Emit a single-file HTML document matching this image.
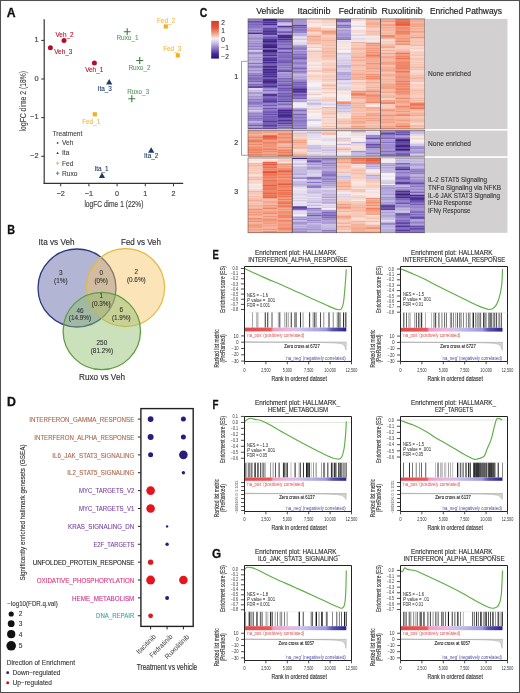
<!DOCTYPE html>
<html><head><meta charset="utf-8"><style>
html,body{margin:0;padding:0;background:#fff;}
body{width:520px;height:693px;overflow:hidden;}
svg{display:block;font-family:"Liberation Sans", sans-serif;will-change:transform;}
</style></head><body>
<svg width="520" height="693" viewBox="0 0 520 693">
<rect width="520" height="693" fill="#fff"/>
<text transform="translate(6.69,17.00) scale(1.028,1)" font-size="11.9" font-weight="bold" fill="#111" stroke="#111" stroke-width="0.3">A</text>
<line x1="44.20" y1="19.20" x2="44.20" y2="183.80" stroke="#333" stroke-width="1.2" />
<line x1="43.60" y1="183.30" x2="183.20" y2="183.30" stroke="#333" stroke-width="1.2" />
<line x1="41.20" y1="40.40" x2="44.20" y2="40.40" stroke="#333" stroke-width="1" />
<text x="38.50" y="42.26" font-size="7.4" fill="#444" stroke="#444" stroke-width="0.16" text-anchor="end" >1</text>
<line x1="41.20" y1="79.00" x2="44.20" y2="79.00" stroke="#333" stroke-width="1" />
<text x="38.50" y="80.86" font-size="7.4" fill="#444" stroke="#444" stroke-width="0.16" text-anchor="end" >0</text>
<line x1="41.20" y1="117.60" x2="44.20" y2="117.60" stroke="#333" stroke-width="1" />
<text x="38.50" y="119.46" font-size="7.4" fill="#444" stroke="#444" stroke-width="0.16" text-anchor="end" >−1</text>
<line x1="41.20" y1="156.30" x2="44.20" y2="156.30" stroke="#333" stroke-width="1" />
<text x="38.50" y="158.16" font-size="7.4" fill="#444" stroke="#444" stroke-width="0.16" text-anchor="end" >−2</text>
<line x1="60.70" y1="183.30" x2="60.70" y2="186.30" stroke="#333" stroke-width="1" />
<text x="60.70" y="196.19" font-size="7.2" fill="#444" stroke="#444" stroke-width="0.16" text-anchor="middle" >−2</text>
<line x1="88.90" y1="183.30" x2="88.90" y2="186.30" stroke="#333" stroke-width="1" />
<text x="88.90" y="196.19" font-size="7.2" fill="#444" stroke="#444" stroke-width="0.16" text-anchor="middle" >−1</text>
<line x1="117.10" y1="183.30" x2="117.10" y2="186.30" stroke="#333" stroke-width="1" />
<text x="117.10" y="196.19" font-size="7.2" fill="#444" stroke="#444" stroke-width="0.16" text-anchor="middle" >0</text>
<line x1="145.30" y1="183.30" x2="145.30" y2="186.30" stroke="#333" stroke-width="1" />
<text x="145.30" y="196.19" font-size="7.2" fill="#444" stroke="#444" stroke-width="0.16" text-anchor="middle" >1</text>
<line x1="173.50" y1="183.30" x2="173.50" y2="186.30" stroke="#333" stroke-width="1" />
<text x="173.50" y="196.19" font-size="7.2" fill="#444" stroke="#444" stroke-width="0.16" text-anchor="middle" >2</text>
<text x="113.90" y="207.20" font-size="8.5" fill="#444" stroke="#444" stroke-width="0.16" text-anchor="middle" textLength="59" lengthAdjust="spacingAndGlyphs" >logFC dime 1 (22%)</text>
<text transform="translate(26.0,101.2) rotate(-90)" font-size="8.5" fill="#444" stroke="#444" stroke-width="0.12" text-anchor="middle" textLength="60.4" lengthAdjust="spacingAndGlyphs">logFC dime 2 (18%)</text>
<circle cx="64" cy="40.4" r="2.5" fill="#b0102c"/>
<text x="64.50" y="37.30" font-size="6.4" fill="#b0102c" stroke="#b0102c" stroke-width="0.1" text-anchor="middle" >Veh_2</text>
<circle cx="50.4" cy="47.8" r="2.5" fill="#b0102c"/>
<text x="54.20" y="53.70" font-size="6.4" fill="#b0102c" stroke="#b0102c" stroke-width="0.1" text-anchor="start" >Veh_3</text>
<circle cx="94.4" cy="63" r="2.5" fill="#b0102c"/>
<text x="94.20" y="71.50" font-size="6.4" fill="#b0102c" stroke="#b0102c" stroke-width="0.1" text-anchor="middle" >Veh_1</text>
<polygon points="106.10000000000001,84.48 112.3,84.48 109.2,78.9" fill="#1d3a66"/>
<text x="104.80" y="90.50" font-size="6.4" fill="#1d3a66" stroke="#1d3a66" stroke-width="0.1" text-anchor="middle" >Ita_3</text>
<polygon points="98.9,177.98 105.1,177.98 102,172.4" fill="#1d3a66"/>
<text x="101.50" y="171.00" font-size="6.4" fill="#1d3a66" stroke="#1d3a66" stroke-width="0.1" text-anchor="middle" >Ita_1</text>
<polygon points="148.1,152.78 154.29999999999998,152.78 151.2,147.20000000000002" fill="#1d3a66"/>
<text x="151.20" y="158.30" font-size="6.4" fill="#1d3a66" stroke="#1d3a66" stroke-width="0.1" text-anchor="middle" >Ita_2</text>
<rect x="92.7" y="112.2" width="4.2" height="4.2" fill="#f2b01e"/>
<text x="91.20" y="123.60" font-size="6.4" fill="#f3b83a" stroke="#f3b83a" stroke-width="0.1" text-anchor="middle" >Fed_1</text>
<rect x="163.70000000000002" y="24.4" width="4.2" height="4.2" fill="#f2b01e"/>
<text x="166.00" y="22.50" font-size="6.4" fill="#f3b83a" stroke="#f3b83a" stroke-width="0.1" text-anchor="middle" >Fed_2</text>
<rect x="175.70000000000002" y="53.3" width="4.2" height="4.2" fill="#f2b01e"/>
<text x="172.20" y="51.30" font-size="6.4" fill="#f3b83a" stroke="#f3b83a" stroke-width="0.1" text-anchor="middle" >Fed_3</text>
<path d="M123.7 31.8H130.7M127.2 28.3V35.3" stroke="#3d7a45" stroke-width="1.1"/>
<text x="127.50" y="40.30" font-size="6.4" fill="#5c9a64" stroke="#5c9a64" stroke-width="0.1" text-anchor="middle" >Ruxo_1</text>
<path d="M136.2 60.5H143.2M139.7 57.0V64.0" stroke="#3d7a45" stroke-width="1.1"/>
<text x="139.50" y="69.90" font-size="6.4" fill="#5c9a64" stroke="#5c9a64" stroke-width="0.1" text-anchor="middle" >Ruxo_2</text>
<path d="M128.3 98.8H135.3M131.8 95.3V102.3" stroke="#3d7a45" stroke-width="1.1"/>
<text x="138.20" y="94.10" font-size="6.4" fill="#5c9a64" stroke="#5c9a64" stroke-width="0.1" text-anchor="middle" >Ruxo_3</text>
<text x="52.50" y="135.78" font-size="6.6" fill="#444" stroke="#444" stroke-width="0.1" text-anchor="start" >Treatment</text>
<circle cx="57.6" cy="142.9" r="0.9" fill="#b0102c"/>
<text x="62.00" y="145.28" font-size="6.6" fill="#444" stroke="#444" stroke-width="0.1" text-anchor="start" >Veh</text>
<polygon points="56.4,153.9 58.8,153.9 57.6,151.8" fill="#1d3a66"/>
<text x="62.00" y="155.38" font-size="6.6" fill="#444" stroke="#444" stroke-width="0.1" text-anchor="start" >Ita</text>
<path d="M56.1 163.2H59.1M57.6 161.7V164.7" stroke="#f2b01e" stroke-width="0.9"/>
<text x="62.00" y="165.58" font-size="6.6" fill="#444" stroke="#444" stroke-width="0.1" text-anchor="start" >Fed</text>
<path d="M55.9 173.2H59.3M57.6 171.5V174.89999999999998" stroke="#4a8f52" stroke-width="0.9"/>
<text x="62.00" y="175.58" font-size="6.6" fill="#444" stroke="#444" stroke-width="0.1" text-anchor="start" >Ruxo</text>
<text transform="translate(199.68,16.90) scale(0.885,1)" font-size="11.9" font-weight="bold" fill="#111" stroke="#111" stroke-width="0.3">C</text>
<defs><linearGradient id="cb" x1="0" y1="0" x2="0" y2="1"><stop offset="0" stop-color="#d83a28"/><stop offset="0.18" stop-color="#e65438"/><stop offset="0.34" stop-color="#f3a48a"/><stop offset="0.47" stop-color="#f8eef0"/><stop offset="0.6" stop-color="#c6b8e2"/><stop offset="0.74" stop-color="#8470c2"/><stop offset="0.87" stop-color="#4a2c9c"/><stop offset="1" stop-color="#2a1070"/></linearGradient></defs>
<rect x="211.2" y="20.9" width="7.7" height="37.7" fill="url(#cb)"/>
<text x="221.30" y="24.88" font-size="6.6" fill="#333" stroke="#333" stroke-width="0.1" text-anchor="start" >2</text>
<text x="221.30" y="33.28" font-size="6.6" fill="#333" stroke="#333" stroke-width="0.1" text-anchor="start" >1</text>
<text x="221.30" y="42.18" font-size="6.6" fill="#333" stroke="#333" stroke-width="0.1" text-anchor="start" >0</text>
<text x="221.30" y="50.28" font-size="6.6" fill="#333" stroke="#333" stroke-width="0.1" text-anchor="start" >−1</text>
<text x="221.30" y="58.88" font-size="6.6" fill="#333" stroke="#333" stroke-width="0.1" text-anchor="start" >−2</text>
<text x="270.20" y="14.30" font-size="8.6" fill="#222" stroke="#222" stroke-width="0.16" text-anchor="middle" textLength="27.7" lengthAdjust="spacingAndGlyphs" >Vehicle</text>
<text x="314.00" y="14.30" font-size="8.6" fill="#222" stroke="#222" stroke-width="0.16" text-anchor="middle" textLength="33.1" lengthAdjust="spacingAndGlyphs" >Itacitinib</text>
<text x="357.90" y="14.30" font-size="8.6" fill="#222" stroke="#222" stroke-width="0.16" text-anchor="middle" textLength="38.3" lengthAdjust="spacingAndGlyphs" >Fedratinib</text>
<text x="402.10" y="14.30" font-size="8.6" fill="#222" stroke="#222" stroke-width="0.16" text-anchor="middle" textLength="41.3" lengthAdjust="spacingAndGlyphs" >Ruxolitinib</text>
<text x="466.00" y="14.30" font-size="8.6" fill="#222" stroke="#222" stroke-width="0.16" text-anchor="middle" textLength="72" lengthAdjust="spacingAndGlyphs" >Enriched Pathways</text>
<defs><filter id="hb" filterUnits="userSpaceOnUse" x="246" y="16" width="181" height="220"><feGaussianBlur stdDeviation="0.4"/></filter></defs>
<g filter="url(#hb)">
<rect x="248.0" y="18.90" width="14.8" height="1.65" fill="#927fc9"/>
<rect x="248.0" y="20.50" width="14.8" height="1.65" fill="#684eae"/>
<rect x="248.0" y="22.10" width="14.8" height="1.65" fill="#6a51b0"/>
<rect x="248.0" y="23.70" width="14.8" height="1.35" fill="#7d66bd"/>
<rect x="248.0" y="25.00" width="14.8" height="2.05" fill="#8872c4"/>
<rect x="248.0" y="27.00" width="14.8" height="1.35" fill="#8b77c6"/>
<rect x="248.0" y="28.30" width="14.8" height="1.15" fill="#806abf"/>
<rect x="248.0" y="29.40" width="14.8" height="2.05" fill="#8b76c5"/>
<rect x="248.0" y="31.40" width="14.8" height="1.15" fill="#7c65bc"/>
<rect x="248.0" y="32.50" width="14.8" height="1.65" fill="#4b2e95"/>
<rect x="248.0" y="34.10" width="14.8" height="2.05" fill="#afa1d6"/>
<rect x="248.0" y="36.10" width="14.8" height="2.05" fill="#aa9bd4"/>
<rect x="248.0" y="38.10" width="14.8" height="1.15" fill="#917ec8"/>
<rect x="248.0" y="39.20" width="14.8" height="1.35" fill="#9684cb"/>
<rect x="248.0" y="40.50" width="14.8" height="2.05" fill="#a493d1"/>
<rect x="248.0" y="42.50" width="14.8" height="1.65" fill="#9683ca"/>
<rect x="248.0" y="44.10" width="14.8" height="2.05" fill="#a291d0"/>
<rect x="248.0" y="46.10" width="14.8" height="1.35" fill="#8873c4"/>
<rect x="248.0" y="47.40" width="14.8" height="1.65" fill="#9e8dce"/>
<rect x="248.0" y="49.00" width="14.8" height="1.35" fill="#9886cb"/>
<rect x="248.0" y="50.30" width="14.8" height="1.65" fill="#cdc3e3"/>
<rect x="248.0" y="51.90" width="14.8" height="1.15" fill="#9c8bcd"/>
<rect x="248.0" y="53.00" width="14.8" height="1.35" fill="#9886cc"/>
<rect x="248.0" y="54.30" width="14.8" height="1.35" fill="#a798d2"/>
<rect x="248.0" y="55.60" width="14.8" height="1.15" fill="#b5a8d9"/>
<rect x="248.0" y="56.70" width="14.8" height="1.65" fill="#a899d3"/>
<rect x="248.0" y="58.30" width="14.8" height="1.15" fill="#a696d2"/>
<rect x="248.0" y="59.40" width="14.8" height="1.15" fill="#907dc8"/>
<rect x="248.0" y="60.50" width="14.8" height="1.15" fill="#a595d1"/>
<rect x="248.0" y="61.60" width="14.8" height="1.15" fill="#baaedb"/>
<rect x="248.0" y="62.70" width="14.8" height="1.65" fill="#8671c3"/>
<rect x="248.0" y="64.30" width="14.8" height="1.65" fill="#a99ad3"/>
<rect x="248.0" y="65.90" width="14.8" height="1.15" fill="#8e7ac7"/>
<rect x="248.0" y="67.00" width="14.8" height="1.35" fill="#9380c9"/>
<rect x="248.0" y="68.30" width="14.8" height="1.35" fill="#a493d1"/>
<rect x="248.0" y="69.60" width="14.8" height="1.65" fill="#9f8ecf"/>
<rect x="248.0" y="71.20" width="14.8" height="1.15" fill="#a898d3"/>
<rect x="248.0" y="72.30" width="14.8" height="1.15" fill="#aa9bd4"/>
<rect x="248.0" y="73.40" width="14.8" height="1.15" fill="#6d54b2"/>
<rect x="248.0" y="74.50" width="14.8" height="2.05" fill="#826cc0"/>
<rect x="248.0" y="76.50" width="14.8" height="1.35" fill="#755db7"/>
<rect x="248.0" y="77.80" width="14.8" height="1.35" fill="#816bbf"/>
<rect x="248.0" y="79.10" width="14.8" height="1.65" fill="#7962ba"/>
<rect x="248.0" y="80.70" width="14.8" height="1.65" fill="#7861b9"/>
<rect x="248.0" y="82.30" width="14.8" height="1.35" fill="#9d8bce"/>
<rect x="248.0" y="83.60" width="14.8" height="2.05" fill="#7e68bd"/>
<rect x="248.0" y="85.60" width="14.8" height="1.35" fill="#6349ab"/>
<rect x="248.0" y="86.90" width="14.8" height="1.35" fill="#6045a9"/>
<rect x="248.0" y="88.20" width="14.8" height="1.65" fill="#e0d8eb"/>
<rect x="248.0" y="89.80" width="14.8" height="2.05" fill="#c7bce1"/>
<rect x="248.0" y="91.80" width="14.8" height="1.15" fill="#aa9bd4"/>
<rect x="248.0" y="92.90" width="14.8" height="1.65" fill="#a494d1"/>
<rect x="248.0" y="94.50" width="14.8" height="1.35" fill="#b7abda"/>
<rect x="248.0" y="95.80" width="14.8" height="1.35" fill="#a393d1"/>
<rect x="248.0" y="97.10" width="14.8" height="1.65" fill="#a899d3"/>
<rect x="248.0" y="98.70" width="14.8" height="2.05" fill="#8b77c5"/>
<rect x="248.0" y="100.70" width="14.8" height="1.35" fill="#9784cb"/>
<rect x="248.0" y="102.00" width="14.8" height="2.05" fill="#8975c5"/>
<rect x="248.0" y="104.00" width="14.8" height="1.65" fill="#9684cb"/>
<rect x="248.0" y="105.60" width="14.8" height="2.05" fill="#9784cb"/>
<rect x="248.0" y="107.60" width="14.8" height="1.35" fill="#beb2dd"/>
<rect x="248.0" y="108.90" width="14.8" height="1.35" fill="#afa1d6"/>
<rect x="248.0" y="110.20" width="14.8" height="1.35" fill="#d2c8e5"/>
<rect x="248.0" y="111.50" width="14.8" height="1.35" fill="#a798d2"/>
<rect x="248.0" y="112.80" width="14.8" height="1.35" fill="#9481ca"/>
<rect x="248.0" y="114.10" width="14.8" height="2.05" fill="#9a89cd"/>
<rect x="248.0" y="116.10" width="14.8" height="1.35" fill="#826cc0"/>
<rect x="248.0" y="117.40" width="14.8" height="1.65" fill="#846fc1"/>
<rect x="248.0" y="119.00" width="14.8" height="2.05" fill="#9784cb"/>
<rect x="248.0" y="121.00" width="14.8" height="1.15" fill="#bfb3dd"/>
<rect x="248.0" y="122.10" width="14.8" height="1.15" fill="#b0a2d6"/>
<rect x="248.0" y="123.20" width="14.8" height="1.65" fill="#917ec8"/>
<rect x="248.0" y="124.80" width="14.8" height="1.35" fill="#755eb7"/>
<rect x="248.0" y="126.10" width="14.8" height="1.65" fill="#a392d0"/>
<rect x="248.0" y="127.70" width="14.8" height="1.35" fill="#7057b4"/>
<rect x="262.7" y="18.90" width="14.8" height="1.15" fill="#3e2186"/>
<rect x="262.7" y="20.00" width="14.8" height="1.35" fill="#43258b"/>
<rect x="262.7" y="21.30" width="14.8" height="2.05" fill="#4c3096"/>
<rect x="262.7" y="23.30" width="14.8" height="2.05" fill="#472a8f"/>
<rect x="262.7" y="25.30" width="14.8" height="1.35" fill="#6f56b3"/>
<rect x="262.7" y="26.60" width="14.8" height="1.15" fill="#7861b9"/>
<rect x="262.7" y="27.70" width="14.8" height="1.35" fill="#6247aa"/>
<rect x="262.7" y="29.00" width="14.8" height="1.15" fill="#674dad"/>
<rect x="262.7" y="30.10" width="14.8" height="2.05" fill="#4c2f96"/>
<rect x="262.7" y="32.10" width="14.8" height="2.05" fill="#4e3198"/>
<rect x="262.7" y="34.10" width="14.8" height="1.35" fill="#492c93"/>
<rect x="262.7" y="35.40" width="14.8" height="1.65" fill="#8a75c5"/>
<rect x="262.7" y="37.00" width="14.8" height="2.05" fill="#7159b5"/>
<rect x="262.7" y="39.00" width="14.8" height="2.05" fill="#4c3096"/>
<rect x="262.7" y="41.00" width="14.8" height="1.15" fill="#3d1f84"/>
<rect x="262.7" y="42.10" width="14.8" height="1.65" fill="#4d3097"/>
<rect x="262.7" y="43.70" width="14.8" height="1.15" fill="#3a1c80"/>
<rect x="262.7" y="44.80" width="14.8" height="1.15" fill="#3e2185"/>
<rect x="262.7" y="45.90" width="14.8" height="1.15" fill="#3f2186"/>
<rect x="262.7" y="47.00" width="14.8" height="1.35" fill="#381a7e"/>
<rect x="262.7" y="48.30" width="14.8" height="1.15" fill="#674eae"/>
<rect x="262.7" y="49.40" width="14.8" height="1.65" fill="#381a7e"/>
<rect x="262.7" y="51.00" width="14.8" height="1.35" fill="#3d1f84"/>
<rect x="262.7" y="52.30" width="14.8" height="1.35" fill="#391b7f"/>
<rect x="262.7" y="53.60" width="14.8" height="1.15" fill="#4c2f96"/>
<rect x="262.7" y="54.70" width="14.8" height="1.65" fill="#4c2f96"/>
<rect x="262.7" y="56.30" width="14.8" height="1.65" fill="#694faf"/>
<rect x="262.7" y="57.90" width="14.8" height="2.05" fill="#4e3299"/>
<rect x="262.7" y="59.90" width="14.8" height="1.65" fill="#42258a"/>
<rect x="262.7" y="61.50" width="14.8" height="2.05" fill="#44278d"/>
<rect x="262.7" y="63.50" width="14.8" height="1.15" fill="#412489"/>
<rect x="262.7" y="64.60" width="14.8" height="1.15" fill="#6146a9"/>
<rect x="262.7" y="65.70" width="14.8" height="1.35" fill="#492c93"/>
<rect x="262.7" y="67.00" width="14.8" height="1.65" fill="#51349c"/>
<rect x="262.7" y="68.60" width="14.8" height="1.65" fill="#3e2186"/>
<rect x="262.7" y="70.20" width="14.8" height="1.65" fill="#391b7f"/>
<rect x="262.7" y="71.80" width="14.8" height="2.05" fill="#472a90"/>
<rect x="262.7" y="73.80" width="14.8" height="2.05" fill="#50349b"/>
<rect x="262.7" y="75.80" width="14.8" height="1.65" fill="#46298f"/>
<rect x="262.7" y="77.40" width="14.8" height="1.15" fill="#46298e"/>
<rect x="262.7" y="78.50" width="14.8" height="1.65" fill="#52369d"/>
<rect x="262.7" y="80.10" width="14.8" height="2.05" fill="#3e2186"/>
<rect x="262.7" y="82.10" width="14.8" height="1.15" fill="#3b1d82"/>
<rect x="262.7" y="83.20" width="14.8" height="1.35" fill="#402287"/>
<rect x="262.7" y="84.50" width="14.8" height="1.35" fill="#51359c"/>
<rect x="262.7" y="85.80" width="14.8" height="2.05" fill="#4d3198"/>
<rect x="262.7" y="87.80" width="14.8" height="1.65" fill="#9b8acd"/>
<rect x="262.7" y="89.40" width="14.8" height="1.65" fill="#8873c4"/>
<rect x="262.7" y="91.00" width="14.8" height="1.35" fill="#a99ad3"/>
<rect x="262.7" y="92.30" width="14.8" height="1.35" fill="#9f8ecf"/>
<rect x="262.7" y="93.60" width="14.8" height="1.35" fill="#4a2d93"/>
<rect x="262.7" y="94.90" width="14.8" height="1.35" fill="#4d3197"/>
<rect x="262.7" y="96.20" width="14.8" height="1.35" fill="#6349ab"/>
<rect x="262.7" y="97.50" width="14.8" height="1.35" fill="#6247aa"/>
<rect x="262.7" y="98.80" width="14.8" height="1.15" fill="#6349ab"/>
<rect x="262.7" y="99.90" width="14.8" height="1.15" fill="#6147aa"/>
<rect x="262.7" y="101.00" width="14.8" height="1.35" fill="#54389f"/>
<rect x="262.7" y="102.30" width="14.8" height="1.15" fill="#4f339a"/>
<rect x="262.7" y="103.40" width="14.8" height="1.35" fill="#826cc0"/>
<rect x="262.7" y="104.70" width="14.8" height="1.65" fill="#7158b4"/>
<rect x="262.7" y="106.30" width="14.8" height="1.35" fill="#8a76c5"/>
<rect x="262.7" y="107.60" width="14.8" height="2.05" fill="#6e56b3"/>
<rect x="262.7" y="109.60" width="14.8" height="1.15" fill="#765eb8"/>
<rect x="262.7" y="110.70" width="14.8" height="1.35" fill="#7760b8"/>
<rect x="262.7" y="112.00" width="14.8" height="1.35" fill="#7159b4"/>
<rect x="262.7" y="113.30" width="14.8" height="2.05" fill="#674dad"/>
<rect x="262.7" y="115.30" width="14.8" height="2.05" fill="#7159b5"/>
<rect x="262.7" y="117.30" width="14.8" height="1.15" fill="#563aa2"/>
<rect x="262.7" y="118.40" width="14.8" height="1.35" fill="#5539a1"/>
<rect x="262.7" y="119.70" width="14.8" height="1.15" fill="#6147aa"/>
<rect x="262.7" y="120.80" width="14.8" height="1.35" fill="#5539a1"/>
<rect x="262.7" y="122.10" width="14.8" height="1.15" fill="#674eae"/>
<rect x="262.7" y="123.20" width="14.8" height="1.15" fill="#5f45a8"/>
<rect x="262.7" y="124.30" width="14.8" height="2.05" fill="#53379e"/>
<rect x="262.7" y="126.30" width="14.8" height="1.15" fill="#4e3299"/>
<rect x="262.7" y="127.40" width="14.8" height="1.65" fill="#654bac"/>
<rect x="277.5" y="18.90" width="14.8" height="1.35" fill="#846fc1"/>
<rect x="277.5" y="20.20" width="14.8" height="1.15" fill="#755db7"/>
<rect x="277.5" y="21.30" width="14.8" height="1.15" fill="#6147aa"/>
<rect x="277.5" y="22.40" width="14.8" height="1.35" fill="#b6a8d9"/>
<rect x="277.5" y="23.70" width="14.8" height="2.05" fill="#cfc5e4"/>
<rect x="277.5" y="25.70" width="14.8" height="2.05" fill="#4f339a"/>
<rect x="277.5" y="27.70" width="14.8" height="1.35" fill="#9d8bce"/>
<rect x="277.5" y="29.00" width="14.8" height="1.65" fill="#ab9cd4"/>
<rect x="277.5" y="30.60" width="14.8" height="1.35" fill="#7a63bb"/>
<rect x="277.5" y="31.90" width="14.8" height="1.15" fill="#725ab5"/>
<rect x="277.5" y="33.00" width="14.8" height="1.65" fill="#9f8ecf"/>
<rect x="277.5" y="34.60" width="14.8" height="1.35" fill="#412489"/>
<rect x="277.5" y="35.90" width="14.8" height="1.15" fill="#492c92"/>
<rect x="277.5" y="37.00" width="14.8" height="1.65" fill="#44268c"/>
<rect x="277.5" y="38.60" width="14.8" height="2.05" fill="#4c2f96"/>
<rect x="277.5" y="40.60" width="14.8" height="1.35" fill="#694faf"/>
<rect x="277.5" y="41.90" width="14.8" height="1.35" fill="#836dc1"/>
<rect x="277.5" y="43.20" width="14.8" height="1.15" fill="#7962ba"/>
<rect x="277.5" y="44.30" width="14.8" height="1.15" fill="#5e43a7"/>
<rect x="277.5" y="45.40" width="14.8" height="1.35" fill="#7a63ba"/>
<rect x="277.5" y="46.70" width="14.8" height="1.15" fill="#8873c4"/>
<rect x="277.5" y="47.80" width="14.8" height="1.35" fill="#5f44a8"/>
<rect x="277.5" y="49.10" width="14.8" height="1.35" fill="#735bb6"/>
<rect x="277.5" y="50.40" width="14.8" height="1.35" fill="#927fc9"/>
<rect x="277.5" y="51.70" width="14.8" height="1.35" fill="#6950af"/>
<rect x="277.5" y="53.00" width="14.8" height="2.05" fill="#8772c3"/>
<rect x="277.5" y="55.00" width="14.8" height="2.05" fill="#816bbf"/>
<rect x="277.5" y="57.00" width="14.8" height="1.65" fill="#7b64bb"/>
<rect x="277.5" y="58.60" width="14.8" height="1.15" fill="#684eae"/>
<rect x="277.5" y="59.70" width="14.8" height="1.35" fill="#7b64bb"/>
<rect x="277.5" y="61.00" width="14.8" height="1.15" fill="#745cb6"/>
<rect x="277.5" y="62.10" width="14.8" height="1.35" fill="#6348ab"/>
<rect x="277.5" y="63.40" width="14.8" height="1.35" fill="#745db7"/>
<rect x="277.5" y="64.70" width="14.8" height="1.65" fill="#846ec1"/>
<rect x="277.5" y="66.30" width="14.8" height="2.05" fill="#8872c4"/>
<rect x="277.5" y="68.30" width="14.8" height="1.65" fill="#8a75c5"/>
<rect x="277.5" y="69.90" width="14.8" height="1.15" fill="#735bb6"/>
<rect x="277.5" y="71.00" width="14.8" height="1.35" fill="#674eae"/>
<rect x="277.5" y="72.30" width="14.8" height="2.05" fill="#a99ad3"/>
<rect x="277.5" y="74.30" width="14.8" height="1.35" fill="#846fc2"/>
<rect x="277.5" y="75.60" width="14.8" height="2.05" fill="#9e8cce"/>
<rect x="277.5" y="77.60" width="14.8" height="1.35" fill="#7861b9"/>
<rect x="277.5" y="78.90" width="14.8" height="2.05" fill="#8c77c6"/>
<rect x="277.5" y="80.90" width="14.8" height="1.35" fill="#7b64bb"/>
<rect x="277.5" y="82.20" width="14.8" height="2.05" fill="#8670c3"/>
<rect x="277.5" y="84.20" width="14.8" height="2.05" fill="#674eae"/>
<rect x="277.5" y="86.20" width="14.8" height="1.65" fill="#7b65bb"/>
<rect x="277.5" y="87.80" width="14.8" height="2.05" fill="#6b52b0"/>
<rect x="277.5" y="89.80" width="14.8" height="1.65" fill="#755db7"/>
<rect x="277.5" y="91.40" width="14.8" height="1.15" fill="#7057b3"/>
<rect x="277.5" y="92.50" width="14.8" height="1.65" fill="#735bb6"/>
<rect x="277.5" y="94.10" width="14.8" height="2.05" fill="#7a63bb"/>
<rect x="277.5" y="96.10" width="14.8" height="1.65" fill="#6247aa"/>
<rect x="277.5" y="97.70" width="14.8" height="1.15" fill="#725ab5"/>
<rect x="277.5" y="98.80" width="14.8" height="2.05" fill="#7962ba"/>
<rect x="277.5" y="100.80" width="14.8" height="1.65" fill="#5e43a7"/>
<rect x="277.5" y="102.40" width="14.8" height="1.65" fill="#927ec9"/>
<rect x="277.5" y="104.00" width="14.8" height="1.35" fill="#7e68bd"/>
<rect x="277.5" y="105.30" width="14.8" height="1.35" fill="#907cc8"/>
<rect x="277.5" y="106.60" width="14.8" height="1.65" fill="#9b8acd"/>
<rect x="277.5" y="108.20" width="14.8" height="1.65" fill="#6a50af"/>
<rect x="277.5" y="109.80" width="14.8" height="2.05" fill="#42248a"/>
<rect x="277.5" y="111.80" width="14.8" height="2.05" fill="#492d93"/>
<rect x="277.5" y="113.80" width="14.8" height="1.15" fill="#482b91"/>
<rect x="277.5" y="114.90" width="14.8" height="1.15" fill="#42258a"/>
<rect x="277.5" y="116.00" width="14.8" height="1.15" fill="#46298f"/>
<rect x="277.5" y="117.10" width="14.8" height="1.35" fill="#4a2d94"/>
<rect x="277.5" y="118.40" width="14.8" height="1.35" fill="#5539a1"/>
<rect x="277.5" y="119.70" width="14.8" height="1.65" fill="#4f339a"/>
<rect x="277.5" y="121.30" width="14.8" height="1.15" fill="#4a2d94"/>
<rect x="277.5" y="122.40" width="14.8" height="2.05" fill="#563aa2"/>
<rect x="277.5" y="124.40" width="14.8" height="2.05" fill="#745cb6"/>
<rect x="277.5" y="126.40" width="14.8" height="2.05" fill="#7e68bd"/>
<rect x="277.5" y="128.40" width="14.8" height="0.65" fill="#8974c4"/>
<rect x="292.2" y="18.90" width="14.8" height="2.05" fill="#a08fcf"/>
<rect x="292.2" y="20.90" width="14.8" height="2.05" fill="#a292d0"/>
<rect x="292.2" y="22.90" width="14.8" height="2.05" fill="#a696d2"/>
<rect x="292.2" y="24.90" width="14.8" height="1.35" fill="#6147aa"/>
<rect x="292.2" y="26.20" width="14.8" height="2.05" fill="#7961ba"/>
<rect x="292.2" y="28.20" width="14.8" height="2.05" fill="#856fc2"/>
<rect x="292.2" y="30.20" width="14.8" height="1.35" fill="#755eb7"/>
<rect x="292.2" y="31.50" width="14.8" height="1.35" fill="#7962ba"/>
<rect x="292.2" y="32.80" width="14.8" height="1.35" fill="#beb3dd"/>
<rect x="292.2" y="34.10" width="14.8" height="1.35" fill="#b3a6d8"/>
<rect x="292.2" y="35.40" width="14.8" height="1.15" fill="#a898d3"/>
<rect x="292.2" y="36.50" width="14.8" height="1.35" fill="#e7e0ed"/>
<rect x="292.2" y="37.80" width="14.8" height="1.15" fill="#d9d1e8"/>
<rect x="292.2" y="38.90" width="14.8" height="1.35" fill="#d1c7e5"/>
<rect x="292.2" y="40.20" width="14.8" height="1.65" fill="#ece5ef"/>
<rect x="292.2" y="41.80" width="14.8" height="2.05" fill="#e2daeb"/>
<rect x="292.2" y="43.80" width="14.8" height="1.65" fill="#d7cee7"/>
<rect x="292.2" y="45.40" width="14.8" height="1.15" fill="#8e7ac7"/>
<rect x="292.2" y="46.50" width="14.8" height="1.35" fill="#8974c5"/>
<rect x="292.2" y="47.80" width="14.8" height="1.35" fill="#8b77c6"/>
<rect x="292.2" y="49.10" width="14.8" height="1.35" fill="#8a75c5"/>
<rect x="292.2" y="50.40" width="14.8" height="2.05" fill="#9b89cd"/>
<rect x="292.2" y="52.40" width="14.8" height="1.15" fill="#7e67bd"/>
<rect x="292.2" y="53.50" width="14.8" height="1.65" fill="#816bbf"/>
<rect x="292.2" y="55.10" width="14.8" height="2.05" fill="#8b76c5"/>
<rect x="292.2" y="57.10" width="14.8" height="2.05" fill="#755db7"/>
<rect x="292.2" y="59.10" width="14.8" height="1.35" fill="#8671c3"/>
<rect x="292.2" y="60.40" width="14.8" height="1.35" fill="#8c78c6"/>
<rect x="292.2" y="61.70" width="14.8" height="1.35" fill="#927ec8"/>
<rect x="292.2" y="63.00" width="14.8" height="1.35" fill="#8e7ac7"/>
<rect x="292.2" y="64.30" width="14.8" height="1.15" fill="#8570c2"/>
<rect x="292.2" y="65.40" width="14.8" height="1.35" fill="#9986cc"/>
<rect x="292.2" y="66.70" width="14.8" height="1.15" fill="#836dc1"/>
<rect x="292.2" y="67.80" width="14.8" height="1.35" fill="#7c65bc"/>
<rect x="292.2" y="69.10" width="14.8" height="1.35" fill="#927fc9"/>
<rect x="292.2" y="70.40" width="14.8" height="1.65" fill="#8c77c6"/>
<rect x="292.2" y="72.00" width="14.8" height="1.15" fill="#9784cb"/>
<rect x="292.2" y="73.10" width="14.8" height="1.35" fill="#a99ad3"/>
<rect x="292.2" y="74.40" width="14.8" height="1.35" fill="#b2a4d7"/>
<rect x="292.2" y="75.70" width="14.8" height="1.65" fill="#b5a7d9"/>
<rect x="292.2" y="77.30" width="14.8" height="1.15" fill="#9886cb"/>
<rect x="292.2" y="78.40" width="14.8" height="2.05" fill="#a696d2"/>
<rect x="292.2" y="80.40" width="14.8" height="1.15" fill="#7159b4"/>
<rect x="292.2" y="81.50" width="14.8" height="1.65" fill="#755eb7"/>
<rect x="292.2" y="83.10" width="14.8" height="2.05" fill="#7a63ba"/>
<rect x="292.2" y="85.10" width="14.8" height="1.35" fill="#826cc0"/>
<rect x="292.2" y="86.40" width="14.8" height="1.15" fill="#492d93"/>
<rect x="292.2" y="87.50" width="14.8" height="1.35" fill="#54379f"/>
<rect x="292.2" y="88.80" width="14.8" height="1.35" fill="#482b91"/>
<rect x="292.2" y="90.10" width="14.8" height="2.05" fill="#4b2e95"/>
<rect x="292.2" y="92.10" width="14.8" height="1.35" fill="#54379f"/>
<rect x="292.2" y="93.40" width="14.8" height="1.65" fill="#6d54b1"/>
<rect x="292.2" y="95.00" width="14.8" height="1.35" fill="#735bb6"/>
<rect x="292.2" y="96.30" width="14.8" height="1.35" fill="#684eae"/>
<rect x="292.2" y="97.60" width="14.8" height="1.35" fill="#6a51b0"/>
<rect x="292.2" y="98.90" width="14.8" height="2.05" fill="#b3a6d8"/>
<rect x="292.2" y="100.90" width="14.8" height="1.35" fill="#ab9cd4"/>
<rect x="292.2" y="102.20" width="14.8" height="1.35" fill="#e3dcec"/>
<rect x="292.2" y="103.50" width="14.8" height="1.35" fill="#f1ebf2"/>
<rect x="292.2" y="104.80" width="14.8" height="2.05" fill="#f2edf2"/>
<rect x="292.2" y="106.80" width="14.8" height="1.65" fill="#e9e3ee"/>
<rect x="292.2" y="108.40" width="14.8" height="1.35" fill="#9582ca"/>
<rect x="292.2" y="109.70" width="14.8" height="2.05" fill="#846ec1"/>
<rect x="292.2" y="111.70" width="14.8" height="1.15" fill="#a292d0"/>
<rect x="292.2" y="112.80" width="14.8" height="1.35" fill="#a291d0"/>
<rect x="292.2" y="114.10" width="14.8" height="1.35" fill="#6d55b2"/>
<rect x="292.2" y="115.40" width="14.8" height="1.35" fill="#846fc1"/>
<rect x="292.2" y="116.70" width="14.8" height="1.65" fill="#8a75c5"/>
<rect x="292.2" y="118.30" width="14.8" height="1.35" fill="#7f68be"/>
<rect x="292.2" y="119.60" width="14.8" height="1.35" fill="#816bbf"/>
<rect x="292.2" y="120.90" width="14.8" height="2.05" fill="#8d78c6"/>
<rect x="292.2" y="122.90" width="14.8" height="2.05" fill="#9684cb"/>
<rect x="292.2" y="124.90" width="14.8" height="1.65" fill="#8d78c6"/>
<rect x="292.2" y="126.50" width="14.8" height="1.15" fill="#7d66bc"/>
<rect x="292.2" y="127.60" width="14.8" height="1.45" fill="#8b77c6"/>
<rect x="306.9" y="18.90" width="14.8" height="1.65" fill="#f7d3c7"/>
<rect x="306.9" y="20.50" width="14.8" height="1.65" fill="#f7dcd5"/>
<rect x="306.9" y="22.10" width="14.8" height="1.35" fill="#f7d0c3"/>
<rect x="306.9" y="23.40" width="14.8" height="2.05" fill="#f7e6e2"/>
<rect x="306.9" y="25.40" width="14.8" height="1.15" fill="#f7e6e3"/>
<rect x="306.9" y="26.50" width="14.8" height="1.35" fill="#f7d3c8"/>
<rect x="306.9" y="27.80" width="14.8" height="2.05" fill="#f5b9a4"/>
<rect x="306.9" y="29.80" width="14.8" height="2.05" fill="#f4aa91"/>
<rect x="306.9" y="31.80" width="14.8" height="1.35" fill="#f7dbd3"/>
<rect x="306.9" y="33.10" width="14.8" height="1.35" fill="#f7d0c3"/>
<rect x="306.9" y="34.40" width="14.8" height="1.35" fill="#f6bca9"/>
<rect x="306.9" y="35.70" width="14.8" height="2.05" fill="#f3a58a"/>
<rect x="306.9" y="37.70" width="14.8" height="1.15" fill="#f5b19a"/>
<rect x="306.9" y="38.80" width="14.8" height="1.65" fill="#f5b29b"/>
<rect x="306.9" y="40.40" width="14.8" height="1.15" fill="#f2987b"/>
<rect x="306.9" y="41.50" width="14.8" height="1.15" fill="#f5b49e"/>
<rect x="306.9" y="42.60" width="14.8" height="2.05" fill="#f5b49d"/>
<rect x="306.9" y="44.60" width="14.8" height="1.15" fill="#f7d3c8"/>
<rect x="306.9" y="45.70" width="14.8" height="1.35" fill="#f7ded7"/>
<rect x="306.9" y="47.00" width="14.8" height="1.35" fill="#f7cbbc"/>
<rect x="306.9" y="48.30" width="14.8" height="1.15" fill="#f7eeee"/>
<rect x="306.9" y="49.40" width="14.8" height="1.65" fill="#f7d5cb"/>
<rect x="306.9" y="51.00" width="14.8" height="1.35" fill="#f6bba7"/>
<rect x="306.9" y="52.30" width="14.8" height="2.05" fill="#f7d4c9"/>
<rect x="306.9" y="54.30" width="14.8" height="1.15" fill="#f7c5b4"/>
<rect x="306.9" y="55.40" width="14.8" height="1.15" fill="#f7cdbf"/>
<rect x="306.9" y="56.50" width="14.8" height="1.35" fill="#f7caba"/>
<rect x="306.9" y="57.80" width="14.8" height="1.35" fill="#f7dad2"/>
<rect x="306.9" y="59.10" width="14.8" height="1.15" fill="#f7d6cb"/>
<rect x="306.9" y="60.20" width="14.8" height="1.65" fill="#f7d4c9"/>
<rect x="306.9" y="61.80" width="14.8" height="1.65" fill="#f7e8e5"/>
<rect x="306.9" y="63.40" width="14.8" height="1.65" fill="#f7e4e0"/>
<rect x="306.9" y="65.00" width="14.8" height="1.35" fill="#f7d7cd"/>
<rect x="306.9" y="66.30" width="14.8" height="1.35" fill="#f7e8e6"/>
<rect x="306.9" y="67.60" width="14.8" height="1.35" fill="#f7dad2"/>
<rect x="306.9" y="68.90" width="14.8" height="1.15" fill="#f7e2de"/>
<rect x="306.9" y="70.00" width="14.8" height="2.05" fill="#f7c9b8"/>
<rect x="306.9" y="72.00" width="14.8" height="2.05" fill="#f7e7e4"/>
<rect x="306.9" y="74.00" width="14.8" height="1.35" fill="#f7dcd4"/>
<rect x="306.9" y="75.30" width="14.8" height="2.05" fill="#f7c9b9"/>
<rect x="306.9" y="77.30" width="14.8" height="2.05" fill="#f7d6cb"/>
<rect x="306.9" y="79.30" width="14.8" height="1.35" fill="#f7d0c3"/>
<rect x="306.9" y="80.60" width="14.8" height="1.35" fill="#f7e4e0"/>
<rect x="306.9" y="81.90" width="14.8" height="1.35" fill="#f1ebf1"/>
<rect x="306.9" y="83.20" width="14.8" height="1.15" fill="#f5f0f3"/>
<rect x="306.9" y="84.30" width="14.8" height="1.35" fill="#f5f0f3"/>
<rect x="306.9" y="85.60" width="14.8" height="1.65" fill="#f7efef"/>
<rect x="306.9" y="87.20" width="14.8" height="1.35" fill="#e6dfed"/>
<rect x="306.9" y="88.50" width="14.8" height="2.05" fill="#e0d8eb"/>
<rect x="306.9" y="90.50" width="14.8" height="1.35" fill="#f7eae8"/>
<rect x="306.9" y="91.80" width="14.8" height="2.05" fill="#eae4ef"/>
<rect x="306.9" y="93.80" width="14.8" height="1.65" fill="#f7c7b7"/>
<rect x="306.9" y="95.40" width="14.8" height="1.65" fill="#f7f1f2"/>
<rect x="306.9" y="97.00" width="14.8" height="1.65" fill="#f7e1db"/>
<rect x="306.9" y="98.60" width="14.8" height="1.35" fill="#ddd5e9"/>
<rect x="306.9" y="99.90" width="14.8" height="1.15" fill="#d4cae6"/>
<rect x="306.9" y="101.00" width="14.8" height="1.65" fill="#e2dbec"/>
<rect x="306.9" y="102.60" width="14.8" height="1.35" fill="#c2b7df"/>
<rect x="306.9" y="103.90" width="14.8" height="1.65" fill="#cdc3e3"/>
<rect x="306.9" y="105.50" width="14.8" height="1.35" fill="#e0d8eb"/>
<rect x="306.9" y="106.80" width="14.8" height="1.35" fill="#ede6f0"/>
<rect x="306.9" y="108.10" width="14.8" height="2.05" fill="#f7d2c7"/>
<rect x="306.9" y="110.10" width="14.8" height="1.35" fill="#f7ebea"/>
<rect x="306.9" y="111.40" width="14.8" height="1.35" fill="#f7d2c5"/>
<rect x="306.9" y="112.70" width="14.8" height="1.65" fill="#f7eff0"/>
<rect x="306.9" y="114.30" width="14.8" height="1.65" fill="#f6f0f3"/>
<rect x="306.9" y="115.90" width="14.8" height="1.35" fill="#f2ecf2"/>
<rect x="306.9" y="117.20" width="14.8" height="2.05" fill="#efe9f1"/>
<rect x="306.9" y="119.20" width="14.8" height="2.05" fill="#d0c7e4"/>
<rect x="306.9" y="121.20" width="14.8" height="1.35" fill="#eee8f0"/>
<rect x="306.9" y="122.50" width="14.8" height="1.15" fill="#f6f1f4"/>
<rect x="306.9" y="123.60" width="14.8" height="2.05" fill="#f1ebf1"/>
<rect x="306.9" y="125.60" width="14.8" height="1.15" fill="#e4ddec"/>
<rect x="306.9" y="126.70" width="14.8" height="1.35" fill="#d8cfe7"/>
<rect x="306.9" y="128.00" width="14.8" height="1.05" fill="#f4eff3"/>
<rect x="321.6" y="18.90" width="14.8" height="1.35" fill="#f7cfc1"/>
<rect x="321.6" y="20.20" width="14.8" height="1.35" fill="#f6c0ad"/>
<rect x="321.6" y="21.50" width="14.8" height="1.65" fill="#f7cfc2"/>
<rect x="321.6" y="23.10" width="14.8" height="2.05" fill="#f7dfd9"/>
<rect x="321.6" y="25.10" width="14.8" height="1.35" fill="#f7d8ce"/>
<rect x="321.6" y="26.40" width="14.8" height="1.65" fill="#f7efef"/>
<rect x="321.6" y="28.00" width="14.8" height="1.65" fill="#f7d0c3"/>
<rect x="321.6" y="29.60" width="14.8" height="1.35" fill="#f5b39c"/>
<rect x="321.6" y="30.90" width="14.8" height="2.05" fill="#f2997c"/>
<rect x="321.6" y="32.90" width="14.8" height="1.35" fill="#f3a58a"/>
<rect x="321.6" y="34.20" width="14.8" height="1.15" fill="#f4ad95"/>
<rect x="321.6" y="35.30" width="14.8" height="1.35" fill="#f6c0ad"/>
<rect x="321.6" y="36.60" width="14.8" height="1.35" fill="#f7c7b7"/>
<rect x="321.6" y="37.90" width="14.8" height="2.05" fill="#f6c1ae"/>
<rect x="321.6" y="39.90" width="14.8" height="1.35" fill="#f5b098"/>
<rect x="321.6" y="41.20" width="14.8" height="2.05" fill="#f6c0ad"/>
<rect x="321.6" y="43.20" width="14.8" height="1.65" fill="#f6bca8"/>
<rect x="321.6" y="44.80" width="14.8" height="1.35" fill="#f6beaa"/>
<rect x="321.6" y="46.10" width="14.8" height="1.15" fill="#f7c9b9"/>
<rect x="321.6" y="47.20" width="14.8" height="2.05" fill="#f6bba7"/>
<rect x="321.6" y="49.20" width="14.8" height="1.15" fill="#f5b8a3"/>
<rect x="321.6" y="50.30" width="14.8" height="1.65" fill="#f5b39c"/>
<rect x="321.6" y="51.90" width="14.8" height="2.05" fill="#f6bba7"/>
<rect x="321.6" y="53.90" width="14.8" height="1.15" fill="#f7c6b5"/>
<rect x="321.6" y="55.00" width="14.8" height="1.15" fill="#f5b8a3"/>
<rect x="321.6" y="56.10" width="14.8" height="1.35" fill="#f5b29b"/>
<rect x="321.6" y="57.40" width="14.8" height="1.35" fill="#f5b8a3"/>
<rect x="321.6" y="58.70" width="14.8" height="1.15" fill="#f6c1af"/>
<rect x="321.6" y="59.80" width="14.8" height="1.35" fill="#f7d7cd"/>
<rect x="321.6" y="61.10" width="14.8" height="1.35" fill="#f7e0da"/>
<rect x="321.6" y="62.40" width="14.8" height="1.35" fill="#f6c3b1"/>
<rect x="321.6" y="63.70" width="14.8" height="1.65" fill="#f7cec0"/>
<rect x="321.6" y="65.30" width="14.8" height="1.35" fill="#f6beab"/>
<rect x="321.6" y="66.60" width="14.8" height="1.35" fill="#f7d4c9"/>
<rect x="321.6" y="67.90" width="14.8" height="1.15" fill="#f7c4b3"/>
<rect x="321.6" y="69.00" width="14.8" height="2.05" fill="#f6baa6"/>
<rect x="321.6" y="71.00" width="14.8" height="1.35" fill="#f7cbbc"/>
<rect x="321.6" y="72.30" width="14.8" height="1.15" fill="#f6bda9"/>
<rect x="321.6" y="73.40" width="14.8" height="1.65" fill="#f7d7cd"/>
<rect x="321.6" y="75.00" width="14.8" height="2.05" fill="#f7cabb"/>
<rect x="321.6" y="77.00" width="14.8" height="1.15" fill="#f7ccbe"/>
<rect x="321.6" y="78.10" width="14.8" height="1.15" fill="#f7ccbd"/>
<rect x="321.6" y="79.20" width="14.8" height="1.35" fill="#f6bba7"/>
<rect x="321.6" y="80.50" width="14.8" height="1.35" fill="#f6c3b1"/>
<rect x="321.6" y="81.80" width="14.8" height="1.65" fill="#f7e7e3"/>
<rect x="321.6" y="83.40" width="14.8" height="1.35" fill="#f7c6b5"/>
<rect x="321.6" y="84.70" width="14.8" height="2.05" fill="#f5b6a0"/>
<rect x="321.6" y="86.70" width="14.8" height="1.35" fill="#f7ddd6"/>
<rect x="321.6" y="88.00" width="14.8" height="1.65" fill="#f6c0ad"/>
<rect x="321.6" y="89.60" width="14.8" height="1.35" fill="#f7dbd2"/>
<rect x="321.6" y="90.90" width="14.8" height="1.35" fill="#f7e4e0"/>
<rect x="321.6" y="92.20" width="14.8" height="1.35" fill="#f6c4b2"/>
<rect x="321.6" y="93.50" width="14.8" height="1.15" fill="#f7e0da"/>
<rect x="321.6" y="94.60" width="14.8" height="2.05" fill="#f7ebea"/>
<rect x="321.6" y="96.60" width="14.8" height="1.35" fill="#f7d3c7"/>
<rect x="321.6" y="97.90" width="14.8" height="1.15" fill="#f7d2c5"/>
<rect x="321.6" y="99.00" width="14.8" height="2.05" fill="#f7cabb"/>
<rect x="321.6" y="101.00" width="14.8" height="1.35" fill="#e1d9eb"/>
<rect x="321.6" y="102.30" width="14.8" height="2.05" fill="#e5deed"/>
<rect x="321.6" y="104.30" width="14.8" height="1.35" fill="#cec4e3"/>
<rect x="321.6" y="105.60" width="14.8" height="1.65" fill="#f7eded"/>
<rect x="321.6" y="107.20" width="14.8" height="1.35" fill="#f3a489"/>
<rect x="321.6" y="108.50" width="14.8" height="2.05" fill="#f7ccbd"/>
<rect x="321.6" y="110.50" width="14.8" height="2.05" fill="#f7c6b5"/>
<rect x="321.6" y="112.50" width="14.8" height="1.65" fill="#f6bba8"/>
<rect x="321.6" y="114.10" width="14.8" height="1.35" fill="#f7c8b8"/>
<rect x="321.6" y="115.40" width="14.8" height="1.15" fill="#f7cfc1"/>
<rect x="321.6" y="116.50" width="14.8" height="1.65" fill="#f7c5b4"/>
<rect x="321.6" y="118.10" width="14.8" height="1.35" fill="#f7d7cc"/>
<rect x="321.6" y="119.40" width="14.8" height="1.35" fill="#f7c9b9"/>
<rect x="321.6" y="120.70" width="14.8" height="2.05" fill="#f7d9cf"/>
<rect x="321.6" y="122.70" width="14.8" height="2.05" fill="#f7caba"/>
<rect x="321.6" y="124.70" width="14.8" height="1.15" fill="#f7e3de"/>
<rect x="321.6" y="125.80" width="14.8" height="1.35" fill="#f5baa5"/>
<rect x="321.6" y="127.10" width="14.8" height="1.35" fill="#f7ddd5"/>
<rect x="321.6" y="128.40" width="14.8" height="0.65" fill="#f7c7b7"/>
<rect x="336.4" y="18.90" width="14.8" height="2.05" fill="#7b65bb"/>
<rect x="336.4" y="20.90" width="14.8" height="1.35" fill="#7c65bc"/>
<rect x="336.4" y="22.20" width="14.8" height="1.35" fill="#a08fcf"/>
<rect x="336.4" y="23.50" width="14.8" height="1.35" fill="#aa9bd4"/>
<rect x="336.4" y="24.80" width="14.8" height="1.35" fill="#836dc1"/>
<rect x="336.4" y="26.10" width="14.8" height="2.05" fill="#907dc8"/>
<rect x="336.4" y="28.10" width="14.8" height="1.35" fill="#baaedb"/>
<rect x="336.4" y="29.40" width="14.8" height="2.05" fill="#a798d2"/>
<rect x="336.4" y="31.40" width="14.8" height="1.35" fill="#9c8acd"/>
<rect x="336.4" y="32.70" width="14.8" height="1.35" fill="#a898d3"/>
<rect x="336.4" y="34.00" width="14.8" height="2.05" fill="#a393d0"/>
<rect x="336.4" y="36.00" width="14.8" height="1.15" fill="#afa1d6"/>
<rect x="336.4" y="37.10" width="14.8" height="1.15" fill="#8d79c7"/>
<rect x="336.4" y="38.20" width="14.8" height="2.05" fill="#8b76c5"/>
<rect x="336.4" y="40.20" width="14.8" height="1.15" fill="#f7eeee"/>
<rect x="336.4" y="41.30" width="14.8" height="1.35" fill="#e1d9eb"/>
<rect x="336.4" y="42.60" width="14.8" height="1.15" fill="#f7dcd5"/>
<rect x="336.4" y="43.70" width="14.8" height="1.65" fill="#f7e6e2"/>
<rect x="336.4" y="45.30" width="14.8" height="2.05" fill="#f7e3df"/>
<rect x="336.4" y="47.30" width="14.8" height="1.65" fill="#f7e5e2"/>
<rect x="336.4" y="48.90" width="14.8" height="1.35" fill="#f7dfd8"/>
<rect x="336.4" y="50.20" width="14.8" height="1.35" fill="#f4eff3"/>
<rect x="336.4" y="51.50" width="14.8" height="1.35" fill="#f7eded"/>
<rect x="336.4" y="52.80" width="14.8" height="1.65" fill="#d0c7e4"/>
<rect x="336.4" y="54.40" width="14.8" height="1.15" fill="#cec4e3"/>
<rect x="336.4" y="55.50" width="14.8" height="1.35" fill="#e2daeb"/>
<rect x="336.4" y="56.80" width="14.8" height="1.65" fill="#dfd7ea"/>
<rect x="336.4" y="58.40" width="14.8" height="1.15" fill="#d2c9e5"/>
<rect x="336.4" y="59.50" width="14.8" height="1.65" fill="#d1c8e5"/>
<rect x="336.4" y="61.10" width="14.8" height="1.65" fill="#d5cce6"/>
<rect x="336.4" y="62.70" width="14.8" height="1.65" fill="#d3c9e5"/>
<rect x="336.4" y="64.30" width="14.8" height="1.15" fill="#d1c8e5"/>
<rect x="336.4" y="65.40" width="14.8" height="1.35" fill="#a494d1"/>
<rect x="336.4" y="66.70" width="14.8" height="2.05" fill="#cac0e2"/>
<rect x="336.4" y="68.70" width="14.8" height="2.05" fill="#d0c7e4"/>
<rect x="336.4" y="70.70" width="14.8" height="1.35" fill="#d8d0e8"/>
<rect x="336.4" y="72.00" width="14.8" height="2.05" fill="#b5a7d9"/>
<rect x="336.4" y="74.00" width="14.8" height="1.15" fill="#b1a3d7"/>
<rect x="336.4" y="75.10" width="14.8" height="1.15" fill="#bcb0dc"/>
<rect x="336.4" y="76.20" width="14.8" height="1.35" fill="#ad9ed5"/>
<rect x="336.4" y="77.50" width="14.8" height="1.65" fill="#bdb2dd"/>
<rect x="336.4" y="79.10" width="14.8" height="1.35" fill="#a393d1"/>
<rect x="336.4" y="80.40" width="14.8" height="1.15" fill="#e5deed"/>
<rect x="336.4" y="81.50" width="14.8" height="1.35" fill="#d9d0e8"/>
<rect x="336.4" y="82.80" width="14.8" height="1.35" fill="#d9d0e8"/>
<rect x="336.4" y="84.10" width="14.8" height="1.35" fill="#e1d9eb"/>
<rect x="336.4" y="85.40" width="14.8" height="1.65" fill="#e4ddec"/>
<rect x="336.4" y="87.00" width="14.8" height="2.05" fill="#ddd5e9"/>
<rect x="336.4" y="89.00" width="14.8" height="1.15" fill="#d8cfe7"/>
<rect x="336.4" y="90.10" width="14.8" height="1.35" fill="#f7d9cf"/>
<rect x="336.4" y="91.40" width="14.8" height="1.15" fill="#f7e7e4"/>
<rect x="336.4" y="92.50" width="14.8" height="1.35" fill="#f7dad2"/>
<rect x="336.4" y="93.80" width="14.8" height="2.05" fill="#f7eceb"/>
<rect x="336.4" y="95.80" width="14.8" height="1.35" fill="#f7f1f4"/>
<rect x="336.4" y="97.10" width="14.8" height="1.65" fill="#f1ebf1"/>
<rect x="336.4" y="98.70" width="14.8" height="1.65" fill="#f7eceb"/>
<rect x="336.4" y="100.30" width="14.8" height="1.15" fill="#f7e7e4"/>
<rect x="336.4" y="101.40" width="14.8" height="1.65" fill="#f19172"/>
<rect x="336.4" y="103.00" width="14.8" height="1.35" fill="#f19071"/>
<rect x="336.4" y="104.30" width="14.8" height="2.05" fill="#baaedb"/>
<rect x="336.4" y="106.30" width="14.8" height="1.35" fill="#c5bae0"/>
<rect x="336.4" y="107.60" width="14.8" height="1.35" fill="#c1b6de"/>
<rect x="336.4" y="108.90" width="14.8" height="2.05" fill="#dad1e8"/>
<rect x="336.4" y="110.90" width="14.8" height="1.65" fill="#ccc2e3"/>
<rect x="336.4" y="112.50" width="14.8" height="1.35" fill="#f7d3c7"/>
<rect x="336.4" y="113.80" width="14.8" height="1.15" fill="#f7e3de"/>
<rect x="336.4" y="114.90" width="14.8" height="2.05" fill="#f7e2dd"/>
<rect x="336.4" y="116.90" width="14.8" height="1.35" fill="#f7e8e6"/>
<rect x="336.4" y="118.20" width="14.8" height="2.05" fill="#f7ccbe"/>
<rect x="336.4" y="120.20" width="14.8" height="2.05" fill="#f6bda9"/>
<rect x="336.4" y="122.20" width="14.8" height="2.05" fill="#f6baa5"/>
<rect x="336.4" y="124.20" width="14.8" height="1.35" fill="#f7ccbd"/>
<rect x="336.4" y="125.50" width="14.8" height="1.35" fill="#f7cabb"/>
<rect x="336.4" y="126.80" width="14.8" height="1.15" fill="#f6c0ad"/>
<rect x="336.4" y="127.90" width="14.8" height="1.15" fill="#f6beab"/>
<rect x="351.1" y="18.90" width="14.8" height="1.35" fill="#efe9f1"/>
<rect x="351.1" y="20.20" width="14.8" height="1.35" fill="#f7d1c4"/>
<rect x="351.1" y="21.50" width="14.8" height="1.35" fill="#f7f0f1"/>
<rect x="351.1" y="22.80" width="14.8" height="1.35" fill="#f7e8e6"/>
<rect x="351.1" y="24.10" width="14.8" height="1.35" fill="#f7eeee"/>
<rect x="351.1" y="25.40" width="14.8" height="2.05" fill="#dfd7ea"/>
<rect x="351.1" y="27.40" width="14.8" height="1.15" fill="#f6f1f4"/>
<rect x="351.1" y="28.50" width="14.8" height="1.35" fill="#f7eded"/>
<rect x="351.1" y="29.80" width="14.8" height="2.05" fill="#f7d8cf"/>
<rect x="351.1" y="31.80" width="14.8" height="1.15" fill="#f7d3c7"/>
<rect x="351.1" y="32.90" width="14.8" height="1.35" fill="#f7eeef"/>
<rect x="351.1" y="34.20" width="14.8" height="2.05" fill="#dcd4e9"/>
<rect x="351.1" y="36.20" width="14.8" height="1.35" fill="#f1ebf1"/>
<rect x="351.1" y="37.50" width="14.8" height="2.05" fill="#e1daeb"/>
<rect x="351.1" y="39.50" width="14.8" height="1.15" fill="#dad1e8"/>
<rect x="351.1" y="40.60" width="14.8" height="1.35" fill="#f0eaf1"/>
<rect x="351.1" y="41.90" width="14.8" height="1.35" fill="#f5af98"/>
<rect x="351.1" y="43.20" width="14.8" height="1.65" fill="#f7c8b8"/>
<rect x="351.1" y="44.80" width="14.8" height="2.05" fill="#f6c3b1"/>
<rect x="351.1" y="46.80" width="14.8" height="1.15" fill="#f7c5b3"/>
<rect x="351.1" y="47.90" width="14.8" height="1.35" fill="#f5b49e"/>
<rect x="351.1" y="49.20" width="14.8" height="1.35" fill="#f4ab93"/>
<rect x="351.1" y="50.50" width="14.8" height="2.05" fill="#f7c5b3"/>
<rect x="351.1" y="52.50" width="14.8" height="1.35" fill="#f4ae96"/>
<rect x="351.1" y="53.80" width="14.8" height="1.35" fill="#f6c2b0"/>
<rect x="351.1" y="55.10" width="14.8" height="2.05" fill="#f6baa5"/>
<rect x="351.1" y="57.10" width="14.8" height="1.35" fill="#f3a48a"/>
<rect x="351.1" y="58.40" width="14.8" height="1.35" fill="#f5b29b"/>
<rect x="351.1" y="59.70" width="14.8" height="1.65" fill="#f4a88f"/>
<rect x="351.1" y="61.30" width="14.8" height="1.65" fill="#f6bda9"/>
<rect x="351.1" y="62.90" width="14.8" height="1.35" fill="#f7c7b7"/>
<rect x="351.1" y="64.20" width="14.8" height="2.05" fill="#f5b098"/>
<rect x="351.1" y="66.20" width="14.8" height="1.65" fill="#f5b8a4"/>
<rect x="351.1" y="67.80" width="14.8" height="1.65" fill="#f7c7b6"/>
<rect x="351.1" y="69.40" width="14.8" height="1.65" fill="#f5b6a0"/>
<rect x="351.1" y="71.00" width="14.8" height="1.15" fill="#f6beab"/>
<rect x="351.1" y="72.10" width="14.8" height="2.05" fill="#f5b49d"/>
<rect x="351.1" y="74.10" width="14.8" height="1.65" fill="#f39f83"/>
<rect x="351.1" y="75.70" width="14.8" height="1.15" fill="#f4ae96"/>
<rect x="351.1" y="76.80" width="14.8" height="2.05" fill="#f4a98f"/>
<rect x="351.1" y="78.80" width="14.8" height="1.65" fill="#f4ae96"/>
<rect x="351.1" y="80.40" width="14.8" height="1.35" fill="#f7d9d1"/>
<rect x="351.1" y="81.70" width="14.8" height="2.05" fill="#f6c2b0"/>
<rect x="351.1" y="83.70" width="14.8" height="1.65" fill="#f7cfc2"/>
<rect x="351.1" y="85.30" width="14.8" height="1.35" fill="#f7d5cb"/>
<rect x="351.1" y="86.60" width="14.8" height="1.15" fill="#f7c9b9"/>
<rect x="351.1" y="87.70" width="14.8" height="1.65" fill="#f7cec0"/>
<rect x="351.1" y="89.30" width="14.8" height="1.35" fill="#f7d7cd"/>
<rect x="351.1" y="90.60" width="14.8" height="2.05" fill="#f29577"/>
<rect x="351.1" y="92.60" width="14.8" height="1.35" fill="#f08666"/>
<rect x="351.1" y="93.90" width="14.8" height="1.15" fill="#ef7e5d"/>
<rect x="351.1" y="95.00" width="14.8" height="1.35" fill="#f19172"/>
<rect x="351.1" y="96.30" width="14.8" height="2.05" fill="#f3a388"/>
<rect x="351.1" y="98.30" width="14.8" height="1.35" fill="#f4a68c"/>
<rect x="351.1" y="99.60" width="14.8" height="1.65" fill="#f7c9b9"/>
<rect x="351.1" y="101.20" width="14.8" height="1.15" fill="#f6bba7"/>
<rect x="351.1" y="102.30" width="14.8" height="2.05" fill="#f4af97"/>
<rect x="351.1" y="104.30" width="14.8" height="2.05" fill="#f5b7a1"/>
<rect x="351.1" y="106.30" width="14.8" height="2.05" fill="#f5b099"/>
<rect x="351.1" y="108.30" width="14.8" height="1.35" fill="#f5b199"/>
<rect x="351.1" y="109.60" width="14.8" height="1.35" fill="#f5b9a5"/>
<rect x="351.1" y="110.90" width="14.8" height="1.65" fill="#f6c0ad"/>
<rect x="351.1" y="112.50" width="14.8" height="1.65" fill="#f6bca8"/>
<rect x="351.1" y="114.10" width="14.8" height="1.35" fill="#f6bca8"/>
<rect x="351.1" y="115.40" width="14.8" height="2.05" fill="#f4af98"/>
<rect x="351.1" y="117.40" width="14.8" height="1.65" fill="#f4a68c"/>
<rect x="351.1" y="119.00" width="14.8" height="1.35" fill="#f5b6a0"/>
<rect x="351.1" y="120.30" width="14.8" height="1.65" fill="#f3a388"/>
<rect x="351.1" y="121.90" width="14.8" height="1.35" fill="#f4a990"/>
<rect x="351.1" y="123.20" width="14.8" height="1.15" fill="#f29a7d"/>
<rect x="351.1" y="124.30" width="14.8" height="1.35" fill="#f6baa6"/>
<rect x="351.1" y="125.60" width="14.8" height="1.65" fill="#f29b7e"/>
<rect x="351.1" y="127.20" width="14.8" height="1.15" fill="#f3a48a"/>
<rect x="351.1" y="128.30" width="14.8" height="0.75" fill="#f29b7e"/>
<rect x="365.8" y="18.90" width="14.8" height="1.35" fill="#f5b19a"/>
<rect x="365.8" y="20.20" width="14.8" height="1.15" fill="#f4aa91"/>
<rect x="365.8" y="21.30" width="14.8" height="1.15" fill="#f5b099"/>
<rect x="365.8" y="22.40" width="14.8" height="1.35" fill="#f19476"/>
<rect x="365.8" y="23.70" width="14.8" height="1.65" fill="#f4aa91"/>
<rect x="365.8" y="25.30" width="14.8" height="1.65" fill="#f4af97"/>
<rect x="365.8" y="26.90" width="14.8" height="1.65" fill="#f6c1af"/>
<rect x="365.8" y="28.50" width="14.8" height="1.35" fill="#f7c5b4"/>
<rect x="365.8" y="29.80" width="14.8" height="1.15" fill="#f7cbbc"/>
<rect x="365.8" y="30.90" width="14.8" height="1.35" fill="#f5b8a3"/>
<rect x="365.8" y="32.20" width="14.8" height="1.35" fill="#f6bba7"/>
<rect x="365.8" y="33.50" width="14.8" height="1.35" fill="#f5b099"/>
<rect x="365.8" y="34.80" width="14.8" height="1.35" fill="#f7d4c9"/>
<rect x="365.8" y="36.10" width="14.8" height="1.15" fill="#f7e8e5"/>
<rect x="365.8" y="37.20" width="14.8" height="2.05" fill="#eae3ef"/>
<rect x="365.8" y="39.20" width="14.8" height="1.35" fill="#f7ddd5"/>
<rect x="365.8" y="40.50" width="14.8" height="1.35" fill="#f7e5e1"/>
<rect x="365.8" y="41.80" width="14.8" height="1.15" fill="#f7d0c3"/>
<rect x="365.8" y="42.90" width="14.8" height="1.65" fill="#f08c6d"/>
<rect x="365.8" y="44.50" width="14.8" height="2.05" fill="#f29a7d"/>
<rect x="365.8" y="46.50" width="14.8" height="1.15" fill="#f29c7f"/>
<rect x="365.8" y="47.60" width="14.8" height="2.05" fill="#f2997c"/>
<rect x="365.8" y="49.60" width="14.8" height="2.05" fill="#f29a7d"/>
<rect x="365.8" y="51.60" width="14.8" height="2.05" fill="#f19071"/>
<rect x="365.8" y="53.60" width="14.8" height="1.15" fill="#f08767"/>
<rect x="365.8" y="54.70" width="14.8" height="1.35" fill="#ee7b59"/>
<rect x="365.8" y="56.00" width="14.8" height="1.35" fill="#f19072"/>
<rect x="365.8" y="57.30" width="14.8" height="1.15" fill="#f08868"/>
<rect x="365.8" y="58.40" width="14.8" height="1.35" fill="#f29779"/>
<rect x="365.8" y="59.70" width="14.8" height="1.15" fill="#f39f83"/>
<rect x="365.8" y="60.80" width="14.8" height="2.05" fill="#f4ac93"/>
<rect x="365.8" y="62.80" width="14.8" height="1.65" fill="#f19476"/>
<rect x="365.8" y="64.40" width="14.8" height="1.15" fill="#f08c6d"/>
<rect x="365.8" y="65.50" width="14.8" height="1.35" fill="#f39e82"/>
<rect x="365.8" y="66.80" width="14.8" height="1.15" fill="#f4a88f"/>
<rect x="365.8" y="67.90" width="14.8" height="1.35" fill="#f39e82"/>
<rect x="365.8" y="69.20" width="14.8" height="1.35" fill="#f3a489"/>
<rect x="365.8" y="70.50" width="14.8" height="2.05" fill="#f4aa91"/>
<rect x="365.8" y="72.50" width="14.8" height="1.35" fill="#f5b098"/>
<rect x="365.8" y="73.80" width="14.8" height="2.05" fill="#f2997c"/>
<rect x="365.8" y="75.80" width="14.8" height="2.05" fill="#f18f71"/>
<rect x="365.8" y="77.80" width="14.8" height="1.35" fill="#f08767"/>
<rect x="365.8" y="79.10" width="14.8" height="1.15" fill="#f39f83"/>
<rect x="365.8" y="80.20" width="14.8" height="1.65" fill="#f5b6a1"/>
<rect x="365.8" y="81.80" width="14.8" height="2.05" fill="#f4ad95"/>
<rect x="365.8" y="83.80" width="14.8" height="1.35" fill="#f7c6b5"/>
<rect x="365.8" y="85.10" width="14.8" height="1.35" fill="#f5b9a4"/>
<rect x="365.8" y="86.40" width="14.8" height="2.05" fill="#f5b098"/>
<rect x="365.8" y="88.40" width="14.8" height="2.05" fill="#f5b49d"/>
<rect x="365.8" y="90.40" width="14.8" height="2.05" fill="#f0896a"/>
<rect x="365.8" y="92.40" width="14.8" height="1.15" fill="#f39e82"/>
<rect x="365.8" y="93.50" width="14.8" height="1.35" fill="#f19375"/>
<rect x="365.8" y="94.80" width="14.8" height="1.35" fill="#f08868"/>
<rect x="365.8" y="96.10" width="14.8" height="1.65" fill="#f08768"/>
<rect x="365.8" y="97.70" width="14.8" height="1.65" fill="#f29b7f"/>
<rect x="365.8" y="99.30" width="14.8" height="1.15" fill="#f08a6a"/>
<rect x="365.8" y="100.40" width="14.8" height="1.15" fill="#ef8463"/>
<rect x="365.8" y="101.50" width="14.8" height="2.05" fill="#ef8564"/>
<rect x="365.8" y="103.50" width="14.8" height="2.05" fill="#f7dfd9"/>
<rect x="365.8" y="105.50" width="14.8" height="1.35" fill="#f7eae9"/>
<rect x="365.8" y="106.80" width="14.8" height="1.15" fill="#f4ae96"/>
<rect x="365.8" y="107.90" width="14.8" height="1.35" fill="#f4a990"/>
<rect x="365.8" y="109.20" width="14.8" height="2.05" fill="#f4ae96"/>
<rect x="365.8" y="111.20" width="14.8" height="2.05" fill="#f6c2b0"/>
<rect x="365.8" y="113.20" width="14.8" height="1.65" fill="#f2997c"/>
<rect x="365.8" y="114.80" width="14.8" height="1.35" fill="#f3a084"/>
<rect x="365.8" y="116.10" width="14.8" height="1.65" fill="#f4ad94"/>
<rect x="365.8" y="117.70" width="14.8" height="2.05" fill="#f3a58b"/>
<rect x="365.8" y="119.70" width="14.8" height="1.65" fill="#f3a185"/>
<rect x="365.8" y="121.30" width="14.8" height="1.35" fill="#f4a88e"/>
<rect x="365.8" y="122.60" width="14.8" height="1.35" fill="#f5b59f"/>
<rect x="365.8" y="123.90" width="14.8" height="1.35" fill="#f7caba"/>
<rect x="365.8" y="125.20" width="14.8" height="1.65" fill="#f4ac93"/>
<rect x="365.8" y="126.80" width="14.8" height="1.35" fill="#f6bda9"/>
<rect x="365.8" y="128.10" width="14.8" height="0.95" fill="#f4ad95"/>
<rect x="380.6" y="18.90" width="14.8" height="1.15" fill="#f5b7a2"/>
<rect x="380.6" y="20.00" width="14.8" height="1.15" fill="#f4a78d"/>
<rect x="380.6" y="21.10" width="14.8" height="1.35" fill="#f19071"/>
<rect x="380.6" y="22.40" width="14.8" height="1.15" fill="#f5b099"/>
<rect x="380.6" y="23.50" width="14.8" height="1.65" fill="#f3a286"/>
<rect x="380.6" y="25.10" width="14.8" height="1.15" fill="#f29779"/>
<rect x="380.6" y="26.20" width="14.8" height="2.05" fill="#f4ab93"/>
<rect x="380.6" y="28.20" width="14.8" height="1.35" fill="#f4aa91"/>
<rect x="380.6" y="29.50" width="14.8" height="1.35" fill="#f3a287"/>
<rect x="380.6" y="30.80" width="14.8" height="1.65" fill="#f7c4b2"/>
<rect x="380.6" y="32.40" width="14.8" height="1.35" fill="#f3a186"/>
<rect x="380.6" y="33.70" width="14.8" height="1.35" fill="#f6baa6"/>
<rect x="380.6" y="35.00" width="14.8" height="2.05" fill="#f08c6d"/>
<rect x="380.6" y="37.00" width="14.8" height="1.35" fill="#f39c80"/>
<rect x="380.6" y="38.30" width="14.8" height="1.15" fill="#f3a58b"/>
<rect x="380.6" y="39.40" width="14.8" height="1.35" fill="#f7dad1"/>
<rect x="380.6" y="40.70" width="14.8" height="2.05" fill="#f7ccbd"/>
<rect x="380.6" y="42.70" width="14.8" height="1.35" fill="#f7cdbe"/>
<rect x="380.6" y="44.00" width="14.8" height="1.35" fill="#f6beab"/>
<rect x="380.6" y="45.30" width="14.8" height="1.65" fill="#f4ab92"/>
<rect x="380.6" y="46.90" width="14.8" height="1.65" fill="#f4a68b"/>
<rect x="380.6" y="48.50" width="14.8" height="1.35" fill="#f7c9b8"/>
<rect x="380.6" y="49.80" width="14.8" height="1.35" fill="#f5b39d"/>
<rect x="380.6" y="51.10" width="14.8" height="1.65" fill="#f7c7b6"/>
<rect x="380.6" y="52.70" width="14.8" height="1.65" fill="#f3a084"/>
<rect x="380.6" y="54.30" width="14.8" height="1.35" fill="#f5b6a1"/>
<rect x="380.6" y="55.60" width="14.8" height="1.35" fill="#f4a68b"/>
<rect x="380.6" y="56.90" width="14.8" height="1.65" fill="#f3a58a"/>
<rect x="380.6" y="58.50" width="14.8" height="1.15" fill="#f39d80"/>
<rect x="380.6" y="59.60" width="14.8" height="1.15" fill="#f4ac94"/>
<rect x="380.6" y="60.70" width="14.8" height="1.35" fill="#f5b39d"/>
<rect x="380.6" y="62.00" width="14.8" height="2.05" fill="#f3a085"/>
<rect x="380.6" y="64.00" width="14.8" height="1.35" fill="#f4a78d"/>
<rect x="380.6" y="65.30" width="14.8" height="2.05" fill="#f6beab"/>
<rect x="380.6" y="67.30" width="14.8" height="1.35" fill="#f2977a"/>
<rect x="380.6" y="68.60" width="14.8" height="1.35" fill="#f3a58a"/>
<rect x="380.6" y="69.90" width="14.8" height="1.35" fill="#f4a68b"/>
<rect x="380.6" y="71.20" width="14.8" height="1.35" fill="#f4a68c"/>
<rect x="380.6" y="72.50" width="14.8" height="1.15" fill="#f6c0ad"/>
<rect x="380.6" y="73.60" width="14.8" height="1.15" fill="#f29678"/>
<rect x="380.6" y="74.70" width="14.8" height="1.65" fill="#f4ad94"/>
<rect x="380.6" y="76.30" width="14.8" height="1.15" fill="#f3a58a"/>
<rect x="380.6" y="77.40" width="14.8" height="1.35" fill="#f5b6a0"/>
<rect x="380.6" y="78.70" width="14.8" height="2.05" fill="#f5b19a"/>
<rect x="380.6" y="80.70" width="14.8" height="2.05" fill="#f5b5a0"/>
<rect x="380.6" y="82.70" width="14.8" height="1.35" fill="#f5b49e"/>
<rect x="380.6" y="84.00" width="14.8" height="2.05" fill="#f4a88e"/>
<rect x="380.6" y="86.00" width="14.8" height="2.05" fill="#f3a287"/>
<rect x="380.6" y="88.00" width="14.8" height="1.65" fill="#f3a287"/>
<rect x="380.6" y="89.60" width="14.8" height="1.65" fill="#f6bba7"/>
<rect x="380.6" y="91.20" width="14.8" height="2.05" fill="#f4a68b"/>
<rect x="380.6" y="93.20" width="14.8" height="2.05" fill="#f6c2b0"/>
<rect x="380.6" y="95.20" width="14.8" height="1.65" fill="#f4ad95"/>
<rect x="380.6" y="96.80" width="14.8" height="1.35" fill="#f5b098"/>
<rect x="380.6" y="98.10" width="14.8" height="2.05" fill="#f7d1c4"/>
<rect x="380.6" y="100.10" width="14.8" height="1.65" fill="#f29a7d"/>
<rect x="380.6" y="101.70" width="14.8" height="1.35" fill="#f08a6b"/>
<rect x="380.6" y="103.00" width="14.8" height="1.35" fill="#f08868"/>
<rect x="380.6" y="104.30" width="14.8" height="2.05" fill="#f7cabb"/>
<rect x="380.6" y="106.30" width="14.8" height="1.35" fill="#f6c2b0"/>
<rect x="380.6" y="107.60" width="14.8" height="1.65" fill="#f6bfac"/>
<rect x="380.6" y="109.20" width="14.8" height="2.05" fill="#f19477"/>
<rect x="380.6" y="111.20" width="14.8" height="1.35" fill="#f4a78d"/>
<rect x="380.6" y="112.50" width="14.8" height="1.15" fill="#f3a185"/>
<rect x="380.6" y="113.60" width="14.8" height="1.35" fill="#f4ac94"/>
<rect x="380.6" y="114.90" width="14.8" height="1.15" fill="#f19273"/>
<rect x="380.6" y="116.00" width="14.8" height="1.35" fill="#f4af98"/>
<rect x="380.6" y="117.30" width="14.8" height="1.35" fill="#f39d81"/>
<rect x="380.6" y="118.60" width="14.8" height="1.65" fill="#f3a186"/>
<rect x="380.6" y="120.20" width="14.8" height="1.65" fill="#f39d81"/>
<rect x="380.6" y="121.80" width="14.8" height="1.35" fill="#f3a489"/>
<rect x="380.6" y="123.10" width="14.8" height="1.35" fill="#f5b29b"/>
<rect x="380.6" y="124.40" width="14.8" height="1.35" fill="#f4a88e"/>
<rect x="380.6" y="125.70" width="14.8" height="1.65" fill="#f3a287"/>
<rect x="380.6" y="127.30" width="14.8" height="1.75" fill="#f29577"/>
<rect x="395.3" y="18.90" width="14.8" height="1.35" fill="#ed7453"/>
<rect x="395.3" y="20.20" width="14.8" height="1.65" fill="#e85f40"/>
<rect x="395.3" y="21.80" width="14.8" height="1.35" fill="#ea6747"/>
<rect x="395.3" y="23.10" width="14.8" height="2.05" fill="#e65a3c"/>
<rect x="395.3" y="25.10" width="14.8" height="1.35" fill="#e75c3e"/>
<rect x="395.3" y="26.40" width="14.8" height="1.65" fill="#f08c6c"/>
<rect x="395.3" y="28.00" width="14.8" height="1.15" fill="#f08c6d"/>
<rect x="395.3" y="29.10" width="14.8" height="1.65" fill="#f08666"/>
<rect x="395.3" y="30.70" width="14.8" height="1.35" fill="#ee7d5b"/>
<rect x="395.3" y="32.00" width="14.8" height="2.05" fill="#ef8564"/>
<rect x="395.3" y="34.00" width="14.8" height="1.35" fill="#f19375"/>
<rect x="395.3" y="35.30" width="14.8" height="1.35" fill="#f29679"/>
<rect x="395.3" y="36.60" width="14.8" height="1.15" fill="#f18e6f"/>
<rect x="395.3" y="37.70" width="14.8" height="1.35" fill="#f29779"/>
<rect x="395.3" y="39.00" width="14.8" height="2.05" fill="#f39f82"/>
<rect x="395.3" y="41.00" width="14.8" height="1.35" fill="#ef8464"/>
<rect x="395.3" y="42.30" width="14.8" height="1.65" fill="#f3a084"/>
<rect x="395.3" y="43.90" width="14.8" height="1.35" fill="#f19173"/>
<rect x="395.3" y="45.20" width="14.8" height="1.15" fill="#f7d3c7"/>
<rect x="395.3" y="46.30" width="14.8" height="1.15" fill="#f7c6b5"/>
<rect x="395.3" y="47.40" width="14.8" height="1.15" fill="#f6c2b0"/>
<rect x="395.3" y="48.50" width="14.8" height="1.65" fill="#f6c1af"/>
<rect x="395.3" y="50.10" width="14.8" height="1.15" fill="#f6bca9"/>
<rect x="395.3" y="51.20" width="14.8" height="1.65" fill="#f3a286"/>
<rect x="395.3" y="52.80" width="14.8" height="1.65" fill="#ed7554"/>
<rect x="395.3" y="54.40" width="14.8" height="1.35" fill="#ef8464"/>
<rect x="395.3" y="55.70" width="14.8" height="2.05" fill="#ef8463"/>
<rect x="395.3" y="57.70" width="14.8" height="1.65" fill="#ec7251"/>
<rect x="395.3" y="59.30" width="14.8" height="1.15" fill="#ee7d5c"/>
<rect x="395.3" y="60.40" width="14.8" height="1.35" fill="#ee7c5a"/>
<rect x="395.3" y="61.70" width="14.8" height="1.35" fill="#ef8565"/>
<rect x="395.3" y="63.00" width="14.8" height="1.15" fill="#f0896a"/>
<rect x="395.3" y="64.10" width="14.8" height="2.05" fill="#ef8160"/>
<rect x="395.3" y="66.10" width="14.8" height="2.05" fill="#ef8261"/>
<rect x="395.3" y="68.10" width="14.8" height="1.65" fill="#ed7554"/>
<rect x="395.3" y="69.70" width="14.8" height="1.15" fill="#f19173"/>
<rect x="395.3" y="70.80" width="14.8" height="2.05" fill="#ed7655"/>
<rect x="395.3" y="72.80" width="14.8" height="1.35" fill="#f39e82"/>
<rect x="395.3" y="74.10" width="14.8" height="1.35" fill="#f29779"/>
<rect x="395.3" y="75.40" width="14.8" height="1.35" fill="#ed7453"/>
<rect x="395.3" y="76.70" width="14.8" height="1.35" fill="#f18f70"/>
<rect x="395.3" y="78.00" width="14.8" height="1.35" fill="#f29a7d"/>
<rect x="395.3" y="79.30" width="14.8" height="1.35" fill="#ef8160"/>
<rect x="395.3" y="80.60" width="14.8" height="1.65" fill="#ee7c5a"/>
<rect x="395.3" y="82.20" width="14.8" height="2.05" fill="#f08c6d"/>
<rect x="395.3" y="84.20" width="14.8" height="1.35" fill="#ea6b4b"/>
<rect x="395.3" y="85.50" width="14.8" height="2.05" fill="#f08a6b"/>
<rect x="395.3" y="87.50" width="14.8" height="1.35" fill="#ee7a58"/>
<rect x="395.3" y="88.80" width="14.8" height="1.35" fill="#ef8160"/>
<rect x="395.3" y="90.10" width="14.8" height="1.35" fill="#f19374"/>
<rect x="395.3" y="91.40" width="14.8" height="1.15" fill="#e75e3f"/>
<rect x="395.3" y="92.50" width="14.8" height="1.35" fill="#ee7b5a"/>
<rect x="395.3" y="93.80" width="14.8" height="1.15" fill="#f2987b"/>
<rect x="395.3" y="94.90" width="14.8" height="1.65" fill="#f4ac93"/>
<rect x="395.3" y="96.50" width="14.8" height="1.15" fill="#f19476"/>
<rect x="395.3" y="97.60" width="14.8" height="1.65" fill="#f08c6d"/>
<rect x="395.3" y="99.20" width="14.8" height="1.15" fill="#f4a78d"/>
<rect x="395.3" y="100.30" width="14.8" height="1.65" fill="#f29679"/>
<rect x="395.3" y="101.90" width="14.8" height="1.35" fill="#f3a287"/>
<rect x="395.3" y="103.20" width="14.8" height="1.35" fill="#f3a185"/>
<rect x="395.3" y="104.50" width="14.8" height="1.35" fill="#f3a287"/>
<rect x="395.3" y="105.80" width="14.8" height="2.05" fill="#f08868"/>
<rect x="395.3" y="107.80" width="14.8" height="1.35" fill="#f3a489"/>
<rect x="395.3" y="109.10" width="14.8" height="1.35" fill="#f39d81"/>
<rect x="395.3" y="110.40" width="14.8" height="2.05" fill="#f2997c"/>
<rect x="395.3" y="112.40" width="14.8" height="1.35" fill="#f3a286"/>
<rect x="395.3" y="113.70" width="14.8" height="1.35" fill="#f19476"/>
<rect x="395.3" y="115.00" width="14.8" height="1.35" fill="#f0896a"/>
<rect x="395.3" y="116.30" width="14.8" height="1.35" fill="#f4ab92"/>
<rect x="395.3" y="117.60" width="14.8" height="1.65" fill="#f5b39c"/>
<rect x="395.3" y="119.20" width="14.8" height="2.05" fill="#f39f83"/>
<rect x="395.3" y="121.20" width="14.8" height="1.35" fill="#f4ac94"/>
<rect x="395.3" y="122.50" width="14.8" height="1.35" fill="#f39d80"/>
<rect x="395.3" y="123.80" width="14.8" height="1.65" fill="#f3a489"/>
<rect x="395.3" y="125.40" width="14.8" height="1.65" fill="#ee7957"/>
<rect x="395.3" y="127.00" width="14.8" height="1.15" fill="#f4a78d"/>
<rect x="395.3" y="128.10" width="14.8" height="0.95" fill="#f29a7d"/>
<rect x="410.0" y="18.90" width="14.8" height="1.15" fill="#f4ae96"/>
<rect x="410.0" y="20.00" width="14.8" height="1.35" fill="#f4ad94"/>
<rect x="410.0" y="21.30" width="14.8" height="1.15" fill="#f29678"/>
<rect x="410.0" y="22.40" width="14.8" height="1.65" fill="#f4aa90"/>
<rect x="410.0" y="24.00" width="14.8" height="2.05" fill="#f4a68b"/>
<rect x="410.0" y="26.00" width="14.8" height="1.65" fill="#f4a68c"/>
<rect x="410.0" y="27.60" width="14.8" height="1.65" fill="#f4ac94"/>
<rect x="410.0" y="29.20" width="14.8" height="1.35" fill="#f4ad95"/>
<rect x="410.0" y="30.50" width="14.8" height="1.65" fill="#f39d81"/>
<rect x="410.0" y="32.10" width="14.8" height="1.35" fill="#f3a48a"/>
<rect x="410.0" y="33.40" width="14.8" height="1.35" fill="#f5b29b"/>
<rect x="410.0" y="34.70" width="14.8" height="2.05" fill="#f5b5a0"/>
<rect x="410.0" y="36.70" width="14.8" height="1.65" fill="#f2997c"/>
<rect x="410.0" y="38.30" width="14.8" height="1.35" fill="#f5b19a"/>
<rect x="410.0" y="39.60" width="14.8" height="1.35" fill="#f7c6b5"/>
<rect x="410.0" y="40.90" width="14.8" height="1.65" fill="#f6bfac"/>
<rect x="410.0" y="42.50" width="14.8" height="1.15" fill="#f5b6a0"/>
<rect x="410.0" y="43.60" width="14.8" height="1.35" fill="#f6bfac"/>
<rect x="410.0" y="44.90" width="14.8" height="1.65" fill="#f6bba7"/>
<rect x="410.0" y="46.50" width="14.8" height="1.35" fill="#f7d3c8"/>
<rect x="410.0" y="47.80" width="14.8" height="1.35" fill="#f7cdbe"/>
<rect x="410.0" y="49.10" width="14.8" height="1.35" fill="#f7e0da"/>
<rect x="410.0" y="50.40" width="14.8" height="1.35" fill="#f7d6cc"/>
<rect x="410.0" y="51.70" width="14.8" height="1.15" fill="#f6bca9"/>
<rect x="410.0" y="52.80" width="14.8" height="1.15" fill="#f7d0c3"/>
<rect x="410.0" y="53.90" width="14.8" height="1.15" fill="#f7cbbc"/>
<rect x="410.0" y="55.00" width="14.8" height="1.35" fill="#f7c4b3"/>
<rect x="410.0" y="56.30" width="14.8" height="1.65" fill="#f7d2c5"/>
<rect x="410.0" y="57.90" width="14.8" height="2.05" fill="#f6c4b2"/>
<rect x="410.0" y="59.90" width="14.8" height="1.65" fill="#f7cdbf"/>
<rect x="410.0" y="61.50" width="14.8" height="2.05" fill="#f7c8b8"/>
<rect x="410.0" y="63.50" width="14.8" height="2.05" fill="#f7c5b4"/>
<rect x="410.0" y="65.50" width="14.8" height="1.35" fill="#f6bda9"/>
<rect x="410.0" y="66.80" width="14.8" height="1.35" fill="#f5b8a3"/>
<rect x="410.0" y="68.10" width="14.8" height="1.15" fill="#f7c5b4"/>
<rect x="410.0" y="69.20" width="14.8" height="1.35" fill="#f5b29c"/>
<rect x="410.0" y="70.50" width="14.8" height="2.05" fill="#f7dcd4"/>
<rect x="410.0" y="72.50" width="14.8" height="1.15" fill="#f6c1af"/>
<rect x="410.0" y="73.60" width="14.8" height="1.15" fill="#f7c5b4"/>
<rect x="410.0" y="74.70" width="14.8" height="2.05" fill="#f6c2b0"/>
<rect x="410.0" y="76.70" width="14.8" height="1.15" fill="#f4af97"/>
<rect x="410.0" y="77.80" width="14.8" height="1.35" fill="#f5b29b"/>
<rect x="410.0" y="79.10" width="14.8" height="2.05" fill="#f7c4b3"/>
<rect x="410.0" y="81.10" width="14.8" height="1.35" fill="#f6c1af"/>
<rect x="410.0" y="82.40" width="14.8" height="1.65" fill="#f7ddd6"/>
<rect x="410.0" y="84.00" width="14.8" height="1.65" fill="#f7cec1"/>
<rect x="410.0" y="85.60" width="14.8" height="1.15" fill="#f6bba7"/>
<rect x="410.0" y="86.70" width="14.8" height="1.65" fill="#f7d9d0"/>
<rect x="410.0" y="88.30" width="14.8" height="1.35" fill="#f6beab"/>
<rect x="410.0" y="89.60" width="14.8" height="2.05" fill="#f5b9a4"/>
<rect x="410.0" y="91.60" width="14.8" height="1.35" fill="#f6beab"/>
<rect x="410.0" y="92.90" width="14.8" height="1.35" fill="#f7caba"/>
<rect x="410.0" y="94.20" width="14.8" height="1.35" fill="#f5b9a5"/>
<rect x="410.0" y="95.50" width="14.8" height="1.35" fill="#f7cabb"/>
<rect x="410.0" y="96.80" width="14.8" height="1.35" fill="#f7cabb"/>
<rect x="410.0" y="98.10" width="14.8" height="1.35" fill="#f5b099"/>
<rect x="410.0" y="99.40" width="14.8" height="2.05" fill="#f5baa5"/>
<rect x="410.0" y="101.40" width="14.8" height="1.15" fill="#f6c2af"/>
<rect x="410.0" y="102.50" width="14.8" height="1.35" fill="#ec6f4f"/>
<rect x="410.0" y="103.80" width="14.8" height="1.35" fill="#ec7251"/>
<rect x="410.0" y="105.10" width="14.8" height="1.35" fill="#ed7856"/>
<rect x="410.0" y="106.40" width="14.8" height="1.35" fill="#ed7755"/>
<rect x="410.0" y="107.70" width="14.8" height="1.35" fill="#ec7452"/>
<rect x="410.0" y="109.00" width="14.8" height="1.35" fill="#f5b8a3"/>
<rect x="410.0" y="110.30" width="14.8" height="1.15" fill="#f4a68c"/>
<rect x="410.0" y="111.40" width="14.8" height="1.65" fill="#f6bda9"/>
<rect x="410.0" y="113.00" width="14.8" height="1.35" fill="#f5b199"/>
<rect x="410.0" y="114.30" width="14.8" height="2.05" fill="#f4a58b"/>
<rect x="410.0" y="116.30" width="14.8" height="1.15" fill="#f6c2b0"/>
<rect x="410.0" y="117.40" width="14.8" height="1.35" fill="#f5b9a5"/>
<rect x="410.0" y="118.70" width="14.8" height="1.15" fill="#f5b29c"/>
<rect x="410.0" y="119.80" width="14.8" height="2.05" fill="#f5b8a3"/>
<rect x="410.0" y="121.80" width="14.8" height="1.35" fill="#f7c6b5"/>
<rect x="410.0" y="123.10" width="14.8" height="1.65" fill="#f7d5ca"/>
<rect x="410.0" y="124.70" width="14.8" height="1.35" fill="#f6baa6"/>
<rect x="410.0" y="126.00" width="14.8" height="1.35" fill="#f6baa5"/>
<rect x="410.0" y="127.30" width="14.8" height="1.75" fill="#f6c0ad"/>
<rect x="248.00" y="18.90" width="44.19" height="110.10" fill="none" stroke="#5a4a4a" stroke-width="0.55"/>
<rect x="292.19" y="18.90" width="44.19" height="110.10" fill="none" stroke="#5a4a4a" stroke-width="0.55"/>
<rect x="336.38" y="18.90" width="44.19" height="110.10" fill="none" stroke="#5a4a4a" stroke-width="0.55"/>
<rect x="380.57" y="18.90" width="44.19" height="110.10" fill="none" stroke="#5a4a4a" stroke-width="0.55"/>
<rect x="248.0" y="130.60" width="14.8" height="1.35" fill="#f29678"/>
<rect x="248.0" y="131.90" width="14.8" height="1.15" fill="#f4a78d"/>
<rect x="248.0" y="133.00" width="14.8" height="1.35" fill="#f29a7e"/>
<rect x="248.0" y="134.30" width="14.8" height="1.15" fill="#f4aa91"/>
<rect x="248.0" y="135.40" width="14.8" height="1.35" fill="#f0896a"/>
<rect x="248.0" y="136.70" width="14.8" height="1.65" fill="#f08969"/>
<rect x="248.0" y="138.30" width="14.8" height="1.65" fill="#f19072"/>
<rect x="248.0" y="139.90" width="14.8" height="1.15" fill="#ef8261"/>
<rect x="248.0" y="141.00" width="14.8" height="1.15" fill="#ee7856"/>
<rect x="248.0" y="142.10" width="14.8" height="1.65" fill="#f19072"/>
<rect x="248.0" y="143.70" width="14.8" height="1.65" fill="#f08868"/>
<rect x="248.0" y="145.30" width="14.8" height="1.65" fill="#f29b7e"/>
<rect x="248.0" y="146.90" width="14.8" height="2.05" fill="#f18f70"/>
<rect x="248.0" y="148.90" width="14.8" height="2.05" fill="#ef8161"/>
<rect x="248.0" y="150.90" width="14.8" height="1.15" fill="#f19476"/>
<rect x="248.0" y="152.00" width="14.8" height="1.65" fill="#ef8261"/>
<rect x="248.0" y="153.60" width="14.8" height="1.65" fill="#ef8262"/>
<rect x="248.0" y="155.20" width="14.8" height="1.05" fill="#ef7e5d"/>
<rect x="262.7" y="130.60" width="14.8" height="1.35" fill="#f3a084"/>
<rect x="262.7" y="131.90" width="14.8" height="1.35" fill="#f39d81"/>
<rect x="262.7" y="133.20" width="14.8" height="2.05" fill="#f5b099"/>
<rect x="262.7" y="135.20" width="14.8" height="2.05" fill="#e6593b"/>
<rect x="262.7" y="137.20" width="14.8" height="1.65" fill="#e34a2d"/>
<rect x="262.7" y="138.80" width="14.8" height="1.65" fill="#ef805e"/>
<rect x="262.7" y="140.40" width="14.8" height="1.15" fill="#f08767"/>
<rect x="262.7" y="141.50" width="14.8" height="1.35" fill="#ec7150"/>
<rect x="262.7" y="142.80" width="14.8" height="1.15" fill="#ef8565"/>
<rect x="262.7" y="143.90" width="14.8" height="1.35" fill="#f29679"/>
<rect x="262.7" y="145.20" width="14.8" height="1.15" fill="#ef805f"/>
<rect x="262.7" y="146.30" width="14.8" height="1.35" fill="#ef7f5d"/>
<rect x="262.7" y="147.60" width="14.8" height="1.35" fill="#f08c6d"/>
<rect x="262.7" y="148.90" width="14.8" height="1.35" fill="#ef8362"/>
<rect x="262.7" y="150.20" width="14.8" height="2.05" fill="#f08c6d"/>
<rect x="262.7" y="152.20" width="14.8" height="1.65" fill="#f2977a"/>
<rect x="262.7" y="153.80" width="14.8" height="1.35" fill="#f19072"/>
<rect x="262.7" y="155.10" width="14.8" height="1.15" fill="#f29a7e"/>
<rect x="277.5" y="130.60" width="14.8" height="2.05" fill="#f3a388"/>
<rect x="277.5" y="132.60" width="14.8" height="1.35" fill="#f08a6a"/>
<rect x="277.5" y="133.90" width="14.8" height="1.15" fill="#f08a6a"/>
<rect x="277.5" y="135.00" width="14.8" height="2.05" fill="#f39f82"/>
<rect x="277.5" y="137.00" width="14.8" height="1.15" fill="#f08767"/>
<rect x="277.5" y="138.10" width="14.8" height="1.35" fill="#f18f71"/>
<rect x="277.5" y="139.40" width="14.8" height="1.35" fill="#f08767"/>
<rect x="277.5" y="140.70" width="14.8" height="1.35" fill="#f08767"/>
<rect x="277.5" y="142.00" width="14.8" height="1.35" fill="#f08666"/>
<rect x="277.5" y="143.30" width="14.8" height="1.35" fill="#f4a58b"/>
<rect x="277.5" y="144.60" width="14.8" height="2.05" fill="#f5b29c"/>
<rect x="277.5" y="146.60" width="14.8" height="2.05" fill="#f19273"/>
<rect x="277.5" y="148.60" width="14.8" height="1.65" fill="#f39c80"/>
<rect x="277.5" y="150.20" width="14.8" height="1.35" fill="#ea6949"/>
<rect x="277.5" y="151.50" width="14.8" height="2.05" fill="#ee7b59"/>
<rect x="277.5" y="153.50" width="14.8" height="1.35" fill="#ee7c5a"/>
<rect x="277.5" y="154.80" width="14.8" height="1.45" fill="#eb6e4d"/>
<rect x="292.2" y="130.60" width="14.8" height="1.15" fill="#dbd2e9"/>
<rect x="292.2" y="131.70" width="14.8" height="1.35" fill="#e1d9eb"/>
<rect x="292.2" y="133.00" width="14.8" height="1.35" fill="#cbc0e2"/>
<rect x="292.2" y="134.30" width="14.8" height="2.05" fill="#f7c7b6"/>
<rect x="292.2" y="136.30" width="14.8" height="1.35" fill="#f6c1ae"/>
<rect x="292.2" y="137.60" width="14.8" height="1.35" fill="#f7cec0"/>
<rect x="292.2" y="138.90" width="14.8" height="1.35" fill="#f6bdaa"/>
<rect x="292.2" y="140.20" width="14.8" height="1.35" fill="#f29b7e"/>
<rect x="292.2" y="141.50" width="14.8" height="2.05" fill="#f39d81"/>
<rect x="292.2" y="143.50" width="14.8" height="2.05" fill="#f5b5a0"/>
<rect x="292.2" y="145.50" width="14.8" height="1.15" fill="#f4aa91"/>
<rect x="292.2" y="146.60" width="14.8" height="1.35" fill="#f5b19a"/>
<rect x="292.2" y="147.90" width="14.8" height="1.35" fill="#f6bca8"/>
<rect x="292.2" y="149.20" width="14.8" height="1.65" fill="#f7d8cf"/>
<rect x="292.2" y="150.80" width="14.8" height="1.35" fill="#f7d5ca"/>
<rect x="292.2" y="152.10" width="14.8" height="1.65" fill="#f7c5b3"/>
<rect x="292.2" y="153.70" width="14.8" height="1.35" fill="#f4ad94"/>
<rect x="292.2" y="155.00" width="14.8" height="1.25" fill="#f5b49e"/>
<rect x="306.9" y="130.60" width="14.8" height="1.15" fill="#e0d9eb"/>
<rect x="306.9" y="131.70" width="14.8" height="1.35" fill="#c7bce1"/>
<rect x="306.9" y="133.00" width="14.8" height="1.65" fill="#d8cfe7"/>
<rect x="306.9" y="134.60" width="14.8" height="2.05" fill="#e0d9eb"/>
<rect x="306.9" y="136.60" width="14.8" height="1.35" fill="#e0d8ea"/>
<rect x="306.9" y="137.90" width="14.8" height="1.15" fill="#eee8f0"/>
<rect x="306.9" y="139.00" width="14.8" height="1.65" fill="#e6deed"/>
<rect x="306.9" y="140.60" width="14.8" height="1.65" fill="#f7eeee"/>
<rect x="306.9" y="142.20" width="14.8" height="1.35" fill="#f7e6e3"/>
<rect x="306.9" y="143.50" width="14.8" height="1.65" fill="#ece6f0"/>
<rect x="306.9" y="145.10" width="14.8" height="1.35" fill="#c7bce0"/>
<rect x="306.9" y="146.40" width="14.8" height="1.35" fill="#bdb1dc"/>
<rect x="306.9" y="147.70" width="14.8" height="1.35" fill="#c6bce0"/>
<rect x="306.9" y="149.00" width="14.8" height="1.35" fill="#d2c9e5"/>
<rect x="306.9" y="150.30" width="14.8" height="2.05" fill="#d1c8e5"/>
<rect x="306.9" y="152.30" width="14.8" height="1.35" fill="#e5deed"/>
<rect x="306.9" y="153.60" width="14.8" height="2.65" fill="#d5cce6"/>
<rect x="321.6" y="130.60" width="14.8" height="1.35" fill="#f7d1c4"/>
<rect x="321.6" y="131.90" width="14.8" height="1.15" fill="#f6c3b1"/>
<rect x="321.6" y="133.00" width="14.8" height="2.05" fill="#f6bba7"/>
<rect x="321.6" y="135.00" width="14.8" height="1.65" fill="#efe9f1"/>
<rect x="321.6" y="136.60" width="14.8" height="1.35" fill="#eee8f0"/>
<rect x="321.6" y="137.90" width="14.8" height="1.35" fill="#e8e2ee"/>
<rect x="321.6" y="139.20" width="14.8" height="1.15" fill="#dbd3e9"/>
<rect x="321.6" y="140.30" width="14.8" height="1.35" fill="#ddd5e9"/>
<rect x="321.6" y="141.60" width="14.8" height="1.15" fill="#f2ecf2"/>
<rect x="321.6" y="142.70" width="14.8" height="1.15" fill="#eee8f0"/>
<rect x="321.6" y="143.80" width="14.8" height="1.35" fill="#f7ebea"/>
<rect x="321.6" y="145.10" width="14.8" height="1.65" fill="#dad2e8"/>
<rect x="321.6" y="146.70" width="14.8" height="2.05" fill="#d3cae6"/>
<rect x="321.6" y="148.70" width="14.8" height="1.15" fill="#ccc2e3"/>
<rect x="321.6" y="149.80" width="14.8" height="1.65" fill="#c8bde1"/>
<rect x="321.6" y="151.40" width="14.8" height="2.05" fill="#d9d0e8"/>
<rect x="321.6" y="153.40" width="14.8" height="1.15" fill="#dad2e8"/>
<rect x="321.6" y="154.50" width="14.8" height="1.75" fill="#d4cae6"/>
<rect x="336.4" y="130.60" width="14.8" height="1.65" fill="#f7d2c6"/>
<rect x="336.4" y="132.20" width="14.8" height="2.05" fill="#f3edf2"/>
<rect x="336.4" y="134.20" width="14.8" height="2.05" fill="#efeaf1"/>
<rect x="336.4" y="136.20" width="14.8" height="1.35" fill="#f7efef"/>
<rect x="336.4" y="137.50" width="14.8" height="2.05" fill="#d4cbe6"/>
<rect x="336.4" y="139.50" width="14.8" height="1.15" fill="#f6bda9"/>
<rect x="336.4" y="140.60" width="14.8" height="1.15" fill="#f6c0ae"/>
<rect x="336.4" y="141.70" width="14.8" height="2.05" fill="#f6f0f3"/>
<rect x="336.4" y="143.70" width="14.8" height="1.35" fill="#c7bce1"/>
<rect x="336.4" y="145.00" width="14.8" height="1.65" fill="#f7e5e1"/>
<rect x="336.4" y="146.60" width="14.8" height="1.15" fill="#f7d0c2"/>
<rect x="336.4" y="147.70" width="14.8" height="1.35" fill="#f7c6b5"/>
<rect x="336.4" y="149.00" width="14.8" height="1.35" fill="#f5b099"/>
<rect x="336.4" y="150.30" width="14.8" height="1.15" fill="#f7d2c6"/>
<rect x="336.4" y="151.40" width="14.8" height="1.15" fill="#d2c9e5"/>
<rect x="336.4" y="152.50" width="14.8" height="2.05" fill="#f1ebf2"/>
<rect x="336.4" y="154.50" width="14.8" height="1.75" fill="#e1d9eb"/>
<rect x="351.1" y="130.60" width="14.8" height="2.05" fill="#b5a8d9"/>
<rect x="351.1" y="132.60" width="14.8" height="2.05" fill="#f7d6cc"/>
<rect x="351.1" y="134.60" width="14.8" height="1.35" fill="#f7d6cc"/>
<rect x="351.1" y="135.90" width="14.8" height="1.15" fill="#f7ecec"/>
<rect x="351.1" y="137.00" width="14.8" height="1.35" fill="#f7e2dd"/>
<rect x="351.1" y="138.30" width="14.8" height="1.35" fill="#f7f2f4"/>
<rect x="351.1" y="139.60" width="14.8" height="1.15" fill="#f7e5e2"/>
<rect x="351.1" y="140.70" width="14.8" height="1.35" fill="#eee8f0"/>
<rect x="351.1" y="142.00" width="14.8" height="1.15" fill="#b7aada"/>
<rect x="351.1" y="143.10" width="14.8" height="1.65" fill="#d5cbe6"/>
<rect x="351.1" y="144.70" width="14.8" height="2.05" fill="#f7d6cb"/>
<rect x="351.1" y="146.70" width="14.8" height="1.35" fill="#f7e0da"/>
<rect x="351.1" y="148.00" width="14.8" height="1.35" fill="#f7ddd6"/>
<rect x="351.1" y="149.30" width="14.8" height="1.65" fill="#e1daeb"/>
<rect x="351.1" y="150.90" width="14.8" height="1.15" fill="#a190cf"/>
<rect x="351.1" y="152.00" width="14.8" height="1.65" fill="#c2b6de"/>
<rect x="351.1" y="153.60" width="14.8" height="1.15" fill="#b2a4d7"/>
<rect x="351.1" y="154.70" width="14.8" height="1.55" fill="#c8bde1"/>
<rect x="365.8" y="130.60" width="14.8" height="1.15" fill="#e6dfed"/>
<rect x="365.8" y="131.70" width="14.8" height="1.65" fill="#dfd7ea"/>
<rect x="365.8" y="133.30" width="14.8" height="2.05" fill="#ddd5e9"/>
<rect x="365.8" y="135.30" width="14.8" height="1.15" fill="#745cb7"/>
<rect x="365.8" y="136.40" width="14.8" height="1.35" fill="#8671c3"/>
<rect x="365.8" y="137.70" width="14.8" height="1.35" fill="#694faf"/>
<rect x="365.8" y="139.00" width="14.8" height="1.65" fill="#a291d0"/>
<rect x="365.8" y="140.60" width="14.8" height="1.35" fill="#b0a1d6"/>
<rect x="365.8" y="141.90" width="14.8" height="2.05" fill="#a190cf"/>
<rect x="365.8" y="143.90" width="14.8" height="1.35" fill="#644aab"/>
<rect x="365.8" y="145.20" width="14.8" height="1.15" fill="#6d54b1"/>
<rect x="365.8" y="146.30" width="14.8" height="1.65" fill="#6c53b1"/>
<rect x="365.8" y="147.90" width="14.8" height="2.05" fill="#a99ad3"/>
<rect x="365.8" y="149.90" width="14.8" height="1.35" fill="#b3a5d8"/>
<rect x="365.8" y="151.20" width="14.8" height="1.65" fill="#a393d1"/>
<rect x="365.8" y="152.80" width="14.8" height="1.65" fill="#927fc9"/>
<rect x="365.8" y="154.40" width="14.8" height="1.85" fill="#aa9ad4"/>
<rect x="380.6" y="130.60" width="14.8" height="1.15" fill="#8f7cc7"/>
<rect x="380.6" y="131.70" width="14.8" height="1.15" fill="#7d66bc"/>
<rect x="380.6" y="132.80" width="14.8" height="1.35" fill="#6147aa"/>
<rect x="380.6" y="134.10" width="14.8" height="1.65" fill="#7158b4"/>
<rect x="380.6" y="135.70" width="14.8" height="1.35" fill="#9c8acd"/>
<rect x="380.6" y="137.00" width="14.8" height="1.15" fill="#917ec8"/>
<rect x="380.6" y="138.10" width="14.8" height="1.35" fill="#7158b4"/>
<rect x="380.6" y="139.40" width="14.8" height="2.05" fill="#a696d2"/>
<rect x="380.6" y="141.40" width="14.8" height="2.05" fill="#8671c3"/>
<rect x="380.6" y="143.40" width="14.8" height="1.65" fill="#9d8cce"/>
<rect x="380.6" y="145.00" width="14.8" height="2.05" fill="#9f8ece"/>
<rect x="380.6" y="147.00" width="14.8" height="2.05" fill="#9c8bcd"/>
<rect x="380.6" y="149.00" width="14.8" height="1.35" fill="#ab9cd4"/>
<rect x="380.6" y="150.30" width="14.8" height="2.05" fill="#856fc2"/>
<rect x="380.6" y="152.30" width="14.8" height="1.35" fill="#8e7ac7"/>
<rect x="380.6" y="153.60" width="14.8" height="2.65" fill="#7f69be"/>
<rect x="395.3" y="130.60" width="14.8" height="1.15" fill="#593da4"/>
<rect x="395.3" y="131.70" width="14.8" height="2.05" fill="#7058b4"/>
<rect x="395.3" y="133.70" width="14.8" height="1.35" fill="#664dad"/>
<rect x="395.3" y="135.00" width="14.8" height="1.35" fill="#9f8ecf"/>
<rect x="395.3" y="136.30" width="14.8" height="2.05" fill="#9987cc"/>
<rect x="395.3" y="138.30" width="14.8" height="1.65" fill="#4e3198"/>
<rect x="395.3" y="139.90" width="14.8" height="1.35" fill="#381a7e"/>
<rect x="395.3" y="141.20" width="14.8" height="1.15" fill="#42258a"/>
<rect x="395.3" y="142.30" width="14.8" height="1.15" fill="#391b7f"/>
<rect x="395.3" y="143.40" width="14.8" height="1.35" fill="#42258a"/>
<rect x="395.3" y="144.70" width="14.8" height="1.35" fill="#43268b"/>
<rect x="395.3" y="146.00" width="14.8" height="1.35" fill="#3f2286"/>
<rect x="395.3" y="147.30" width="14.8" height="1.35" fill="#3c1e83"/>
<rect x="395.3" y="148.60" width="14.8" height="1.65" fill="#3c1e82"/>
<rect x="395.3" y="150.20" width="14.8" height="1.15" fill="#3b1d82"/>
<rect x="395.3" y="151.30" width="14.8" height="1.35" fill="#7861b9"/>
<rect x="395.3" y="152.60" width="14.8" height="1.35" fill="#725ab5"/>
<rect x="395.3" y="153.90" width="14.8" height="1.35" fill="#7259b5"/>
<rect x="395.3" y="155.20" width="14.8" height="1.05" fill="#593ea4"/>
<rect x="410.0" y="130.60" width="14.8" height="1.65" fill="#beb2dd"/>
<rect x="410.0" y="132.20" width="14.8" height="1.65" fill="#bbafdc"/>
<rect x="410.0" y="133.80" width="14.8" height="1.15" fill="#ddd5e9"/>
<rect x="410.0" y="134.90" width="14.8" height="1.35" fill="#f7d7cd"/>
<rect x="410.0" y="136.20" width="14.8" height="1.35" fill="#f7e6e3"/>
<rect x="410.0" y="137.50" width="14.8" height="1.65" fill="#f7d9cf"/>
<rect x="410.0" y="139.10" width="14.8" height="1.15" fill="#e8e1ee"/>
<rect x="410.0" y="140.20" width="14.8" height="1.65" fill="#f7f1f4"/>
<rect x="410.0" y="141.80" width="14.8" height="1.15" fill="#eee8f0"/>
<rect x="410.0" y="142.90" width="14.8" height="1.15" fill="#e4dcec"/>
<rect x="410.0" y="144.00" width="14.8" height="2.05" fill="#cfc5e4"/>
<rect x="410.0" y="146.00" width="14.8" height="1.15" fill="#a392d0"/>
<rect x="410.0" y="147.10" width="14.8" height="2.05" fill="#9886cb"/>
<rect x="410.0" y="149.10" width="14.8" height="1.15" fill="#b1a3d7"/>
<rect x="410.0" y="150.20" width="14.8" height="1.65" fill="#a292d0"/>
<rect x="410.0" y="151.80" width="14.8" height="1.35" fill="#9f8ecf"/>
<rect x="410.0" y="153.10" width="14.8" height="1.15" fill="#b5a8d9"/>
<rect x="410.0" y="154.20" width="14.8" height="1.35" fill="#cac0e2"/>
<rect x="410.0" y="155.50" width="14.8" height="0.75" fill="#afa1d6"/>
<rect x="248.00" y="130.60" width="44.19" height="25.60" fill="none" stroke="#5a4a4a" stroke-width="0.55"/>
<rect x="292.19" y="130.60" width="44.19" height="25.60" fill="none" stroke="#5a4a4a" stroke-width="0.55"/>
<rect x="336.38" y="130.60" width="44.19" height="25.60" fill="none" stroke="#5a4a4a" stroke-width="0.55"/>
<rect x="380.57" y="130.60" width="44.19" height="25.60" fill="none" stroke="#5a4a4a" stroke-width="0.55"/>
<rect x="248.0" y="157.90" width="14.8" height="1.65" fill="#f7d6cc"/>
<rect x="248.0" y="159.50" width="14.8" height="1.65" fill="#f7e1dc"/>
<rect x="248.0" y="161.10" width="14.8" height="1.65" fill="#f7f2f4"/>
<rect x="248.0" y="162.70" width="14.8" height="2.05" fill="#f6bca9"/>
<rect x="248.0" y="164.70" width="14.8" height="1.65" fill="#f5b59f"/>
<rect x="248.0" y="166.30" width="14.8" height="1.35" fill="#f5b8a4"/>
<rect x="248.0" y="167.60" width="14.8" height="2.05" fill="#f7c6b5"/>
<rect x="248.0" y="169.60" width="14.8" height="1.35" fill="#f6c3b1"/>
<rect x="248.0" y="170.90" width="14.8" height="1.35" fill="#f7d9d0"/>
<rect x="248.0" y="172.20" width="14.8" height="1.65" fill="#f5baa5"/>
<rect x="248.0" y="173.80" width="14.8" height="1.65" fill="#f7ded7"/>
<rect x="248.0" y="175.40" width="14.8" height="1.35" fill="#f7d4c8"/>
<rect x="248.0" y="176.70" width="14.8" height="2.05" fill="#f6beaa"/>
<rect x="248.0" y="178.70" width="14.8" height="1.65" fill="#f6baa5"/>
<rect x="248.0" y="180.30" width="14.8" height="1.35" fill="#f7cdbf"/>
<rect x="248.0" y="181.60" width="14.8" height="1.35" fill="#f7d2c6"/>
<rect x="248.0" y="182.90" width="14.8" height="1.35" fill="#f7dbd3"/>
<rect x="248.0" y="184.20" width="14.8" height="1.35" fill="#f7e9e8"/>
<rect x="248.0" y="185.50" width="14.8" height="1.15" fill="#f7d6cc"/>
<rect x="248.0" y="186.60" width="14.8" height="1.35" fill="#f7e2dd"/>
<rect x="248.0" y="187.90" width="14.8" height="1.35" fill="#f7e9e7"/>
<rect x="248.0" y="189.20" width="14.8" height="2.05" fill="#f7d2c7"/>
<rect x="248.0" y="191.20" width="14.8" height="1.35" fill="#f4a68c"/>
<rect x="248.0" y="192.50" width="14.8" height="1.65" fill="#f7c5b4"/>
<rect x="248.0" y="194.10" width="14.8" height="1.65" fill="#f7caba"/>
<rect x="248.0" y="195.70" width="14.8" height="2.05" fill="#f6c0ad"/>
<rect x="248.0" y="197.70" width="14.8" height="1.15" fill="#f5b7a1"/>
<rect x="248.0" y="198.80" width="14.8" height="1.35" fill="#f6bdaa"/>
<rect x="248.0" y="200.10" width="14.8" height="1.15" fill="#f3a58a"/>
<rect x="248.0" y="201.20" width="14.8" height="1.35" fill="#f5b19a"/>
<rect x="248.0" y="202.50" width="14.8" height="2.05" fill="#f6bfac"/>
<rect x="248.0" y="204.50" width="14.8" height="1.65" fill="#f5b098"/>
<rect x="248.0" y="206.10" width="14.8" height="1.35" fill="#f4ae97"/>
<rect x="248.0" y="207.40" width="14.8" height="1.35" fill="#f4ad95"/>
<rect x="248.0" y="208.70" width="14.8" height="1.35" fill="#f19173"/>
<rect x="248.0" y="210.00" width="14.8" height="2.05" fill="#f4aa91"/>
<rect x="248.0" y="212.00" width="14.8" height="1.35" fill="#f29a7d"/>
<rect x="248.0" y="213.30" width="14.8" height="2.05" fill="#f29a7d"/>
<rect x="248.0" y="215.30" width="14.8" height="1.35" fill="#f19375"/>
<rect x="248.0" y="216.60" width="14.8" height="1.35" fill="#f5b9a4"/>
<rect x="248.0" y="217.90" width="14.8" height="1.35" fill="#f08d6e"/>
<rect x="248.0" y="219.20" width="14.8" height="1.35" fill="#f19071"/>
<rect x="248.0" y="220.50" width="14.8" height="2.05" fill="#f19172"/>
<rect x="248.0" y="222.50" width="14.8" height="1.35" fill="#f4ab93"/>
<rect x="248.0" y="223.80" width="14.8" height="1.15" fill="#f29c80"/>
<rect x="248.0" y="224.90" width="14.8" height="2.05" fill="#f29a7d"/>
<rect x="248.0" y="226.90" width="14.8" height="1.35" fill="#f3a185"/>
<rect x="248.0" y="228.20" width="14.8" height="2.05" fill="#f3a58a"/>
<rect x="248.0" y="230.20" width="14.8" height="1.35" fill="#f39d80"/>
<rect x="248.0" y="231.50" width="14.8" height="1.35" fill="#f2987a"/>
<rect x="262.7" y="157.90" width="14.8" height="1.35" fill="#f7cdbf"/>
<rect x="262.7" y="159.20" width="14.8" height="1.35" fill="#f7f2f4"/>
<rect x="262.7" y="160.50" width="14.8" height="1.65" fill="#f7c8b8"/>
<rect x="262.7" y="162.10" width="14.8" height="1.35" fill="#e65638"/>
<rect x="262.7" y="163.40" width="14.8" height="2.05" fill="#e6593a"/>
<rect x="262.7" y="165.40" width="14.8" height="1.35" fill="#e86142"/>
<rect x="262.7" y="166.70" width="14.8" height="2.05" fill="#ec704f"/>
<rect x="262.7" y="168.70" width="14.8" height="2.05" fill="#ef8464"/>
<rect x="262.7" y="170.70" width="14.8" height="1.35" fill="#e86142"/>
<rect x="262.7" y="172.00" width="14.8" height="1.35" fill="#e34c30"/>
<rect x="262.7" y="173.30" width="14.8" height="2.05" fill="#eb6e4d"/>
<rect x="262.7" y="175.30" width="14.8" height="1.35" fill="#e85f40"/>
<rect x="262.7" y="176.60" width="14.8" height="1.35" fill="#ed7553"/>
<rect x="262.7" y="177.90" width="14.8" height="2.05" fill="#f18e6f"/>
<rect x="262.7" y="179.90" width="14.8" height="1.35" fill="#ec7351"/>
<rect x="262.7" y="181.20" width="14.8" height="1.35" fill="#eb6b4b"/>
<rect x="262.7" y="182.50" width="14.8" height="1.15" fill="#e85f40"/>
<rect x="262.7" y="183.60" width="14.8" height="1.15" fill="#ea6848"/>
<rect x="262.7" y="184.70" width="14.8" height="1.35" fill="#e86041"/>
<rect x="262.7" y="186.00" width="14.8" height="2.05" fill="#ee7d5c"/>
<rect x="262.7" y="188.00" width="14.8" height="1.15" fill="#ed7554"/>
<rect x="262.7" y="189.10" width="14.8" height="1.35" fill="#eb6c4c"/>
<rect x="262.7" y="190.40" width="14.8" height="1.35" fill="#e96545"/>
<rect x="262.7" y="191.70" width="14.8" height="1.15" fill="#ec7150"/>
<rect x="262.7" y="192.80" width="14.8" height="1.35" fill="#e96647"/>
<rect x="262.7" y="194.10" width="14.8" height="2.05" fill="#ed7655"/>
<rect x="262.7" y="196.10" width="14.8" height="2.05" fill="#ea6949"/>
<rect x="262.7" y="198.10" width="14.8" height="1.35" fill="#f39d81"/>
<rect x="262.7" y="199.40" width="14.8" height="1.15" fill="#f5af98"/>
<rect x="262.7" y="200.50" width="14.8" height="1.65" fill="#f4a68c"/>
<rect x="262.7" y="202.10" width="14.8" height="1.35" fill="#f3a084"/>
<rect x="262.7" y="203.40" width="14.8" height="1.35" fill="#f4a88e"/>
<rect x="262.7" y="204.70" width="14.8" height="1.65" fill="#f39e81"/>
<rect x="262.7" y="206.30" width="14.8" height="1.15" fill="#f19375"/>
<rect x="262.7" y="207.40" width="14.8" height="2.05" fill="#ef8261"/>
<rect x="262.7" y="209.40" width="14.8" height="1.15" fill="#f3a186"/>
<rect x="262.7" y="210.50" width="14.8" height="1.35" fill="#f19173"/>
<rect x="262.7" y="211.80" width="14.8" height="1.35" fill="#f39e81"/>
<rect x="262.7" y="213.10" width="14.8" height="1.35" fill="#ee7c5a"/>
<rect x="262.7" y="214.40" width="14.8" height="1.35" fill="#f3a48a"/>
<rect x="262.7" y="215.70" width="14.8" height="1.65" fill="#f29679"/>
<rect x="262.7" y="217.30" width="14.8" height="1.65" fill="#f3a185"/>
<rect x="262.7" y="218.90" width="14.8" height="2.05" fill="#f19173"/>
<rect x="262.7" y="220.90" width="14.8" height="2.05" fill="#f3a084"/>
<rect x="262.7" y="222.90" width="14.8" height="1.35" fill="#f29c7f"/>
<rect x="262.7" y="224.20" width="14.8" height="2.05" fill="#f3a287"/>
<rect x="262.7" y="226.20" width="14.8" height="1.35" fill="#f39d81"/>
<rect x="262.7" y="227.50" width="14.8" height="1.15" fill="#f3a185"/>
<rect x="262.7" y="228.60" width="14.8" height="1.35" fill="#f08d6d"/>
<rect x="262.7" y="229.90" width="14.8" height="1.15" fill="#f5b7a1"/>
<rect x="262.7" y="231.00" width="14.8" height="1.85" fill="#f08b6c"/>
<rect x="277.5" y="157.90" width="14.8" height="2.05" fill="#f7d1c4"/>
<rect x="277.5" y="159.90" width="14.8" height="2.05" fill="#f7c9b9"/>
<rect x="277.5" y="161.90" width="14.8" height="1.15" fill="#f7e7e4"/>
<rect x="277.5" y="163.00" width="14.8" height="1.15" fill="#f5b5a0"/>
<rect x="277.5" y="164.10" width="14.8" height="1.35" fill="#f08b6c"/>
<rect x="277.5" y="165.40" width="14.8" height="1.65" fill="#f29a7d"/>
<rect x="277.5" y="167.00" width="14.8" height="1.35" fill="#f4ab92"/>
<rect x="277.5" y="168.30" width="14.8" height="1.35" fill="#ec7150"/>
<rect x="277.5" y="169.60" width="14.8" height="1.35" fill="#eb6e4d"/>
<rect x="277.5" y="170.90" width="14.8" height="1.35" fill="#e86243"/>
<rect x="277.5" y="172.20" width="14.8" height="1.35" fill="#eb6b4b"/>
<rect x="277.5" y="173.50" width="14.8" height="2.05" fill="#ed7756"/>
<rect x="277.5" y="175.50" width="14.8" height="1.35" fill="#ee7e5c"/>
<rect x="277.5" y="176.80" width="14.8" height="1.65" fill="#ef7f5d"/>
<rect x="277.5" y="178.40" width="14.8" height="1.35" fill="#ee7c5a"/>
<rect x="277.5" y="179.70" width="14.8" height="1.65" fill="#f08666"/>
<rect x="277.5" y="181.30" width="14.8" height="1.35" fill="#eb6c4c"/>
<rect x="277.5" y="182.60" width="14.8" height="1.35" fill="#eb6e4e"/>
<rect x="277.5" y="183.90" width="14.8" height="1.35" fill="#e65a3b"/>
<rect x="277.5" y="185.20" width="14.8" height="2.05" fill="#ee7b59"/>
<rect x="277.5" y="187.20" width="14.8" height="1.15" fill="#ec7150"/>
<rect x="277.5" y="188.30" width="14.8" height="1.35" fill="#ec7251"/>
<rect x="277.5" y="189.60" width="14.8" height="2.05" fill="#ea6b4a"/>
<rect x="277.5" y="191.60" width="14.8" height="1.35" fill="#ec7050"/>
<rect x="277.5" y="192.90" width="14.8" height="1.15" fill="#ee7a58"/>
<rect x="277.5" y="194.00" width="14.8" height="1.35" fill="#ed7654"/>
<rect x="277.5" y="195.30" width="14.8" height="2.05" fill="#ec7150"/>
<rect x="277.5" y="197.30" width="14.8" height="1.35" fill="#ef8565"/>
<rect x="277.5" y="198.60" width="14.8" height="2.05" fill="#ef805f"/>
<rect x="277.5" y="200.60" width="14.8" height="1.35" fill="#f08969"/>
<rect x="277.5" y="201.90" width="14.8" height="1.15" fill="#ee7a58"/>
<rect x="277.5" y="203.00" width="14.8" height="1.65" fill="#ed7453"/>
<rect x="277.5" y="204.60" width="14.8" height="1.35" fill="#ef8261"/>
<rect x="277.5" y="205.90" width="14.8" height="1.35" fill="#ee7a58"/>
<rect x="277.5" y="207.20" width="14.8" height="1.35" fill="#f08666"/>
<rect x="277.5" y="208.50" width="14.8" height="2.05" fill="#f29577"/>
<rect x="277.5" y="210.50" width="14.8" height="1.65" fill="#f19071"/>
<rect x="277.5" y="212.10" width="14.8" height="1.15" fill="#ef8362"/>
<rect x="277.5" y="213.20" width="14.8" height="1.15" fill="#ef8464"/>
<rect x="277.5" y="214.30" width="14.8" height="1.65" fill="#ef805f"/>
<rect x="277.5" y="215.90" width="14.8" height="1.35" fill="#f08969"/>
<rect x="277.5" y="217.20" width="14.8" height="1.35" fill="#eb6d4d"/>
<rect x="277.5" y="218.50" width="14.8" height="1.35" fill="#f39d81"/>
<rect x="277.5" y="219.80" width="14.8" height="1.35" fill="#ef8565"/>
<rect x="277.5" y="221.10" width="14.8" height="1.35" fill="#ef8464"/>
<rect x="277.5" y="222.40" width="14.8" height="1.15" fill="#f08767"/>
<rect x="277.5" y="223.50" width="14.8" height="1.35" fill="#ef8363"/>
<rect x="277.5" y="224.80" width="14.8" height="1.65" fill="#f29678"/>
<rect x="277.5" y="226.40" width="14.8" height="1.35" fill="#ee7c5a"/>
<rect x="277.5" y="227.70" width="14.8" height="1.35" fill="#ef8565"/>
<rect x="277.5" y="229.00" width="14.8" height="1.35" fill="#f08b6c"/>
<rect x="277.5" y="230.30" width="14.8" height="1.35" fill="#f08c6d"/>
<rect x="277.5" y="231.60" width="14.8" height="1.25" fill="#f18e70"/>
<rect x="292.2" y="157.90" width="14.8" height="1.35" fill="#3e2085"/>
<rect x="292.2" y="159.20" width="14.8" height="2.05" fill="#d8d0e8"/>
<rect x="292.2" y="161.20" width="14.8" height="2.05" fill="#e7e0ee"/>
<rect x="292.2" y="163.20" width="14.8" height="2.05" fill="#cec4e3"/>
<rect x="292.2" y="165.20" width="14.8" height="1.35" fill="#e6dfed"/>
<rect x="292.2" y="166.50" width="14.8" height="1.35" fill="#baaedb"/>
<rect x="292.2" y="167.80" width="14.8" height="1.15" fill="#c9bfe1"/>
<rect x="292.2" y="168.90" width="14.8" height="2.05" fill="#c3b8df"/>
<rect x="292.2" y="170.90" width="14.8" height="1.35" fill="#c4b9df"/>
<rect x="292.2" y="172.20" width="14.8" height="2.05" fill="#beb2dd"/>
<rect x="292.2" y="174.20" width="14.8" height="1.15" fill="#aa9bd4"/>
<rect x="292.2" y="175.30" width="14.8" height="2.05" fill="#cec5e3"/>
<rect x="292.2" y="177.30" width="14.8" height="1.65" fill="#927fc9"/>
<rect x="292.2" y="178.90" width="14.8" height="1.65" fill="#e1daeb"/>
<rect x="292.2" y="180.50" width="14.8" height="1.65" fill="#c6bbe0"/>
<rect x="292.2" y="182.10" width="14.8" height="1.65" fill="#beb3dd"/>
<rect x="292.2" y="183.70" width="14.8" height="1.15" fill="#a99ad3"/>
<rect x="292.2" y="184.80" width="14.8" height="2.05" fill="#c5bae0"/>
<rect x="292.2" y="186.80" width="14.8" height="1.15" fill="#e4ddec"/>
<rect x="292.2" y="187.90" width="14.8" height="1.65" fill="#ebe4ef"/>
<rect x="292.2" y="189.50" width="14.8" height="1.35" fill="#e9e2ee"/>
<rect x="292.2" y="190.80" width="14.8" height="1.65" fill="#e4ddec"/>
<rect x="292.2" y="192.40" width="14.8" height="1.65" fill="#e0d9eb"/>
<rect x="292.2" y="194.00" width="14.8" height="1.15" fill="#dbd3e9"/>
<rect x="292.2" y="195.10" width="14.8" height="1.35" fill="#dad1e8"/>
<rect x="292.2" y="196.40" width="14.8" height="1.15" fill="#e8e2ee"/>
<rect x="292.2" y="197.50" width="14.8" height="1.35" fill="#d2c9e5"/>
<rect x="292.2" y="198.80" width="14.8" height="1.35" fill="#ece6f0"/>
<rect x="292.2" y="200.10" width="14.8" height="1.65" fill="#d3cae6"/>
<rect x="292.2" y="201.70" width="14.8" height="1.35" fill="#f1ebf1"/>
<rect x="292.2" y="203.00" width="14.8" height="1.35" fill="#e2dbeb"/>
<rect x="292.2" y="204.30" width="14.8" height="2.05" fill="#e6dfed"/>
<rect x="292.2" y="206.30" width="14.8" height="1.65" fill="#51359c"/>
<rect x="292.2" y="207.90" width="14.8" height="1.35" fill="#694faf"/>
<rect x="292.2" y="209.20" width="14.8" height="1.35" fill="#7158b4"/>
<rect x="292.2" y="210.50" width="14.8" height="2.05" fill="#e5deed"/>
<rect x="292.2" y="212.50" width="14.8" height="1.35" fill="#d5cce6"/>
<rect x="292.2" y="213.80" width="14.8" height="1.35" fill="#f0eaf1"/>
<rect x="292.2" y="215.10" width="14.8" height="1.35" fill="#f7f0f2"/>
<rect x="292.2" y="216.40" width="14.8" height="2.05" fill="#ac9dd5"/>
<rect x="292.2" y="218.40" width="14.8" height="2.05" fill="#9e8cce"/>
<rect x="292.2" y="220.40" width="14.8" height="1.35" fill="#c0b4de"/>
<rect x="292.2" y="221.70" width="14.8" height="1.35" fill="#a393d1"/>
<rect x="292.2" y="223.00" width="14.8" height="1.15" fill="#a696d2"/>
<rect x="292.2" y="224.10" width="14.8" height="1.35" fill="#afa1d6"/>
<rect x="292.2" y="225.40" width="14.8" height="2.05" fill="#b8abda"/>
<rect x="292.2" y="227.40" width="14.8" height="1.65" fill="#ae9fd5"/>
<rect x="292.2" y="229.00" width="14.8" height="1.65" fill="#a291d0"/>
<rect x="292.2" y="230.60" width="14.8" height="1.35" fill="#9986cc"/>
<rect x="292.2" y="231.90" width="14.8" height="0.95" fill="#b7aada"/>
<rect x="306.9" y="157.90" width="14.8" height="1.65" fill="#8a76c5"/>
<rect x="306.9" y="159.50" width="14.8" height="1.65" fill="#836dc0"/>
<rect x="306.9" y="161.10" width="14.8" height="1.15" fill="#654bac"/>
<rect x="306.9" y="162.20" width="14.8" height="1.35" fill="#927ec8"/>
<rect x="306.9" y="163.50" width="14.8" height="2.05" fill="#ab9dd4"/>
<rect x="306.9" y="165.50" width="14.8" height="1.15" fill="#b4a7d8"/>
<rect x="306.9" y="166.60" width="14.8" height="1.35" fill="#a494d1"/>
<rect x="306.9" y="167.90" width="14.8" height="1.15" fill="#aa9bd4"/>
<rect x="306.9" y="169.00" width="14.8" height="1.35" fill="#b9addb"/>
<rect x="306.9" y="170.30" width="14.8" height="1.15" fill="#c8bde1"/>
<rect x="306.9" y="171.40" width="14.8" height="1.65" fill="#d0c6e4"/>
<rect x="306.9" y="173.00" width="14.8" height="1.15" fill="#d8d0e8"/>
<rect x="306.9" y="174.10" width="14.8" height="1.65" fill="#dad2e8"/>
<rect x="306.9" y="175.70" width="14.8" height="1.35" fill="#ccc2e2"/>
<rect x="306.9" y="177.00" width="14.8" height="2.05" fill="#846ec1"/>
<rect x="306.9" y="179.00" width="14.8" height="1.35" fill="#a797d2"/>
<rect x="306.9" y="180.30" width="14.8" height="1.65" fill="#c0b5de"/>
<rect x="306.9" y="181.90" width="14.8" height="1.35" fill="#8974c4"/>
<rect x="306.9" y="183.20" width="14.8" height="1.35" fill="#b9acdb"/>
<rect x="306.9" y="184.50" width="14.8" height="1.35" fill="#9a88cc"/>
<rect x="306.9" y="185.80" width="14.8" height="1.35" fill="#8b76c5"/>
<rect x="306.9" y="187.10" width="14.8" height="1.35" fill="#8a75c5"/>
<rect x="306.9" y="188.40" width="14.8" height="1.15" fill="#d1c8e5"/>
<rect x="306.9" y="189.50" width="14.8" height="2.05" fill="#ccc2e2"/>
<rect x="306.9" y="191.50" width="14.8" height="1.35" fill="#b6a8d9"/>
<rect x="306.9" y="192.80" width="14.8" height="1.65" fill="#d2c9e5"/>
<rect x="306.9" y="194.40" width="14.8" height="1.15" fill="#d8cfe7"/>
<rect x="306.9" y="195.50" width="14.8" height="1.35" fill="#ccc2e3"/>
<rect x="306.9" y="196.80" width="14.8" height="1.35" fill="#eae3ef"/>
<rect x="306.9" y="198.10" width="14.8" height="1.35" fill="#d4cbe6"/>
<rect x="306.9" y="199.40" width="14.8" height="2.05" fill="#d5cce6"/>
<rect x="306.9" y="201.40" width="14.8" height="2.05" fill="#c3b8df"/>
<rect x="306.9" y="203.40" width="14.8" height="1.35" fill="#dfd7ea"/>
<rect x="306.9" y="204.70" width="14.8" height="1.65" fill="#c5bae0"/>
<rect x="306.9" y="206.30" width="14.8" height="1.65" fill="#e3dcec"/>
<rect x="306.9" y="207.90" width="14.8" height="1.15" fill="#8c78c6"/>
<rect x="306.9" y="209.00" width="14.8" height="2.05" fill="#a696d2"/>
<rect x="306.9" y="211.00" width="14.8" height="1.65" fill="#b9addb"/>
<rect x="306.9" y="212.60" width="14.8" height="1.35" fill="#927fc9"/>
<rect x="306.9" y="213.90" width="14.8" height="1.15" fill="#a697d2"/>
<rect x="306.9" y="215.00" width="14.8" height="1.35" fill="#725ab5"/>
<rect x="306.9" y="216.30" width="14.8" height="1.35" fill="#9d8bce"/>
<rect x="306.9" y="217.60" width="14.8" height="2.05" fill="#a190cf"/>
<rect x="306.9" y="219.60" width="14.8" height="2.05" fill="#9a88cc"/>
<rect x="306.9" y="221.60" width="14.8" height="1.65" fill="#ad9ed5"/>
<rect x="306.9" y="223.20" width="14.8" height="1.35" fill="#bdb1dc"/>
<rect x="306.9" y="224.50" width="14.8" height="1.15" fill="#a393d1"/>
<rect x="306.9" y="225.60" width="14.8" height="1.15" fill="#9f8dce"/>
<rect x="306.9" y="226.70" width="14.8" height="1.35" fill="#afa1d6"/>
<rect x="306.9" y="228.00" width="14.8" height="1.15" fill="#b6a9d9"/>
<rect x="306.9" y="229.10" width="14.8" height="1.35" fill="#9d8cce"/>
<rect x="306.9" y="230.40" width="14.8" height="1.35" fill="#ad9fd5"/>
<rect x="306.9" y="231.70" width="14.8" height="1.15" fill="#b4a6d8"/>
<rect x="321.6" y="157.90" width="14.8" height="1.35" fill="#856fc2"/>
<rect x="321.6" y="159.20" width="14.8" height="1.35" fill="#816bbf"/>
<rect x="321.6" y="160.50" width="14.8" height="1.15" fill="#907cc8"/>
<rect x="321.6" y="161.60" width="14.8" height="1.15" fill="#9f8ecf"/>
<rect x="321.6" y="162.70" width="14.8" height="1.65" fill="#8e7ac7"/>
<rect x="321.6" y="164.30" width="14.8" height="2.05" fill="#9d8bce"/>
<rect x="321.6" y="166.30" width="14.8" height="2.05" fill="#a798d2"/>
<rect x="321.6" y="168.30" width="14.8" height="1.35" fill="#9e8cce"/>
<rect x="321.6" y="169.60" width="14.8" height="1.15" fill="#ab9cd4"/>
<rect x="321.6" y="170.70" width="14.8" height="1.35" fill="#a08fcf"/>
<rect x="321.6" y="172.00" width="14.8" height="2.05" fill="#9785cb"/>
<rect x="321.6" y="174.00" width="14.8" height="2.05" fill="#856fc2"/>
<rect x="321.6" y="176.00" width="14.8" height="1.35" fill="#9b89cd"/>
<rect x="321.6" y="177.30" width="14.8" height="1.65" fill="#9886cb"/>
<rect x="321.6" y="178.90" width="14.8" height="1.65" fill="#8f7bc7"/>
<rect x="321.6" y="180.50" width="14.8" height="1.65" fill="#9785cb"/>
<rect x="321.6" y="182.10" width="14.8" height="2.05" fill="#aa9ad4"/>
<rect x="321.6" y="184.10" width="14.8" height="2.05" fill="#b1a3d7"/>
<rect x="321.6" y="186.10" width="14.8" height="2.05" fill="#c0b5de"/>
<rect x="321.6" y="188.10" width="14.8" height="1.65" fill="#ddd5ea"/>
<rect x="321.6" y="189.70" width="14.8" height="1.35" fill="#c7bde1"/>
<rect x="321.6" y="191.00" width="14.8" height="1.35" fill="#c8bee1"/>
<rect x="321.6" y="192.30" width="14.8" height="1.35" fill="#c2b6de"/>
<rect x="321.6" y="193.60" width="14.8" height="1.35" fill="#bbaedb"/>
<rect x="321.6" y="194.90" width="14.8" height="2.05" fill="#c3b8df"/>
<rect x="321.6" y="196.90" width="14.8" height="1.35" fill="#aea0d6"/>
<rect x="321.6" y="198.20" width="14.8" height="1.15" fill="#d0c6e4"/>
<rect x="321.6" y="199.30" width="14.8" height="1.15" fill="#a291d0"/>
<rect x="321.6" y="200.40" width="14.8" height="1.15" fill="#b6a9d9"/>
<rect x="321.6" y="201.50" width="14.8" height="1.65" fill="#b6a9d9"/>
<rect x="321.6" y="203.10" width="14.8" height="1.15" fill="#bdb1dc"/>
<rect x="321.6" y="204.20" width="14.8" height="2.05" fill="#e0d9eb"/>
<rect x="321.6" y="206.20" width="14.8" height="2.05" fill="#dad1e8"/>
<rect x="321.6" y="208.20" width="14.8" height="1.65" fill="#f7eff0"/>
<rect x="321.6" y="209.80" width="14.8" height="1.65" fill="#ab9cd4"/>
<rect x="321.6" y="211.40" width="14.8" height="2.05" fill="#806abf"/>
<rect x="321.6" y="213.40" width="14.8" height="1.35" fill="#735bb6"/>
<rect x="321.6" y="214.70" width="14.8" height="2.05" fill="#7961ba"/>
<rect x="321.6" y="216.70" width="14.8" height="2.05" fill="#816cc0"/>
<rect x="321.6" y="218.70" width="14.8" height="1.35" fill="#9d8cce"/>
<rect x="321.6" y="220.00" width="14.8" height="1.65" fill="#b1a3d7"/>
<rect x="321.6" y="221.60" width="14.8" height="1.15" fill="#8a75c5"/>
<rect x="321.6" y="222.70" width="14.8" height="1.65" fill="#aea0d6"/>
<rect x="321.6" y="224.30" width="14.8" height="2.05" fill="#c7bce0"/>
<rect x="321.6" y="226.30" width="14.8" height="1.65" fill="#bfb4dd"/>
<rect x="321.6" y="227.90" width="14.8" height="2.05" fill="#c1b5de"/>
<rect x="321.6" y="229.90" width="14.8" height="1.15" fill="#8e7ac7"/>
<rect x="321.6" y="231.00" width="14.8" height="1.85" fill="#a493d1"/>
<rect x="336.4" y="157.90" width="14.8" height="2.05" fill="#f3a084"/>
<rect x="336.4" y="159.90" width="14.8" height="2.05" fill="#f5b39c"/>
<rect x="336.4" y="161.90" width="14.8" height="1.35" fill="#f3a286"/>
<rect x="336.4" y="163.20" width="14.8" height="1.35" fill="#f6bca8"/>
<rect x="336.4" y="164.50" width="14.8" height="1.35" fill="#f6c0ad"/>
<rect x="336.4" y="165.80" width="14.8" height="1.65" fill="#f6bca8"/>
<rect x="336.4" y="167.40" width="14.8" height="1.35" fill="#f4af98"/>
<rect x="336.4" y="168.70" width="14.8" height="1.65" fill="#f7d1c4"/>
<rect x="336.4" y="170.30" width="14.8" height="1.15" fill="#f7c6b5"/>
<rect x="336.4" y="171.40" width="14.8" height="1.65" fill="#f6bdaa"/>
<rect x="336.4" y="173.00" width="14.8" height="1.15" fill="#f7d5cb"/>
<rect x="336.4" y="174.10" width="14.8" height="1.65" fill="#ddd5e9"/>
<rect x="336.4" y="175.70" width="14.8" height="2.05" fill="#c7bce0"/>
<rect x="336.4" y="177.70" width="14.8" height="1.65" fill="#d1c8e5"/>
<rect x="336.4" y="179.30" width="14.8" height="2.05" fill="#f6c0ad"/>
<rect x="336.4" y="181.30" width="14.8" height="1.65" fill="#f4ad94"/>
<rect x="336.4" y="182.90" width="14.8" height="1.35" fill="#f5b49d"/>
<rect x="336.4" y="184.20" width="14.8" height="1.35" fill="#f4ae96"/>
<rect x="336.4" y="185.50" width="14.8" height="2.05" fill="#f3a084"/>
<rect x="336.4" y="187.50" width="14.8" height="1.65" fill="#f6c1ae"/>
<rect x="336.4" y="189.10" width="14.8" height="1.35" fill="#f4a990"/>
<rect x="336.4" y="190.40" width="14.8" height="2.05" fill="#f7d7ce"/>
<rect x="336.4" y="192.40" width="14.8" height="1.35" fill="#f7e9e6"/>
<rect x="336.4" y="193.70" width="14.8" height="2.05" fill="#dfd7ea"/>
<rect x="336.4" y="195.70" width="14.8" height="1.65" fill="#dcd4e9"/>
<rect x="336.4" y="197.30" width="14.8" height="1.35" fill="#f7c8b8"/>
<rect x="336.4" y="198.60" width="14.8" height="2.05" fill="#f7d2c7"/>
<rect x="336.4" y="200.60" width="14.8" height="1.65" fill="#f7c7b6"/>
<rect x="336.4" y="202.20" width="14.8" height="1.35" fill="#f6bda9"/>
<rect x="336.4" y="203.50" width="14.8" height="1.65" fill="#f3a186"/>
<rect x="336.4" y="205.10" width="14.8" height="1.35" fill="#f4aa91"/>
<rect x="336.4" y="206.40" width="14.8" height="1.65" fill="#f19274"/>
<rect x="336.4" y="208.00" width="14.8" height="1.35" fill="#f3a387"/>
<rect x="336.4" y="209.30" width="14.8" height="1.35" fill="#f5b9a4"/>
<rect x="336.4" y="210.60" width="14.8" height="2.05" fill="#f5b59f"/>
<rect x="336.4" y="212.60" width="14.8" height="1.65" fill="#f7d3c8"/>
<rect x="336.4" y="214.20" width="14.8" height="1.35" fill="#f6baa6"/>
<rect x="336.4" y="215.50" width="14.8" height="2.05" fill="#f3a185"/>
<rect x="336.4" y="217.50" width="14.8" height="1.15" fill="#f08868"/>
<rect x="336.4" y="218.60" width="14.8" height="1.35" fill="#f6c0ae"/>
<rect x="336.4" y="219.90" width="14.8" height="1.65" fill="#f7ccbd"/>
<rect x="336.4" y="221.50" width="14.8" height="1.35" fill="#f5b8a3"/>
<rect x="336.4" y="222.80" width="14.8" height="1.65" fill="#f5b29b"/>
<rect x="336.4" y="224.40" width="14.8" height="1.65" fill="#f7c6b5"/>
<rect x="336.4" y="226.00" width="14.8" height="1.65" fill="#f4ab92"/>
<rect x="336.4" y="227.60" width="14.8" height="1.35" fill="#f6beaa"/>
<rect x="336.4" y="228.90" width="14.8" height="1.65" fill="#f6bfac"/>
<rect x="336.4" y="230.50" width="14.8" height="2.35" fill="#f7cdbf"/>
<rect x="351.1" y="157.90" width="14.8" height="1.15" fill="#ed7654"/>
<rect x="351.1" y="159.00" width="14.8" height="1.35" fill="#ef7e5d"/>
<rect x="351.1" y="160.30" width="14.8" height="1.15" fill="#e75b3d"/>
<rect x="351.1" y="161.40" width="14.8" height="1.15" fill="#ed7755"/>
<rect x="351.1" y="162.50" width="14.8" height="1.35" fill="#e6593b"/>
<rect x="351.1" y="163.80" width="14.8" height="1.35" fill="#f7e1db"/>
<rect x="351.1" y="165.10" width="14.8" height="1.35" fill="#f7d3c7"/>
<rect x="351.1" y="166.40" width="14.8" height="2.05" fill="#f7dcd4"/>
<rect x="351.1" y="168.40" width="14.8" height="1.35" fill="#f5b9a5"/>
<rect x="351.1" y="169.70" width="14.8" height="1.65" fill="#f6bca9"/>
<rect x="351.1" y="171.30" width="14.8" height="1.35" fill="#f6beab"/>
<rect x="351.1" y="172.60" width="14.8" height="2.05" fill="#f5b9a4"/>
<rect x="351.1" y="174.60" width="14.8" height="1.15" fill="#f6c1af"/>
<rect x="351.1" y="175.70" width="14.8" height="1.15" fill="#f7cbbc"/>
<rect x="351.1" y="176.80" width="14.8" height="1.35" fill="#f7cbbc"/>
<rect x="351.1" y="178.10" width="14.8" height="1.35" fill="#f7c5b4"/>
<rect x="351.1" y="179.40" width="14.8" height="2.05" fill="#f7d9d0"/>
<rect x="351.1" y="181.40" width="14.8" height="1.15" fill="#f7dfd8"/>
<rect x="351.1" y="182.50" width="14.8" height="1.35" fill="#f7e2dd"/>
<rect x="351.1" y="183.80" width="14.8" height="1.35" fill="#f7e2dc"/>
<rect x="351.1" y="185.10" width="14.8" height="1.35" fill="#f7e2dc"/>
<rect x="351.1" y="186.40" width="14.8" height="1.35" fill="#f6bfac"/>
<rect x="351.1" y="187.70" width="14.8" height="1.65" fill="#f7e2dd"/>
<rect x="351.1" y="189.30" width="14.8" height="1.35" fill="#f4ae96"/>
<rect x="351.1" y="190.60" width="14.8" height="2.05" fill="#f7c4b3"/>
<rect x="351.1" y="192.60" width="14.8" height="1.35" fill="#f7e5e1"/>
<rect x="351.1" y="193.90" width="14.8" height="1.35" fill="#f7ecec"/>
<rect x="351.1" y="195.20" width="14.8" height="2.05" fill="#f7d2c7"/>
<rect x="351.1" y="197.20" width="14.8" height="1.35" fill="#f7c4b3"/>
<rect x="351.1" y="198.50" width="14.8" height="1.35" fill="#f7cfc2"/>
<rect x="351.1" y="199.80" width="14.8" height="1.35" fill="#f7eeef"/>
<rect x="351.1" y="201.10" width="14.8" height="1.35" fill="#f7c5b4"/>
<rect x="351.1" y="202.40" width="14.8" height="1.35" fill="#f6beab"/>
<rect x="351.1" y="203.70" width="14.8" height="1.65" fill="#f6c0ae"/>
<rect x="351.1" y="205.30" width="14.8" height="1.35" fill="#f4a58b"/>
<rect x="351.1" y="206.60" width="14.8" height="1.35" fill="#f4ae97"/>
<rect x="351.1" y="207.90" width="14.8" height="1.35" fill="#f6bba7"/>
<rect x="351.1" y="209.20" width="14.8" height="1.15" fill="#f5b29b"/>
<rect x="351.1" y="210.30" width="14.8" height="1.15" fill="#f3a185"/>
<rect x="351.1" y="211.40" width="14.8" height="1.15" fill="#f5b39c"/>
<rect x="351.1" y="212.50" width="14.8" height="2.05" fill="#f7c7b6"/>
<rect x="351.1" y="214.50" width="14.8" height="1.15" fill="#f5b19b"/>
<rect x="351.1" y="215.60" width="14.8" height="1.35" fill="#f6bfac"/>
<rect x="351.1" y="216.90" width="14.8" height="1.65" fill="#f7d5ca"/>
<rect x="351.1" y="218.50" width="14.8" height="1.15" fill="#f7cfc2"/>
<rect x="351.1" y="219.60" width="14.8" height="1.15" fill="#f7d8cf"/>
<rect x="351.1" y="220.70" width="14.8" height="2.05" fill="#f5b39d"/>
<rect x="351.1" y="222.70" width="14.8" height="1.35" fill="#f7c4b3"/>
<rect x="351.1" y="224.00" width="14.8" height="1.35" fill="#f5b29b"/>
<rect x="351.1" y="225.30" width="14.8" height="1.35" fill="#f39c80"/>
<rect x="351.1" y="226.60" width="14.8" height="1.35" fill="#f4a990"/>
<rect x="351.1" y="227.90" width="14.8" height="2.05" fill="#f4a78d"/>
<rect x="351.1" y="229.90" width="14.8" height="1.15" fill="#f4af98"/>
<rect x="351.1" y="231.00" width="14.8" height="1.85" fill="#f4a78d"/>
<rect x="365.8" y="157.90" width="14.8" height="1.15" fill="#e86142"/>
<rect x="365.8" y="159.00" width="14.8" height="1.15" fill="#e96646"/>
<rect x="365.8" y="160.10" width="14.8" height="1.35" fill="#e44f32"/>
<rect x="365.8" y="161.40" width="14.8" height="1.35" fill="#e65739"/>
<rect x="365.8" y="162.70" width="14.8" height="1.15" fill="#e55336"/>
<rect x="365.8" y="163.80" width="14.8" height="1.65" fill="#b8abda"/>
<rect x="365.8" y="165.40" width="14.8" height="2.05" fill="#b3a5d8"/>
<rect x="365.8" y="167.40" width="14.8" height="2.05" fill="#c2b7de"/>
<rect x="365.8" y="169.40" width="14.8" height="2.05" fill="#f7e6e3"/>
<rect x="365.8" y="171.40" width="14.8" height="1.35" fill="#f7e4e0"/>
<rect x="365.8" y="172.70" width="14.8" height="2.05" fill="#f7d3c7"/>
<rect x="365.8" y="174.70" width="14.8" height="1.35" fill="#b4a6d8"/>
<rect x="365.8" y="176.00" width="14.8" height="2.05" fill="#ccc2e3"/>
<rect x="365.8" y="178.00" width="14.8" height="1.35" fill="#c5badf"/>
<rect x="365.8" y="179.30" width="14.8" height="1.65" fill="#f6bfac"/>
<rect x="365.8" y="180.90" width="14.8" height="1.15" fill="#f7cbbc"/>
<rect x="365.8" y="182.00" width="14.8" height="1.65" fill="#f7ccbd"/>
<rect x="365.8" y="183.60" width="14.8" height="1.35" fill="#f7d5ca"/>
<rect x="365.8" y="184.90" width="14.8" height="2.05" fill="#f7cbbb"/>
<rect x="365.8" y="186.90" width="14.8" height="1.65" fill="#f7d0c3"/>
<rect x="365.8" y="188.50" width="14.8" height="1.65" fill="#f7dcd4"/>
<rect x="365.8" y="190.10" width="14.8" height="1.15" fill="#f1ebf1"/>
<rect x="365.8" y="191.20" width="14.8" height="2.05" fill="#f7e0db"/>
<rect x="365.8" y="193.20" width="14.8" height="1.35" fill="#f7e2dc"/>
<rect x="365.8" y="194.50" width="14.8" height="1.35" fill="#f7e6e2"/>
<rect x="365.8" y="195.80" width="14.8" height="2.05" fill="#efe9f1"/>
<rect x="365.8" y="197.80" width="14.8" height="1.15" fill="#f08a6b"/>
<rect x="365.8" y="198.90" width="14.8" height="1.35" fill="#f5b59f"/>
<rect x="365.8" y="200.20" width="14.8" height="1.15" fill="#f19477"/>
<rect x="365.8" y="201.30" width="14.8" height="2.05" fill="#f18f70"/>
<rect x="365.8" y="203.30" width="14.8" height="1.35" fill="#f19172"/>
<rect x="365.8" y="204.60" width="14.8" height="1.65" fill="#f29577"/>
<rect x="365.8" y="206.20" width="14.8" height="1.65" fill="#f4ac93"/>
<rect x="365.8" y="207.80" width="14.8" height="2.05" fill="#ef805f"/>
<rect x="365.8" y="209.80" width="14.8" height="2.05" fill="#f29a7d"/>
<rect x="365.8" y="211.80" width="14.8" height="2.05" fill="#f4a58b"/>
<rect x="365.8" y="213.80" width="14.8" height="1.35" fill="#f3a185"/>
<rect x="365.8" y="215.10" width="14.8" height="1.15" fill="#f7ebea"/>
<rect x="365.8" y="216.20" width="14.8" height="1.65" fill="#f7cbbc"/>
<rect x="365.8" y="217.80" width="14.8" height="1.35" fill="#f6c1ae"/>
<rect x="365.8" y="219.10" width="14.8" height="1.35" fill="#f7d8cf"/>
<rect x="365.8" y="220.40" width="14.8" height="2.05" fill="#f6c2b0"/>
<rect x="365.8" y="222.40" width="14.8" height="1.15" fill="#f7d9d0"/>
<rect x="365.8" y="223.50" width="14.8" height="1.35" fill="#f7d6cc"/>
<rect x="365.8" y="224.80" width="14.8" height="2.05" fill="#f5b39d"/>
<rect x="365.8" y="226.80" width="14.8" height="1.15" fill="#f2987b"/>
<rect x="365.8" y="227.90" width="14.8" height="1.35" fill="#f18f70"/>
<rect x="365.8" y="229.20" width="14.8" height="2.05" fill="#f5b9a4"/>
<rect x="365.8" y="231.20" width="14.8" height="1.65" fill="#f39d80"/>
<rect x="380.6" y="157.90" width="14.8" height="1.35" fill="#f7f2f4"/>
<rect x="380.6" y="159.20" width="14.8" height="1.35" fill="#f7e6e3"/>
<rect x="380.6" y="160.50" width="14.8" height="1.35" fill="#f0eaf1"/>
<rect x="380.6" y="161.80" width="14.8" height="1.35" fill="#ede7f0"/>
<rect x="380.6" y="163.10" width="14.8" height="1.35" fill="#ab9cd4"/>
<rect x="380.6" y="164.40" width="14.8" height="1.65" fill="#a99ad3"/>
<rect x="380.6" y="166.00" width="14.8" height="1.35" fill="#c9bee1"/>
<rect x="380.6" y="167.30" width="14.8" height="1.35" fill="#9c8bcd"/>
<rect x="380.6" y="168.60" width="14.8" height="1.35" fill="#c3b8df"/>
<rect x="380.6" y="169.90" width="14.8" height="1.15" fill="#c1b6de"/>
<rect x="380.6" y="171.00" width="14.8" height="2.05" fill="#c7bde1"/>
<rect x="380.6" y="173.00" width="14.8" height="1.35" fill="#f6f1f4"/>
<rect x="380.6" y="174.30" width="14.8" height="1.65" fill="#f5eff3"/>
<rect x="380.6" y="175.90" width="14.8" height="1.65" fill="#ece6f0"/>
<rect x="380.6" y="177.50" width="14.8" height="1.15" fill="#f7f1f3"/>
<rect x="380.6" y="178.60" width="14.8" height="1.35" fill="#f7e8e6"/>
<rect x="380.6" y="179.90" width="14.8" height="1.15" fill="#ded6ea"/>
<rect x="380.6" y="181.00" width="14.8" height="1.35" fill="#d8d0e7"/>
<rect x="380.6" y="182.30" width="14.8" height="1.65" fill="#cbc1e2"/>
<rect x="380.6" y="183.90" width="14.8" height="1.15" fill="#f5eff3"/>
<rect x="380.6" y="185.00" width="14.8" height="1.65" fill="#b4a6d8"/>
<rect x="380.6" y="186.60" width="14.8" height="1.15" fill="#a291d0"/>
<rect x="380.6" y="187.70" width="14.8" height="1.15" fill="#9683ca"/>
<rect x="380.6" y="188.80" width="14.8" height="1.15" fill="#b2a5d8"/>
<rect x="380.6" y="189.90" width="14.8" height="2.05" fill="#b1a4d7"/>
<rect x="380.6" y="191.90" width="14.8" height="1.35" fill="#b9addb"/>
<rect x="380.6" y="193.20" width="14.8" height="2.05" fill="#a898d3"/>
<rect x="380.6" y="195.20" width="14.8" height="1.35" fill="#bcb0dc"/>
<rect x="380.6" y="196.50" width="14.8" height="2.05" fill="#a494d1"/>
<rect x="380.6" y="198.50" width="14.8" height="1.35" fill="#9684cb"/>
<rect x="380.6" y="199.80" width="14.8" height="2.05" fill="#beb3dd"/>
<rect x="380.6" y="201.80" width="14.8" height="2.05" fill="#a99ad3"/>
<rect x="380.6" y="203.80" width="14.8" height="1.35" fill="#9684cb"/>
<rect x="380.6" y="205.10" width="14.8" height="1.15" fill="#53379f"/>
<rect x="380.6" y="206.20" width="14.8" height="1.15" fill="#3a1c80"/>
<rect x="380.6" y="207.30" width="14.8" height="1.35" fill="#4a2d94"/>
<rect x="380.6" y="208.60" width="14.8" height="1.35" fill="#4b2e95"/>
<rect x="380.6" y="209.90" width="14.8" height="1.65" fill="#b9addb"/>
<rect x="380.6" y="211.50" width="14.8" height="2.05" fill="#ab9cd4"/>
<rect x="380.6" y="213.50" width="14.8" height="1.35" fill="#b8abda"/>
<rect x="380.6" y="214.80" width="14.8" height="1.15" fill="#aea0d6"/>
<rect x="380.6" y="215.90" width="14.8" height="1.35" fill="#b6a9d9"/>
<rect x="380.6" y="217.20" width="14.8" height="1.35" fill="#b8abda"/>
<rect x="380.6" y="218.50" width="14.8" height="1.35" fill="#bbafdb"/>
<rect x="380.6" y="219.80" width="14.8" height="1.65" fill="#e5deed"/>
<rect x="380.6" y="221.40" width="14.8" height="1.35" fill="#c6bce0"/>
<rect x="380.6" y="222.70" width="14.8" height="1.35" fill="#9683ca"/>
<rect x="380.6" y="224.00" width="14.8" height="1.15" fill="#9d8cce"/>
<rect x="380.6" y="225.10" width="14.8" height="2.05" fill="#bbafdc"/>
<rect x="380.6" y="227.10" width="14.8" height="1.35" fill="#baaedb"/>
<rect x="380.6" y="228.40" width="14.8" height="1.65" fill="#baaddb"/>
<rect x="380.6" y="230.00" width="14.8" height="2.05" fill="#b8acda"/>
<rect x="380.6" y="232.00" width="14.8" height="0.85" fill="#cec4e3"/>
<rect x="395.3" y="157.90" width="14.8" height="1.65" fill="#beb3dd"/>
<rect x="395.3" y="159.50" width="14.8" height="1.65" fill="#beb2dd"/>
<rect x="395.3" y="161.10" width="14.8" height="2.05" fill="#c3b8df"/>
<rect x="395.3" y="163.10" width="14.8" height="1.15" fill="#7159b4"/>
<rect x="395.3" y="164.20" width="14.8" height="1.15" fill="#8974c4"/>
<rect x="395.3" y="165.30" width="14.8" height="2.05" fill="#9987cc"/>
<rect x="395.3" y="167.30" width="14.8" height="1.15" fill="#472a90"/>
<rect x="395.3" y="168.40" width="14.8" height="1.65" fill="#4d3197"/>
<rect x="395.3" y="170.00" width="14.8" height="1.65" fill="#9a88cc"/>
<rect x="395.3" y="171.60" width="14.8" height="1.35" fill="#846ec1"/>
<rect x="395.3" y="172.90" width="14.8" height="1.35" fill="#9e8cce"/>
<rect x="395.3" y="174.20" width="14.8" height="1.35" fill="#9582ca"/>
<rect x="395.3" y="175.50" width="14.8" height="1.35" fill="#846ec1"/>
<rect x="395.3" y="176.80" width="14.8" height="1.15" fill="#7860b9"/>
<rect x="395.3" y="177.90" width="14.8" height="1.35" fill="#725ab5"/>
<rect x="395.3" y="179.20" width="14.8" height="1.35" fill="#6d55b2"/>
<rect x="395.3" y="180.50" width="14.8" height="1.15" fill="#826cc0"/>
<rect x="395.3" y="181.60" width="14.8" height="1.35" fill="#5639a1"/>
<rect x="395.3" y="182.90" width="14.8" height="1.35" fill="#5539a1"/>
<rect x="395.3" y="184.20" width="14.8" height="1.35" fill="#8a75c5"/>
<rect x="395.3" y="185.50" width="14.8" height="1.65" fill="#c5badf"/>
<rect x="395.3" y="187.10" width="14.8" height="1.35" fill="#9380c9"/>
<rect x="395.3" y="188.40" width="14.8" height="2.05" fill="#9b89cd"/>
<rect x="395.3" y="190.40" width="14.8" height="2.05" fill="#4a2d93"/>
<rect x="395.3" y="192.40" width="14.8" height="1.35" fill="#3f2287"/>
<rect x="395.3" y="193.70" width="14.8" height="1.65" fill="#381a7e"/>
<rect x="395.3" y="195.30" width="14.8" height="1.35" fill="#381a7e"/>
<rect x="395.3" y="196.60" width="14.8" height="1.35" fill="#3a1d81"/>
<rect x="395.3" y="197.90" width="14.8" height="1.35" fill="#7f69be"/>
<rect x="395.3" y="199.20" width="14.8" height="1.15" fill="#6248aa"/>
<rect x="395.3" y="200.30" width="14.8" height="1.35" fill="#7c65bc"/>
<rect x="395.3" y="201.60" width="14.8" height="1.35" fill="#826dc0"/>
<rect x="395.3" y="202.90" width="14.8" height="1.35" fill="#7057b4"/>
<rect x="395.3" y="204.20" width="14.8" height="1.65" fill="#9886cb"/>
<rect x="395.3" y="205.80" width="14.8" height="1.15" fill="#8c78c6"/>
<rect x="395.3" y="206.90" width="14.8" height="1.35" fill="#aea0d6"/>
<rect x="395.3" y="208.20" width="14.8" height="2.05" fill="#b8acda"/>
<rect x="395.3" y="210.20" width="14.8" height="1.35" fill="#bbaedb"/>
<rect x="395.3" y="211.50" width="14.8" height="1.65" fill="#c4b9df"/>
<rect x="395.3" y="213.10" width="14.8" height="2.05" fill="#6b52b0"/>
<rect x="395.3" y="215.10" width="14.8" height="1.15" fill="#6f56b3"/>
<rect x="395.3" y="216.20" width="14.8" height="1.15" fill="#765eb8"/>
<rect x="395.3" y="217.30" width="14.8" height="1.35" fill="#6b51b0"/>
<rect x="395.3" y="218.60" width="14.8" height="1.65" fill="#9481c9"/>
<rect x="395.3" y="220.20" width="14.8" height="1.15" fill="#694faf"/>
<rect x="395.3" y="221.30" width="14.8" height="1.65" fill="#684eae"/>
<rect x="395.3" y="222.90" width="14.8" height="1.65" fill="#5f45a8"/>
<rect x="395.3" y="224.50" width="14.8" height="1.35" fill="#654bac"/>
<rect x="395.3" y="225.80" width="14.8" height="1.65" fill="#51349b"/>
<rect x="395.3" y="227.40" width="14.8" height="1.35" fill="#644aab"/>
<rect x="395.3" y="228.70" width="14.8" height="1.35" fill="#7860b9"/>
<rect x="395.3" y="230.00" width="14.8" height="1.65" fill="#563aa2"/>
<rect x="395.3" y="231.60" width="14.8" height="1.25" fill="#654bac"/>
<rect x="410.0" y="157.90" width="14.8" height="1.35" fill="#c0b4de"/>
<rect x="410.0" y="159.20" width="14.8" height="1.15" fill="#c1b5de"/>
<rect x="410.0" y="160.30" width="14.8" height="1.65" fill="#beb2dd"/>
<rect x="410.0" y="161.90" width="14.8" height="1.35" fill="#cec4e3"/>
<rect x="410.0" y="163.20" width="14.8" height="2.05" fill="#ab9cd4"/>
<rect x="410.0" y="165.20" width="14.8" height="1.15" fill="#a595d1"/>
<rect x="410.0" y="166.30" width="14.8" height="1.35" fill="#b5a8d9"/>
<rect x="410.0" y="167.60" width="14.8" height="1.65" fill="#b4a7d8"/>
<rect x="410.0" y="169.20" width="14.8" height="1.35" fill="#806abf"/>
<rect x="410.0" y="170.50" width="14.8" height="1.35" fill="#775fb8"/>
<rect x="410.0" y="171.80" width="14.8" height="1.15" fill="#9d8cce"/>
<rect x="410.0" y="172.90" width="14.8" height="1.65" fill="#907cc8"/>
<rect x="410.0" y="174.50" width="14.8" height="1.35" fill="#b8abda"/>
<rect x="410.0" y="175.80" width="14.8" height="1.15" fill="#b3a6d8"/>
<rect x="410.0" y="176.90" width="14.8" height="1.35" fill="#9f8ecf"/>
<rect x="410.0" y="178.20" width="14.8" height="2.05" fill="#a696d2"/>
<rect x="410.0" y="180.20" width="14.8" height="1.35" fill="#8b76c5"/>
<rect x="410.0" y="181.50" width="14.8" height="1.35" fill="#7760b8"/>
<rect x="410.0" y="182.80" width="14.8" height="1.65" fill="#6b52b0"/>
<rect x="410.0" y="184.40" width="14.8" height="1.15" fill="#7760b9"/>
<rect x="410.0" y="185.50" width="14.8" height="2.05" fill="#8a76c5"/>
<rect x="410.0" y="187.50" width="14.8" height="1.35" fill="#9b89cd"/>
<rect x="410.0" y="188.80" width="14.8" height="1.65" fill="#9b89cd"/>
<rect x="410.0" y="190.40" width="14.8" height="1.65" fill="#9d8cce"/>
<rect x="410.0" y="192.00" width="14.8" height="1.35" fill="#7b65bb"/>
<rect x="410.0" y="193.30" width="14.8" height="1.35" fill="#a190cf"/>
<rect x="410.0" y="194.60" width="14.8" height="2.05" fill="#492c92"/>
<rect x="410.0" y="196.60" width="14.8" height="1.35" fill="#5539a1"/>
<rect x="410.0" y="197.90" width="14.8" height="2.05" fill="#472a90"/>
<rect x="410.0" y="199.90" width="14.8" height="1.35" fill="#654bac"/>
<rect x="410.0" y="201.20" width="14.8" height="1.15" fill="#52359d"/>
<rect x="410.0" y="202.30" width="14.8" height="1.35" fill="#654bac"/>
<rect x="410.0" y="203.60" width="14.8" height="1.65" fill="#765fb8"/>
<rect x="410.0" y="205.20" width="14.8" height="1.65" fill="#8d78c6"/>
<rect x="410.0" y="206.80" width="14.8" height="1.65" fill="#9684cb"/>
<rect x="410.0" y="208.40" width="14.8" height="1.15" fill="#8d79c6"/>
<rect x="410.0" y="209.50" width="14.8" height="1.15" fill="#8d78c6"/>
<rect x="410.0" y="210.60" width="14.8" height="1.35" fill="#806abf"/>
<rect x="410.0" y="211.90" width="14.8" height="1.65" fill="#7d67bd"/>
<rect x="410.0" y="213.50" width="14.8" height="2.05" fill="#816bbf"/>
<rect x="410.0" y="215.50" width="14.8" height="1.35" fill="#755eb7"/>
<rect x="410.0" y="216.80" width="14.8" height="1.35" fill="#644aab"/>
<rect x="410.0" y="218.10" width="14.8" height="1.35" fill="#5f44a8"/>
<rect x="410.0" y="219.40" width="14.8" height="1.35" fill="#ab9bd4"/>
<rect x="410.0" y="220.70" width="14.8" height="1.15" fill="#9c8acd"/>
<rect x="410.0" y="221.80" width="14.8" height="1.35" fill="#937fc9"/>
<rect x="410.0" y="223.10" width="14.8" height="1.35" fill="#9684cb"/>
<rect x="410.0" y="224.40" width="14.8" height="1.15" fill="#9987cc"/>
<rect x="410.0" y="225.50" width="14.8" height="2.05" fill="#654bac"/>
<rect x="410.0" y="227.50" width="14.8" height="1.65" fill="#6146a9"/>
<rect x="410.0" y="229.10" width="14.8" height="1.35" fill="#664cad"/>
<rect x="410.0" y="230.40" width="14.8" height="1.15" fill="#674dae"/>
<rect x="410.0" y="231.50" width="14.8" height="1.35" fill="#664cad"/>
<rect x="248.00" y="157.90" width="44.19" height="74.90" fill="none" stroke="#5a4a4a" stroke-width="0.55"/>
<rect x="292.19" y="157.90" width="44.19" height="74.90" fill="none" stroke="#5a4a4a" stroke-width="0.55"/>
<rect x="336.38" y="157.90" width="44.19" height="74.90" fill="none" stroke="#5a4a4a" stroke-width="0.55"/>
<rect x="380.57" y="157.90" width="44.19" height="74.90" fill="none" stroke="#5a4a4a" stroke-width="0.55"/>
</g>
<rect x="424.8" y="18.90" width="82.7" height="110.10" fill="#d2d0d1"/>
<rect x="424.8" y="130.60" width="82.7" height="25.60" fill="#d2d0d1"/>
<rect x="424.8" y="157.90" width="82.7" height="74.90" fill="#d2d0d1"/>
<text x="428.00" y="76.38" font-size="6.6" fill="#333" stroke="#333" stroke-width="0.1" text-anchor="start" textLength="43" lengthAdjust="spacingAndGlyphs" >None enriched</text>
<text x="428.00" y="145.88" font-size="6.6" fill="#333" stroke="#333" stroke-width="0.1" text-anchor="start" textLength="43" lengthAdjust="spacingAndGlyphs" >None enriched</text>
<text x="428.00" y="182.38" font-size="6.6" fill="#333" stroke="#333" stroke-width="0.1" text-anchor="start" textLength="59" lengthAdjust="spacingAndGlyphs" >IL-2 STAT5 Signaling</text>
<text x="428.00" y="190.08" font-size="6.6" fill="#333" stroke="#333" stroke-width="0.1" text-anchor="start" textLength="73" lengthAdjust="spacingAndGlyphs" >TNFα Signaling via NFKB</text>
<text x="428.00" y="197.78" font-size="6.6" fill="#333" stroke="#333" stroke-width="0.1" text-anchor="start" textLength="72" lengthAdjust="spacingAndGlyphs" >IL-6 JAK STAT3 Signaling</text>
<text x="428.00" y="205.48" font-size="6.6" fill="#333" stroke="#333" stroke-width="0.1" text-anchor="start" textLength="44" lengthAdjust="spacingAndGlyphs" >IFNα Response</text>
<text x="428.00" y="213.18" font-size="6.6" fill="#333" stroke="#333" stroke-width="0.1" text-anchor="start" textLength="42.4" lengthAdjust="spacingAndGlyphs" >IFNγ Response</text>
<path d="M247.5 61.3H241.5V155.3H247.5" fill="none" stroke="#777" stroke-width="0.7"/>
<text x="236.30" y="78.92" font-size="7" fill="#333" stroke="#333" stroke-width="0.16" text-anchor="middle" >1</text>
<text x="236.30" y="145.32" font-size="7" fill="#333" stroke="#333" stroke-width="0.16" text-anchor="middle" >2</text>
<text x="236.30" y="193.92" font-size="7" fill="#333" stroke="#333" stroke-width="0.16" text-anchor="middle" >3</text>
<text transform="translate(7.20,234.20) scale(0.909,1)" font-size="11.9" font-weight="bold" fill="#111" stroke="#111" stroke-width="0.3">B</text>
<circle cx="77" cy="288" r="39" fill="#545d9f" fill-opacity="0.45" stroke="#2c3a7c" stroke-width="1.3"/>
<circle cx="125.6" cy="287.6" r="39" fill="#f8c363" fill-opacity="0.45" stroke="#e6b93c" stroke-width="1.2"/>
<circle cx="101.8" cy="331" r="38.7" fill="#8cbd6a" fill-opacity="0.45" stroke="#5f9e44" stroke-width="1.3"/>
<text x="56.60" y="244.60" font-size="8.6" fill="#333" stroke="#333" stroke-width="0.16" text-anchor="middle" textLength="36" lengthAdjust="spacingAndGlyphs" >Ita vs Veh</text>
<text x="141.00" y="244.60" font-size="8.6" fill="#333" stroke="#333" stroke-width="0.16" text-anchor="middle" textLength="40" lengthAdjust="spacingAndGlyphs" >Fed vs Veh</text>
<text x="102.00" y="380.20" font-size="8.6" fill="#333" stroke="#333" stroke-width="0.16" text-anchor="middle" textLength="46" lengthAdjust="spacingAndGlyphs" >Ruxo vs Veh</text>
<text x="60.80" y="275.00" font-size="6.4" fill="#333" stroke="#333" stroke-width="0.1" text-anchor="middle" >3</text>
<text x="60.80" y="282.70" font-size="6.4" fill="#333" stroke="#333" stroke-width="0.1" text-anchor="middle" >(1%)</text>
<text x="101.20" y="275.00" font-size="6.4" fill="#333" stroke="#333" stroke-width="0.1" text-anchor="middle" >0</text>
<text x="101.20" y="282.70" font-size="6.4" fill="#333" stroke="#333" stroke-width="0.1" text-anchor="middle" >(0%)</text>
<text x="136.30" y="274.20" font-size="6.4" fill="#333" stroke="#333" stroke-width="0.1" text-anchor="middle" >2</text>
<text x="136.30" y="282.30" font-size="6.4" fill="#333" stroke="#333" stroke-width="0.1" text-anchor="middle" >(0.6%)</text>
<text x="101.20" y="298.10" font-size="6.4" fill="#333" stroke="#333" stroke-width="0.1" text-anchor="middle" >1</text>
<text x="101.20" y="305.80" font-size="6.4" fill="#333" stroke="#333" stroke-width="0.1" text-anchor="middle" >(0.3%)</text>
<text x="80.00" y="312.50" font-size="6.4" fill="#333" stroke="#333" stroke-width="0.1" text-anchor="middle" >46</text>
<text x="80.00" y="320.30" font-size="6.4" fill="#333" stroke="#333" stroke-width="0.1" text-anchor="middle" >(14.9%)</text>
<text x="121.30" y="311.90" font-size="6.4" fill="#333" stroke="#333" stroke-width="0.1" text-anchor="middle" >6</text>
<text x="121.30" y="320.30" font-size="6.4" fill="#333" stroke="#333" stroke-width="0.1" text-anchor="middle" >(1.9%)</text>
<text x="101.90" y="344.60" font-size="6.4" fill="#333" stroke="#333" stroke-width="0.1" text-anchor="middle" >250</text>
<text x="101.90" y="352.70" font-size="6.4" fill="#333" stroke="#333" stroke-width="0.1" text-anchor="middle" >(81.2%)</text>
<text transform="translate(7.10,405.80) scale(1.038,1)" font-size="11.9" font-weight="bold" fill="#111" stroke="#111" stroke-width="0.3">D</text>
<rect x="140.9" y="408.6" width="52.3" height="217.8" fill="none" stroke="#222" stroke-width="1.4"/>
<line x1="137.90" y1="419.10" x2="140.80" y2="419.10" stroke="#222" stroke-width="1" />
<text x="134.30" y="421.77" font-size="6.3" fill="#a8664e" stroke="#a8664e" stroke-width="0.1" text-anchor="end" textLength="105" lengthAdjust="spacingAndGlyphs" >INTERFERON_GAMMA_RESPONSE</text>
<line x1="137.90" y1="436.98" x2="140.80" y2="436.98" stroke="#222" stroke-width="1" />
<text x="134.30" y="439.65" font-size="6.3" fill="#a8664e" stroke="#a8664e" stroke-width="0.1" text-anchor="end" textLength="100" lengthAdjust="spacingAndGlyphs" >INTERFERON_ALPHA_RESPONSE</text>
<line x1="137.90" y1="454.86" x2="140.80" y2="454.86" stroke="#222" stroke-width="1" />
<text x="134.30" y="457.53" font-size="6.3" fill="#a8664e" stroke="#a8664e" stroke-width="0.1" text-anchor="end" textLength="82" lengthAdjust="spacingAndGlyphs" >IL6_JAK_STAT3_SIGNALING</text>
<line x1="137.90" y1="472.74" x2="140.80" y2="472.74" stroke="#222" stroke-width="1" />
<text x="134.30" y="475.41" font-size="6.3" fill="#a8664e" stroke="#a8664e" stroke-width="0.1" text-anchor="end" textLength="67" lengthAdjust="spacingAndGlyphs" >IL2_STAT5_SIGNALING</text>
<line x1="137.90" y1="490.62" x2="140.80" y2="490.62" stroke="#222" stroke-width="1" />
<text x="134.30" y="493.29" font-size="6.3" fill="#7a43a0" stroke="#7a43a0" stroke-width="0.1" text-anchor="end" textLength="55.4" lengthAdjust="spacingAndGlyphs" >MYC_TARGETS_V2</text>
<line x1="137.90" y1="508.50" x2="140.80" y2="508.50" stroke="#222" stroke-width="1" />
<text x="134.30" y="511.17" font-size="6.3" fill="#7a43a0" stroke="#7a43a0" stroke-width="0.1" text-anchor="end" textLength="55.4" lengthAdjust="spacingAndGlyphs" >MYC_TARGETS_V1</text>
<line x1="137.90" y1="526.38" x2="140.80" y2="526.38" stroke="#222" stroke-width="1" />
<text x="134.30" y="529.05" font-size="6.3" fill="#7a43a0" stroke="#7a43a0" stroke-width="0.1" text-anchor="end" textLength="66.2" lengthAdjust="spacingAndGlyphs" >KRAS_SIGNALING_DN</text>
<line x1="137.90" y1="544.26" x2="140.80" y2="544.26" stroke="#222" stroke-width="1" />
<text x="134.30" y="546.93" font-size="6.3" fill="#7a43a0" stroke="#7a43a0" stroke-width="0.1" text-anchor="end" textLength="40.8" lengthAdjust="spacingAndGlyphs" >E2F_TARGETS</text>
<line x1="137.90" y1="562.14" x2="140.80" y2="562.14" stroke="#222" stroke-width="1" />
<text x="134.30" y="564.81" font-size="6.3" fill="#222" stroke="#222" stroke-width="0.1" text-anchor="end" textLength="101.5" lengthAdjust="spacingAndGlyphs" >UNFOLDED_PROTEIN_RESPONSE</text>
<line x1="137.90" y1="580.02" x2="140.80" y2="580.02" stroke="#222" stroke-width="1" />
<text x="134.30" y="582.69" font-size="6.3" fill="#df2f78" stroke="#df2f78" stroke-width="0.1" text-anchor="end" textLength="97.6" lengthAdjust="spacingAndGlyphs" >OXIDATIVE_PHOSPHORYLATION</text>
<line x1="137.90" y1="597.90" x2="140.80" y2="597.90" stroke="#222" stroke-width="1" />
<text x="134.30" y="600.57" font-size="6.3" fill="#cf2f8e" stroke="#cf2f8e" stroke-width="0.1" text-anchor="end" textLength="62.2" lengthAdjust="spacingAndGlyphs" >HEME_METABOLISM</text>
<line x1="137.90" y1="615.78" x2="140.80" y2="615.78" stroke="#222" stroke-width="1" />
<text x="134.30" y="618.45" font-size="6.3" fill="#3aa6a8" stroke="#3aa6a8" stroke-width="0.1" text-anchor="end" textLength="38.2" lengthAdjust="spacingAndGlyphs" >DNA_REPAIR</text>
<circle cx="150.6" cy="419.10" r="2.9" fill="#2b1b7c"/>
<circle cx="183.4" cy="419.10" r="2.5" fill="#2b1b7c"/>
<circle cx="150.6" cy="436.98" r="3.0" fill="#2b1b7c"/>
<circle cx="183.4" cy="436.98" r="2.5" fill="#2b1b7c"/>
<circle cx="150.6" cy="454.86" r="2.5" fill="#2b1b7c"/>
<circle cx="183.4" cy="454.86" r="4.3" fill="#2b1b7c"/>
<circle cx="183.4" cy="472.74" r="1.7" fill="#2b1b7c"/>
<circle cx="150.6" cy="490.62" r="4.3" fill="#e4151c"/>
<circle cx="150.6" cy="508.50" r="4.3" fill="#e4151c"/>
<circle cx="167.1" cy="526.38" r="1.2" fill="#2b1b7c"/>
<circle cx="167.1" cy="544.26" r="1.7" fill="#2b1b7c"/>
<circle cx="150.6" cy="562.14" r="2.7" fill="#e4151c"/>
<circle cx="150.6" cy="580.02" r="4.4" fill="#e4151c"/>
<circle cx="183.4" cy="580.02" r="4.3" fill="#e4151c"/>
<circle cx="167.1" cy="597.90" r="2.0" fill="#2b1b7c"/>
<circle cx="150.6" cy="615.78" r="2.4" fill="#e4151c"/>
<line x1="150.60" y1="626.60" x2="150.60" y2="629.40" stroke="#222" stroke-width="1" />
<line x1="167.10" y1="626.60" x2="167.10" y2="629.40" stroke="#222" stroke-width="1" />
<line x1="183.40" y1="626.60" x2="183.40" y2="629.40" stroke="#222" stroke-width="1" />
<text transform="translate(156.4,637.2) rotate(-45)" font-size="7" fill="#333" text-anchor="end" textLength="24.5" lengthAdjust="spacingAndGlyphs">Itacitinib</text>
<text transform="translate(173.0,637.2) rotate(-45)" font-size="7" fill="#333" text-anchor="end" textLength="29.5" lengthAdjust="spacingAndGlyphs">Fedratinib</text>
<text transform="translate(189.8,637.2) rotate(-45)" font-size="7" fill="#333" text-anchor="end" textLength="31.5" lengthAdjust="spacingAndGlyphs">Ruxolitinib</text>
<text x="167.00" y="669.80" font-size="8.2" fill="#333" stroke="#333" stroke-width="0.16" text-anchor="middle" textLength="60.6" lengthAdjust="spacingAndGlyphs" >Treatment vs vehicle</text>
<text transform="translate(25.3,512.5) rotate(-90)" font-size="7.2" fill="#333" stroke="#333" stroke-width="0.12" text-anchor="middle" textLength="136" lengthAdjust="spacingAndGlyphs">Significantly enriched hallmark genesets (GSEA)</text>
<text x="7.30" y="606.18" font-size="6.6" fill="#333" stroke="#333" stroke-width="0.1" text-anchor="start" textLength="50.4" lengthAdjust="spacingAndGlyphs" >−log10(FDR.q.val)</text>
<circle cx="11.2" cy="614.0" r="2.6" fill="#111"/>
<text x="18.80" y="616.38" font-size="6.6" fill="#333" stroke="#333" stroke-width="0.1" text-anchor="start" >2</text>
<circle cx="11.2" cy="623.7" r="3.4" fill="#111"/>
<text x="18.80" y="626.08" font-size="6.6" fill="#333" stroke="#333" stroke-width="0.1" text-anchor="start" >3</text>
<circle cx="11.2" cy="634.2" r="4.1" fill="#111"/>
<text x="18.80" y="636.58" font-size="6.6" fill="#333" stroke="#333" stroke-width="0.1" text-anchor="start" >4</text>
<circle cx="11.2" cy="645.8" r="4.8" fill="#111"/>
<text x="18.80" y="648.18" font-size="6.6" fill="#333" stroke="#333" stroke-width="0.1" text-anchor="start" >5</text>
<text x="6.70" y="665.08" font-size="6.6" fill="#333" stroke="#333" stroke-width="0.1" text-anchor="start" textLength="68.3" lengthAdjust="spacingAndGlyphs" >Direction of Enrichment</text>
<circle cx="7.7" cy="672.7" r="1.4" fill="#2b1b7c"/>
<circle cx="7.7" cy="682.7" r="1.5" fill="#c8102a"/>
<text x="12.50" y="675.08" font-size="6.6" fill="#333" stroke="#333" stroke-width="0.1" text-anchor="start" textLength="48" lengthAdjust="spacingAndGlyphs" >Down−regulated</text>
<text x="12.50" y="685.08" font-size="6.6" fill="#333" stroke="#333" stroke-width="0.1" text-anchor="start" textLength="39.5" lengthAdjust="spacingAndGlyphs" >Up−regulated</text>
<defs><filter id="bb" x="-0.05" y="0" width="1.1" height="1"><feGaussianBlur stdDeviation="0.45 0"/></filter></defs>
<text x="297.50" y="254.60" font-size="7.5" fill="#333" stroke="#333" stroke-width="0.16" text-anchor="middle" textLength="85" lengthAdjust="spacingAndGlyphs" >Enrichment plot: HALLMARK_</text>
<text x="298.00" y="262.00" font-size="7.5" fill="#333" stroke="#333" stroke-width="0.16" text-anchor="middle" textLength="99.3" lengthAdjust="spacingAndGlyphs" >INTERFERON_ALPHA_RESPONSE</text>
<path d="M244.50 268.50 C247.62 269.94 256.58 274.16 263.23 277.11 C269.88 280.06 277.35 283.08 284.41 286.18 C291.46 289.28 298.54 292.53 305.58 295.71 C312.62 298.90 321.38 303.00 326.65 305.30 C331.93 307.60 334.78 308.92 337.24 309.50 C339.70 310.08 340.36 310.03 341.41 308.78 C342.47 307.54 342.92 305.95 343.55 302.02 C344.18 298.09 344.72 290.66 345.18 285.21 C345.64 279.76 346.11 271.97 346.30 269.32" fill="none" stroke="#5eae45" stroke-width="1.15"/>
<text x="247.10" y="296.80" font-size="5.0" fill="#222" text-anchor="start" textLength="21" lengthAdjust="spacingAndGlyphs" >NES = −1.6</text>
<text x="247.10" y="301.80" font-size="5.0" fill="#222" text-anchor="start" textLength="28" lengthAdjust="spacingAndGlyphs" ><tspan font-style="italic">P</tspan> value = .001</text>
<text x="247.10" y="306.80" font-size="5.0" fill="#222" text-anchor="start" textLength="23" lengthAdjust="spacingAndGlyphs" >FDR = 0.001</text>
<line x1="240.90" y1="268.50" x2="244.50" y2="268.50" stroke="#222" stroke-width="0.8" />
<text x="238.10" y="270.19" font-size="4.7" fill="#333" text-anchor="end" textLength="5.6" lengthAdjust="spacingAndGlyphs" >0.0</text>
<line x1="240.90" y1="273.62" x2="244.50" y2="273.62" stroke="#222" stroke-width="0.8" />
<text x="238.10" y="275.32" font-size="4.7" fill="#333" text-anchor="end" textLength="7.4" lengthAdjust="spacingAndGlyphs" >−0.1</text>
<line x1="240.90" y1="278.75" x2="244.50" y2="278.75" stroke="#222" stroke-width="0.8" />
<text x="238.10" y="280.44" font-size="4.7" fill="#333" text-anchor="end" textLength="7.4" lengthAdjust="spacingAndGlyphs" >−0.2</text>
<line x1="240.90" y1="283.88" x2="244.50" y2="283.88" stroke="#222" stroke-width="0.8" />
<text x="238.10" y="285.57" font-size="4.7" fill="#333" text-anchor="end" textLength="7.4" lengthAdjust="spacingAndGlyphs" >−0.3</text>
<line x1="240.90" y1="289.00" x2="244.50" y2="289.00" stroke="#222" stroke-width="0.8" />
<text x="238.10" y="290.69" font-size="4.7" fill="#333" text-anchor="end" textLength="7.4" lengthAdjust="spacingAndGlyphs" >−0.4</text>
<line x1="240.90" y1="294.12" x2="244.50" y2="294.12" stroke="#222" stroke-width="0.8" />
<text x="238.10" y="295.82" font-size="4.7" fill="#333" text-anchor="end" textLength="7.4" lengthAdjust="spacingAndGlyphs" >−0.5</text>
<line x1="240.90" y1="299.25" x2="244.50" y2="299.25" stroke="#222" stroke-width="0.8" />
<text x="238.10" y="300.94" font-size="4.7" fill="#333" text-anchor="end" textLength="7.4" lengthAdjust="spacingAndGlyphs" >−0.6</text>
<line x1="240.90" y1="304.38" x2="244.50" y2="304.38" stroke="#222" stroke-width="0.8" />
<text x="238.10" y="306.07" font-size="4.7" fill="#333" text-anchor="end" textLength="7.4" lengthAdjust="spacingAndGlyphs" >−0.7</text>
<line x1="240.90" y1="309.50" x2="244.50" y2="309.50" stroke="#222" stroke-width="0.8" />
<text x="238.10" y="311.19" font-size="4.7" fill="#333" text-anchor="end" textLength="7.4" lengthAdjust="spacingAndGlyphs" >−0.8</text>
<g filter="url(#bb)">
<rect x="252.30" y="312.20" width="0.70" height="15.40" fill="#000" fill-opacity="0.49"/>
<rect x="256.00" y="312.20" width="2.60" height="15.40" fill="#000" fill-opacity="0.25"/>
<rect x="264.80" y="312.20" width="0.80" height="15.40" fill="#000" fill-opacity="1.00"/>
<rect x="267.40" y="312.20" width="0.80" height="15.40" fill="#000" fill-opacity="1.00"/>
<rect x="271.60" y="312.20" width="0.80" height="15.40" fill="#000" fill-opacity="0.84"/>
<rect x="277.80" y="312.20" width="3.00" height="15.40" fill="#000" fill-opacity="0.28"/>
<rect x="279.00" y="312.20" width="0.60" height="15.40" fill="#000" fill-opacity="0.56"/>
<rect x="284.50" y="312.20" width="0.70" height="15.40" fill="#000" fill-opacity="0.56"/>
<rect x="286.00" y="312.20" width="0.70" height="15.40" fill="#000" fill-opacity="0.63"/>
<rect x="287.80" y="312.20" width="0.70" height="15.40" fill="#000" fill-opacity="0.56"/>
<rect x="290.80" y="312.20" width="0.80" height="15.40" fill="#000" fill-opacity="1.00"/>
<rect x="294.00" y="312.20" width="2.00" height="15.40" fill="#000" fill-opacity="0.42"/>
<rect x="296.20" y="312.20" width="0.80" height="15.40" fill="#000" fill-opacity="0.56"/>
<rect x="300.00" y="312.20" width="0.80" height="15.40" fill="#000" fill-opacity="1.00"/>
<rect x="302.70" y="312.20" width="0.70" height="15.40" fill="#000" fill-opacity="0.56"/>
<rect x="309.30" y="312.20" width="0.80" height="15.40" fill="#000" fill-opacity="1.00"/>
<rect x="312.50" y="312.20" width="4.50" height="15.40" fill="#000" fill-opacity="0.31"/>
<rect x="314.00" y="312.20" width="0.60" height="15.40" fill="#000" fill-opacity="0.70"/>
<rect x="320.20" y="312.20" width="0.80" height="15.40" fill="#000" fill-opacity="0.84"/>
<rect x="323.50" y="312.20" width="0.70" height="15.40" fill="#000" fill-opacity="0.63"/>
<rect x="328.00" y="312.20" width="2.00" height="15.40" fill="#000" fill-opacity="0.42"/>
<rect x="332.80" y="312.20" width="0.70" height="15.40" fill="#000" fill-opacity="0.70"/>
<rect x="336.70" y="312.20" width="4.30" height="15.40" fill="#000" fill-opacity="0.35"/>
<rect x="338.50" y="312.20" width="0.60" height="15.40" fill="#000" fill-opacity="0.70"/>
<rect x="343.20" y="312.20" width="0.90" height="15.40" fill="#000" fill-opacity="1.00"/>
<rect x="345.40" y="312.20" width="0.90" height="15.40" fill="#000" fill-opacity="1.00"/>
</g>
<defs><linearGradient id="g1" x1="0" x2="1" y1="0" y2="0"><stop offset="0" stop-color="#e4474a"/><stop offset="0.26" stop-color="#e85a5e"/><stop offset="0.28" stop-color="#ec9ec8"/><stop offset="0.45" stop-color="#eab8e0"/><stop offset="0.55" stop-color="#c8c4ec"/><stop offset="0.8" stop-color="#9a98dc"/><stop offset="0.86" stop-color="#5a56b4"/><stop offset="1" stop-color="#2a2288"/></linearGradient></defs>
<rect x="244.50" y="327.60" width="101.80" height="3.80" fill="url(#g1)"/>
<text x="246.30" y="336.50" font-size="5.0" fill="#e0504a" text-anchor="start" textLength="58" lengthAdjust="spacingAndGlyphs" >‘na_pos’ (positively correlated)</text>
<line x1="245.50" y1="342.20" x2="346.30" y2="342.20" stroke="#b8b8b8" stroke-width="0.5" />
<path d="M245.00 342.20 L245.00 341.70 L264.50 342.10 L295.40 342.20 L324.30 342.60 L336.30 343.10 L342.30 344.00 L344.80 346.20 L346.00 350.20 L346.30 342.20 Z" fill="#d4d4d4" stroke="#999" stroke-width="0.4"/>
<text x="302.08" y="348.02" font-size="5.6" fill="#222" stroke="#222" stroke-width="0.1" text-anchor="middle" textLength="35.6" lengthAdjust="spacingAndGlyphs" >Zero cross at 6727</text>
<text x="345.80" y="359.90" font-size="5.0" fill="#4a4aa8" text-anchor="end" textLength="60.4" lengthAdjust="spacingAndGlyphs" >‘na_neg’ (negatively correlated)</text>
<line x1="241.10" y1="335.90" x2="244.50" y2="335.90" stroke="#222" stroke-width="0.8" />
<text x="238.50" y="337.59" font-size="4.7" fill="#333" text-anchor="end" textLength="5.0" lengthAdjust="spacingAndGlyphs" >10</text>
<line x1="241.10" y1="342.20" x2="244.50" y2="342.20" stroke="#222" stroke-width="0.8" />
<text x="238.50" y="343.89" font-size="4.7" fill="#333" text-anchor="end" textLength="2.6" lengthAdjust="spacingAndGlyphs" >0</text>
<line x1="241.10" y1="348.50" x2="244.50" y2="348.50" stroke="#222" stroke-width="0.8" />
<text x="238.50" y="350.19" font-size="4.7" fill="#333" text-anchor="end" textLength="6.999999999999999" lengthAdjust="spacingAndGlyphs" >−10</text>
<line x1="241.10" y1="354.80" x2="244.50" y2="354.80" stroke="#222" stroke-width="0.8" />
<text x="238.50" y="356.49" font-size="4.7" fill="#333" text-anchor="end" textLength="6.999999999999999" lengthAdjust="spacingAndGlyphs" >−20</text>
<line x1="241.10" y1="361.10" x2="244.50" y2="361.10" stroke="#222" stroke-width="0.8" />
<text x="238.50" y="362.79" font-size="4.7" fill="#333" text-anchor="end" textLength="6.999999999999999" lengthAdjust="spacingAndGlyphs" >−30</text>
<path d="M244.50 266.50H351.50V361.50H244.50Z" fill="none" stroke="#222" stroke-width="1"/>
<line x1="244.50" y1="312.20" x2="351.50" y2="312.20" stroke="#ddd" stroke-width="0.4" />
<line x1="244.50" y1="361.50" x2="244.50" y2="364.30" stroke="#222" stroke-width="0.8" />
<text x="244.50" y="371.82" font-size="4.5" fill="#333" text-anchor="middle" textLength="2.4" lengthAdjust="spacingAndGlyphs" >0</text>
<line x1="265.90" y1="361.50" x2="265.90" y2="364.30" stroke="#222" stroke-width="0.8" />
<text x="265.90" y="371.82" font-size="4.5" fill="#333" text-anchor="middle" textLength="9.3" lengthAdjust="spacingAndGlyphs" >2,500</text>
<line x1="287.30" y1="361.50" x2="287.30" y2="364.30" stroke="#222" stroke-width="0.8" />
<text x="287.30" y="371.82" font-size="4.5" fill="#333" text-anchor="middle" textLength="9.3" lengthAdjust="spacingAndGlyphs" >5,000</text>
<line x1="308.70" y1="361.50" x2="308.70" y2="364.30" stroke="#222" stroke-width="0.8" />
<text x="308.70" y="371.82" font-size="4.5" fill="#333" text-anchor="middle" textLength="9.3" lengthAdjust="spacingAndGlyphs" >7,500</text>
<line x1="330.10" y1="361.50" x2="330.10" y2="364.30" stroke="#222" stroke-width="0.8" />
<text x="330.10" y="371.82" font-size="4.5" fill="#333" text-anchor="middle" textLength="11.5" lengthAdjust="spacingAndGlyphs" >10,000</text>
<line x1="351.50" y1="361.50" x2="351.50" y2="364.30" stroke="#222" stroke-width="0.8" />
<text x="351.50" y="371.82" font-size="4.5" fill="#333" text-anchor="middle" textLength="11.5" lengthAdjust="spacingAndGlyphs" >12,500</text>
<text x="299.20" y="381.39" font-size="7.2" fill="#333" stroke="#333" stroke-width="0.16" text-anchor="middle" textLength="55.3" lengthAdjust="spacingAndGlyphs" >Rank in ordered dataset</text>
<text transform="translate(225.30,289.35) rotate(-90)" font-size="7.2" fill="#333" stroke="#333" stroke-width="0.12" text-anchor="middle" textLength="47" lengthAdjust="spacingAndGlyphs">Enrichment score (ES)</text>
<text transform="translate(218.50,348.45) rotate(-90)" font-size="7.4" fill="#333" stroke="#333" stroke-width="0.12" text-anchor="middle" textLength="38" lengthAdjust="spacingAndGlyphs">Ranked list metric</text>
<text transform="translate(225.30,348.45) rotate(-90)" font-size="7.4" fill="#333" stroke="#333" stroke-width="0.12" text-anchor="middle" textLength="28" lengthAdjust="spacingAndGlyphs">(PreRanked)</text>
<text x="453.50" y="254.60" font-size="7.5" fill="#333" stroke="#333" stroke-width="0.16" text-anchor="middle" textLength="85" lengthAdjust="spacingAndGlyphs" >Enrichment plot: HALLMARK_</text>
<text x="454.00" y="262.00" font-size="7.5" fill="#333" stroke="#333" stroke-width="0.16" text-anchor="middle" textLength="102.5" lengthAdjust="spacingAndGlyphs" >INTERFERON_GAMMA_RESPONSE</text>
<path d="M400.50 268.73 C402.18 269.42 406.79 271.28 410.60 272.89 C414.41 274.50 418.40 275.99 423.35 278.40 C428.30 280.80 433.92 284.07 440.28 287.31 C446.64 290.54 455.15 294.69 461.50 297.78 C467.84 300.88 473.74 303.93 478.33 305.88 C482.92 307.84 486.37 309.25 489.04 309.50 C491.70 309.75 492.76 308.98 494.34 307.39 C495.92 305.81 497.30 303.69 498.52 300.00 C499.75 296.30 501.02 290.37 501.68 285.20 C502.35 280.03 502.36 271.70 502.50 269.00" fill="none" stroke="#5eae45" stroke-width="1.15"/>
<text x="403.10" y="296.20" font-size="5.0" fill="#222" text-anchor="start" textLength="21" lengthAdjust="spacingAndGlyphs" >NES = −1.5</text>
<text x="403.10" y="301.20" font-size="5.0" fill="#222" text-anchor="start" textLength="28" lengthAdjust="spacingAndGlyphs" ><tspan font-style="italic">P</tspan> value = .001</text>
<text x="403.10" y="306.20" font-size="5.0" fill="#222" text-anchor="start" textLength="20" lengthAdjust="spacingAndGlyphs" >FDR = 0.01</text>
<line x1="396.90" y1="269.00" x2="400.50" y2="269.00" stroke="#222" stroke-width="0.8" />
<text x="394.10" y="270.69" font-size="4.7" fill="#333" text-anchor="end" textLength="5.6" lengthAdjust="spacingAndGlyphs" >0.0</text>
<line x1="396.90" y1="274.40" x2="400.50" y2="274.40" stroke="#222" stroke-width="0.8" />
<text x="394.10" y="276.09" font-size="4.7" fill="#333" text-anchor="end" textLength="7.4" lengthAdjust="spacingAndGlyphs" >−0.1</text>
<line x1="396.90" y1="279.80" x2="400.50" y2="279.80" stroke="#222" stroke-width="0.8" />
<text x="394.10" y="281.49" font-size="4.7" fill="#333" text-anchor="end" textLength="7.4" lengthAdjust="spacingAndGlyphs" >−0.2</text>
<line x1="396.90" y1="285.20" x2="400.50" y2="285.20" stroke="#222" stroke-width="0.8" />
<text x="394.10" y="286.89" font-size="4.7" fill="#333" text-anchor="end" textLength="7.4" lengthAdjust="spacingAndGlyphs" >−0.3</text>
<line x1="396.90" y1="290.60" x2="400.50" y2="290.60" stroke="#222" stroke-width="0.8" />
<text x="394.10" y="292.29" font-size="4.7" fill="#333" text-anchor="end" textLength="7.4" lengthAdjust="spacingAndGlyphs" >−0.4</text>
<line x1="396.90" y1="296.00" x2="400.50" y2="296.00" stroke="#222" stroke-width="0.8" />
<text x="394.10" y="297.69" font-size="4.7" fill="#333" text-anchor="end" textLength="7.4" lengthAdjust="spacingAndGlyphs" >−0.5</text>
<line x1="396.90" y1="301.40" x2="400.50" y2="301.40" stroke="#222" stroke-width="0.8" />
<text x="394.10" y="303.09" font-size="4.7" fill="#333" text-anchor="end" textLength="7.4" lengthAdjust="spacingAndGlyphs" >−0.6</text>
<line x1="396.90" y1="306.80" x2="400.50" y2="306.80" stroke="#222" stroke-width="0.8" />
<text x="394.10" y="308.49" font-size="4.7" fill="#333" text-anchor="end" textLength="7.4" lengthAdjust="spacingAndGlyphs" >−0.7</text>
<line x1="396.90" y1="312.20" x2="400.50" y2="312.20" stroke="#222" stroke-width="0.8" />
<text x="394.10" y="313.89" font-size="4.7" fill="#333" text-anchor="end" textLength="7.4" lengthAdjust="spacingAndGlyphs" >−0.8</text>
<g filter="url(#bb)">
<rect x="403.38" y="312.50" width="0.90" height="15.30" fill="#000" fill-opacity="0.86"/>
<rect x="406.40" y="312.50" width="0.60" height="15.30" fill="#000" fill-opacity="1.00"/>
<rect x="408.69" y="312.50" width="0.60" height="15.30" fill="#000" fill-opacity="0.77"/>
<rect x="410.44" y="312.50" width="0.50" height="15.30" fill="#000" fill-opacity="0.43"/>
<rect x="414.35" y="312.50" width="0.90" height="15.30" fill="#000" fill-opacity="0.47"/>
<rect x="416.33" y="312.50" width="0.60" height="15.30" fill="#000" fill-opacity="1.00"/>
<rect x="418.40" y="312.50" width="0.90" height="15.30" fill="#000" fill-opacity="1.00"/>
<rect x="420.80" y="312.50" width="0.90" height="15.30" fill="#000" fill-opacity="0.85"/>
<rect x="421.48" y="312.50" width="0.70" height="15.30" fill="#000" fill-opacity="0.80"/>
<rect x="425.30" y="312.50" width="0.70" height="15.30" fill="#000" fill-opacity="0.44"/>
<rect x="431.32" y="312.50" width="0.50" height="15.30" fill="#000" fill-opacity="0.51"/>
<rect x="433.43" y="312.50" width="0.90" height="15.30" fill="#000" fill-opacity="0.53"/>
<rect x="434.85" y="312.50" width="0.90" height="15.30" fill="#000" fill-opacity="0.76"/>
<rect x="435.67" y="312.50" width="0.50" height="15.30" fill="#000" fill-opacity="0.75"/>
<rect x="438.57" y="312.50" width="0.50" height="15.30" fill="#000" fill-opacity="0.97"/>
<rect x="439.26" y="312.50" width="0.50" height="15.30" fill="#000" fill-opacity="0.51"/>
<rect x="441.51" y="312.50" width="0.90" height="15.30" fill="#000" fill-opacity="0.56"/>
<rect x="444.09" y="312.50" width="0.90" height="15.30" fill="#000" fill-opacity="0.62"/>
<rect x="445.92" y="312.50" width="0.90" height="15.30" fill="#000" fill-opacity="0.64"/>
<rect x="449.92" y="312.50" width="0.70" height="15.30" fill="#000" fill-opacity="0.58"/>
<rect x="451.08" y="312.50" width="0.90" height="15.30" fill="#000" fill-opacity="0.56"/>
<rect x="452.93" y="312.50" width="0.60" height="15.30" fill="#000" fill-opacity="0.88"/>
<rect x="455.31" y="312.50" width="0.50" height="15.30" fill="#000" fill-opacity="0.66"/>
<rect x="456.92" y="312.50" width="0.70" height="15.30" fill="#000" fill-opacity="1.00"/>
<rect x="459.13" y="312.50" width="0.70" height="15.30" fill="#000" fill-opacity="0.70"/>
<rect x="460.72" y="312.50" width="0.60" height="15.30" fill="#000" fill-opacity="1.00"/>
<rect x="463.01" y="312.50" width="0.50" height="15.30" fill="#000" fill-opacity="0.94"/>
<rect x="465.91" y="312.50" width="0.60" height="15.30" fill="#000" fill-opacity="0.79"/>
<rect x="467.98" y="312.50" width="0.50" height="15.30" fill="#000" fill-opacity="1.00"/>
<rect x="469.47" y="312.50" width="0.90" height="15.30" fill="#000" fill-opacity="0.61"/>
<rect x="472.66" y="312.50" width="0.60" height="15.30" fill="#000" fill-opacity="0.80"/>
<rect x="472.90" y="312.50" width="0.90" height="15.30" fill="#000" fill-opacity="1.00"/>
<rect x="475.41" y="312.50" width="0.70" height="15.30" fill="#000" fill-opacity="0.73"/>
<rect x="476.79" y="312.50" width="0.70" height="15.30" fill="#000" fill-opacity="0.72"/>
<rect x="478.55" y="312.50" width="0.90" height="15.30" fill="#000" fill-opacity="0.74"/>
<rect x="480.49" y="312.50" width="0.60" height="15.30" fill="#000" fill-opacity="1.00"/>
<rect x="482.99" y="312.50" width="0.90" height="15.30" fill="#000" fill-opacity="0.73"/>
<rect x="483.69" y="312.50" width="0.90" height="15.30" fill="#000" fill-opacity="0.72"/>
<rect x="485.60" y="312.50" width="0.70" height="15.30" fill="#000" fill-opacity="1.00"/>
<rect x="488.57" y="312.50" width="0.90" height="15.30" fill="#000" fill-opacity="1.00"/>
<rect x="490.38" y="312.50" width="0.90" height="15.30" fill="#000" fill-opacity="0.89"/>
<rect x="491.51" y="312.50" width="0.70" height="15.30" fill="#000" fill-opacity="0.79"/>
<rect x="493.61" y="312.50" width="0.90" height="15.30" fill="#000" fill-opacity="1.00"/>
<rect x="495.81" y="312.50" width="0.50" height="15.30" fill="#000" fill-opacity="0.87"/>
<rect x="496.47" y="312.50" width="0.60" height="15.30" fill="#000" fill-opacity="1.00"/>
<rect x="498.71" y="312.50" width="0.70" height="15.30" fill="#000" fill-opacity="1.00"/>
<rect x="500.78" y="312.50" width="0.60" height="15.30" fill="#000" fill-opacity="0.78"/>
<rect x="501.39" y="312.50" width="0.50" height="15.30" fill="#000" fill-opacity="0.82"/>
</g>
<defs><linearGradient id="g2" x1="0" x2="1" y1="0" y2="0"><stop offset="0" stop-color="#e4474a"/><stop offset="0.26" stop-color="#e85a5e"/><stop offset="0.28" stop-color="#ec9ec8"/><stop offset="0.45" stop-color="#eab8e0"/><stop offset="0.55" stop-color="#c8c4ec"/><stop offset="0.8" stop-color="#9a98dc"/><stop offset="0.86" stop-color="#5a56b4"/><stop offset="1" stop-color="#2a2288"/></linearGradient></defs>
<rect x="400.50" y="327.80" width="102.00" height="3.80" fill="url(#g2)"/>
<text x="402.30" y="336.70" font-size="5.0" fill="#e0504a" text-anchor="start" textLength="58" lengthAdjust="spacingAndGlyphs" >‘na_pos’ (positively correlated)</text>
<line x1="401.50" y1="342.40" x2="502.50" y2="342.40" stroke="#b8b8b8" stroke-width="0.5" />
<path d="M401.00 342.40 L401.00 341.90 L420.50 342.30 L451.50 342.40 L480.50 342.80 L492.50 343.30 L498.50 344.20 L501.00 346.40 L502.20 350.40 L502.50 342.40 Z" fill="#d4d4d4" stroke="#999" stroke-width="0.4"/>
<text x="458.08" y="348.22" font-size="5.6" fill="#222" stroke="#222" stroke-width="0.1" text-anchor="middle" textLength="35.6" lengthAdjust="spacingAndGlyphs" >Zero cross at 6727</text>
<text x="502.00" y="359.90" font-size="5.0" fill="#4a4aa8" text-anchor="end" textLength="60.4" lengthAdjust="spacingAndGlyphs" >‘na_neg’ (negatively correlated)</text>
<line x1="397.10" y1="336.10" x2="400.50" y2="336.10" stroke="#222" stroke-width="0.8" />
<text x="394.50" y="337.79" font-size="4.7" fill="#333" text-anchor="end" textLength="5.0" lengthAdjust="spacingAndGlyphs" >10</text>
<line x1="397.10" y1="342.40" x2="400.50" y2="342.40" stroke="#222" stroke-width="0.8" />
<text x="394.50" y="344.09" font-size="4.7" fill="#333" text-anchor="end" textLength="2.6" lengthAdjust="spacingAndGlyphs" >0</text>
<line x1="397.10" y1="348.70" x2="400.50" y2="348.70" stroke="#222" stroke-width="0.8" />
<text x="394.50" y="350.39" font-size="4.7" fill="#333" text-anchor="end" textLength="6.999999999999999" lengthAdjust="spacingAndGlyphs" >−10</text>
<line x1="397.10" y1="355.00" x2="400.50" y2="355.00" stroke="#222" stroke-width="0.8" />
<text x="394.50" y="356.69" font-size="4.7" fill="#333" text-anchor="end" textLength="6.999999999999999" lengthAdjust="spacingAndGlyphs" >−20</text>
<line x1="397.10" y1="361.30" x2="400.50" y2="361.30" stroke="#222" stroke-width="0.8" />
<text x="394.50" y="362.99" font-size="4.7" fill="#333" text-anchor="end" textLength="6.999999999999999" lengthAdjust="spacingAndGlyphs" >−30</text>
<path d="M400.50 266.50H507.50V361.50H400.50Z" fill="none" stroke="#222" stroke-width="1"/>
<line x1="400.50" y1="312.50" x2="507.50" y2="312.50" stroke="#ddd" stroke-width="0.4" />
<line x1="400.50" y1="361.50" x2="400.50" y2="364.30" stroke="#222" stroke-width="0.8" />
<text x="400.50" y="371.82" font-size="4.5" fill="#333" text-anchor="middle" textLength="2.4" lengthAdjust="spacingAndGlyphs" >0</text>
<line x1="421.90" y1="361.50" x2="421.90" y2="364.30" stroke="#222" stroke-width="0.8" />
<text x="421.90" y="371.82" font-size="4.5" fill="#333" text-anchor="middle" textLength="9.3" lengthAdjust="spacingAndGlyphs" >2,500</text>
<line x1="443.30" y1="361.50" x2="443.30" y2="364.30" stroke="#222" stroke-width="0.8" />
<text x="443.30" y="371.82" font-size="4.5" fill="#333" text-anchor="middle" textLength="9.3" lengthAdjust="spacingAndGlyphs" >5,000</text>
<line x1="464.70" y1="361.50" x2="464.70" y2="364.30" stroke="#222" stroke-width="0.8" />
<text x="464.70" y="371.82" font-size="4.5" fill="#333" text-anchor="middle" textLength="9.3" lengthAdjust="spacingAndGlyphs" >7,500</text>
<line x1="486.10" y1="361.50" x2="486.10" y2="364.30" stroke="#222" stroke-width="0.8" />
<text x="486.10" y="371.82" font-size="4.5" fill="#333" text-anchor="middle" textLength="11.5" lengthAdjust="spacingAndGlyphs" >10,000</text>
<line x1="507.50" y1="361.50" x2="507.50" y2="364.30" stroke="#222" stroke-width="0.8" />
<text x="507.50" y="371.82" font-size="4.5" fill="#333" text-anchor="middle" textLength="11.5" lengthAdjust="spacingAndGlyphs" >12,500</text>
<text x="455.20" y="381.39" font-size="7.2" fill="#333" stroke="#333" stroke-width="0.16" text-anchor="middle" textLength="55.3" lengthAdjust="spacingAndGlyphs" >Rank in ordered dataset</text>
<text transform="translate(381.30,289.50) rotate(-90)" font-size="7.2" fill="#333" stroke="#333" stroke-width="0.12" text-anchor="middle" textLength="47" lengthAdjust="spacingAndGlyphs">Enrichment score (ES)</text>
<text transform="translate(374.50,348.55) rotate(-90)" font-size="7.4" fill="#333" stroke="#333" stroke-width="0.12" text-anchor="middle" textLength="38" lengthAdjust="spacingAndGlyphs">Ranked list metric</text>
<text transform="translate(381.30,348.55) rotate(-90)" font-size="7.4" fill="#333" stroke="#333" stroke-width="0.12" text-anchor="middle" textLength="28" lengthAdjust="spacingAndGlyphs">(PreRanked)</text>
<text x="297.50" y="404.70" font-size="7.5" fill="#333" stroke="#333" stroke-width="0.16" text-anchor="middle" textLength="85" lengthAdjust="spacingAndGlyphs" >Enrichment plot: HALLMARK_</text>
<text x="298.00" y="412.10" font-size="7.5" fill="#333" stroke="#333" stroke-width="0.16" text-anchor="middle" textLength="60" lengthAdjust="spacingAndGlyphs" >HEME_METABOLISM</text>
<line x1="244.50" y1="422.40" x2="351.50" y2="422.40" stroke="#c8d8c0" stroke-width="0.6" />
<path d="M244.50 421.50 C244.98 421.16 246.33 419.95 247.35 419.41 C248.37 418.88 249.37 418.28 250.61 418.28 C251.85 418.28 253.03 419.05 254.78 419.41 C256.53 419.78 258.97 419.79 261.09 420.49 C263.21 421.19 263.62 421.47 267.51 423.59 C271.39 425.71 278.06 429.67 284.41 433.21 C290.75 436.74 298.54 441.09 305.58 444.79 C312.62 448.49 321.38 453.05 326.65 455.41 C331.93 457.78 334.78 458.65 337.24 459.00 C339.70 459.34 340.26 459.33 341.41 457.50 C342.57 455.67 343.45 452.06 344.16 448.01 C344.87 443.96 345.33 437.62 345.69 433.21 C346.05 428.79 346.20 423.45 346.30 421.50" fill="none" stroke="#5eae45" stroke-width="1.15"/>
<text x="247.10" y="447.00" font-size="5.0" fill="#222" text-anchor="start" textLength="21" lengthAdjust="spacingAndGlyphs" >NES = −1.3</text>
<text x="247.10" y="452.00" font-size="5.0" fill="#222" text-anchor="start" textLength="28" lengthAdjust="spacingAndGlyphs" ><tspan font-style="italic">P</tspan> value = .001</text>
<text x="247.10" y="457.00" font-size="5.0" fill="#222" text-anchor="start" textLength="20" lengthAdjust="spacingAndGlyphs" >FDR = 0.05</text>
<line x1="240.90" y1="416.43" x2="244.50" y2="416.43" stroke="#222" stroke-width="0.8" />
<text x="238.10" y="418.12" font-size="4.7" fill="#333" text-anchor="end" textLength="5.6" lengthAdjust="spacingAndGlyphs" >0.1</text>
<line x1="240.90" y1="422.40" x2="244.50" y2="422.40" stroke="#222" stroke-width="0.8" />
<text x="238.10" y="424.09" font-size="4.7" fill="#333" text-anchor="end" textLength="5.6" lengthAdjust="spacingAndGlyphs" >0.0</text>
<line x1="240.90" y1="428.37" x2="244.50" y2="428.37" stroke="#222" stroke-width="0.8" />
<text x="238.10" y="430.06" font-size="4.7" fill="#333" text-anchor="end" textLength="7.4" lengthAdjust="spacingAndGlyphs" >−0.1</text>
<line x1="240.90" y1="434.34" x2="244.50" y2="434.34" stroke="#222" stroke-width="0.8" />
<text x="238.10" y="436.03" font-size="4.7" fill="#333" text-anchor="end" textLength="7.4" lengthAdjust="spacingAndGlyphs" >−0.2</text>
<line x1="240.90" y1="440.31" x2="244.50" y2="440.31" stroke="#222" stroke-width="0.8" />
<text x="238.10" y="442.00" font-size="4.7" fill="#333" text-anchor="end" textLength="7.4" lengthAdjust="spacingAndGlyphs" >−0.3</text>
<line x1="240.90" y1="446.28" x2="244.50" y2="446.28" stroke="#222" stroke-width="0.8" />
<text x="238.10" y="447.97" font-size="4.7" fill="#333" text-anchor="end" textLength="7.4" lengthAdjust="spacingAndGlyphs" >−0.4</text>
<line x1="240.90" y1="452.25" x2="244.50" y2="452.25" stroke="#222" stroke-width="0.8" />
<text x="238.10" y="453.94" font-size="4.7" fill="#333" text-anchor="end" textLength="7.4" lengthAdjust="spacingAndGlyphs" >−0.5</text>
<line x1="240.90" y1="458.22" x2="244.50" y2="458.22" stroke="#222" stroke-width="0.8" />
<text x="238.10" y="459.91" font-size="4.7" fill="#333" text-anchor="end" textLength="7.4" lengthAdjust="spacingAndGlyphs" >−0.6</text>
<g filter="url(#bb)">
<rect x="245.02" y="462.60" width="0.50" height="14.90" fill="#000" fill-opacity="0.99"/>
<rect x="246.57" y="462.60" width="0.50" height="14.90" fill="#000" fill-opacity="0.64"/>
<rect x="247.90" y="462.60" width="0.60" height="14.90" fill="#000" fill-opacity="0.96"/>
<rect x="249.32" y="462.60" width="0.50" height="14.90" fill="#000" fill-opacity="0.93"/>
<rect x="250.69" y="462.60" width="0.90" height="14.90" fill="#000" fill-opacity="0.85"/>
<rect x="252.16" y="462.60" width="0.50" height="14.90" fill="#000" fill-opacity="0.63"/>
<rect x="254.31" y="462.60" width="0.90" height="14.90" fill="#000" fill-opacity="0.75"/>
<rect x="254.91" y="462.60" width="0.90" height="14.90" fill="#000" fill-opacity="0.76"/>
<rect x="257.34" y="462.60" width="0.60" height="14.90" fill="#000" fill-opacity="0.97"/>
<rect x="257.98" y="462.60" width="0.50" height="14.90" fill="#000" fill-opacity="1.00"/>
<rect x="259.97" y="462.60" width="0.70" height="14.90" fill="#000" fill-opacity="0.64"/>
<rect x="260.41" y="462.60" width="0.90" height="14.90" fill="#000" fill-opacity="0.58"/>
<rect x="262.63" y="462.60" width="0.90" height="14.90" fill="#000" fill-opacity="0.92"/>
<rect x="264.53" y="462.60" width="0.90" height="14.90" fill="#000" fill-opacity="0.62"/>
<rect x="270.42" y="462.60" width="0.60" height="14.90" fill="#000" fill-opacity="0.69"/>
<rect x="272.74" y="462.60" width="0.70" height="14.90" fill="#000" fill-opacity="0.61"/>
<rect x="275.19" y="462.60" width="0.70" height="14.90" fill="#000" fill-opacity="0.96"/>
<rect x="278.62" y="462.60" width="0.50" height="14.90" fill="#000" fill-opacity="0.86"/>
<rect x="279.33" y="462.60" width="0.60" height="14.90" fill="#000" fill-opacity="0.73"/>
<rect x="282.86" y="462.60" width="0.70" height="14.90" fill="#000" fill-opacity="0.47"/>
<rect x="283.24" y="462.60" width="0.70" height="14.90" fill="#000" fill-opacity="1.00"/>
<rect x="284.37" y="462.60" width="0.90" height="14.90" fill="#000" fill-opacity="0.96"/>
<rect x="285.88" y="462.60" width="0.60" height="14.90" fill="#000" fill-opacity="0.89"/>
<rect x="287.00" y="462.60" width="0.70" height="14.90" fill="#000" fill-opacity="1.00"/>
<rect x="290.76" y="462.60" width="0.50" height="14.90" fill="#000" fill-opacity="0.53"/>
<rect x="294.56" y="462.60" width="0.50" height="14.90" fill="#000" fill-opacity="0.82"/>
<rect x="295.40" y="462.60" width="0.60" height="14.90" fill="#000" fill-opacity="0.82"/>
<rect x="298.71" y="462.60" width="0.90" height="14.90" fill="#000" fill-opacity="0.45"/>
<rect x="300.22" y="462.60" width="0.70" height="14.90" fill="#000" fill-opacity="0.90"/>
<rect x="302.96" y="462.60" width="0.90" height="14.90" fill="#000" fill-opacity="0.78"/>
<rect x="303.08" y="462.60" width="0.50" height="14.90" fill="#000" fill-opacity="0.69"/>
<rect x="306.00" y="462.60" width="0.90" height="14.90" fill="#000" fill-opacity="1.00"/>
<rect x="307.21" y="462.60" width="0.70" height="14.90" fill="#000" fill-opacity="1.00"/>
<rect x="308.48" y="462.60" width="0.90" height="14.90" fill="#000" fill-opacity="0.99"/>
<rect x="308.76" y="462.60" width="0.90" height="14.90" fill="#000" fill-opacity="1.00"/>
<rect x="310.89" y="462.60" width="0.50" height="14.90" fill="#000" fill-opacity="0.48"/>
<rect x="313.13" y="462.60" width="0.50" height="14.90" fill="#000" fill-opacity="0.81"/>
<rect x="315.77" y="462.60" width="0.60" height="14.90" fill="#000" fill-opacity="0.82"/>
<rect x="321.20" y="462.60" width="0.60" height="14.90" fill="#000" fill-opacity="0.58"/>
<rect x="323.01" y="462.60" width="0.90" height="14.90" fill="#000" fill-opacity="0.55"/>
<rect x="324.15" y="462.60" width="0.90" height="14.90" fill="#000" fill-opacity="0.59"/>
<rect x="327.07" y="462.60" width="0.70" height="14.90" fill="#000" fill-opacity="0.49"/>
<rect x="327.62" y="462.60" width="0.70" height="14.90" fill="#000" fill-opacity="0.84"/>
<rect x="330.90" y="462.60" width="0.90" height="14.90" fill="#000" fill-opacity="0.74"/>
<rect x="331.21" y="462.60" width="0.50" height="14.90" fill="#000" fill-opacity="1.00"/>
<rect x="332.51" y="462.60" width="0.60" height="14.90" fill="#000" fill-opacity="0.91"/>
<rect x="333.88" y="462.60" width="0.90" height="14.90" fill="#000" fill-opacity="1.00"/>
<rect x="335.13" y="462.60" width="0.60" height="14.90" fill="#000" fill-opacity="1.00"/>
<rect x="336.34" y="462.60" width="0.50" height="14.90" fill="#000" fill-opacity="0.72"/>
<rect x="338.02" y="462.60" width="0.70" height="14.90" fill="#000" fill-opacity="0.84"/>
<rect x="338.75" y="462.60" width="0.70" height="14.90" fill="#000" fill-opacity="0.82"/>
<rect x="339.79" y="462.60" width="0.90" height="14.90" fill="#000" fill-opacity="0.92"/>
<rect x="341.25" y="462.60" width="0.60" height="14.90" fill="#000" fill-opacity="0.88"/>
<rect x="342.62" y="462.60" width="0.70" height="14.90" fill="#000" fill-opacity="0.76"/>
<rect x="343.77" y="462.60" width="0.60" height="14.90" fill="#000" fill-opacity="1.00"/>
<rect x="345.62" y="462.60" width="0.90" height="14.90" fill="#000" fill-opacity="0.95"/>
</g>
<defs><linearGradient id="g3" x1="0" x2="1" y1="0" y2="0"><stop offset="0" stop-color="#e4474a"/><stop offset="0.26" stop-color="#e85a5e"/><stop offset="0.28" stop-color="#ec9ec8"/><stop offset="0.45" stop-color="#eab8e0"/><stop offset="0.55" stop-color="#c8c4ec"/><stop offset="0.8" stop-color="#9a98dc"/><stop offset="0.86" stop-color="#5a56b4"/><stop offset="1" stop-color="#2a2288"/></linearGradient></defs>
<rect x="244.50" y="477.50" width="101.80" height="3.30" fill="url(#g3)"/>
<text x="246.30" y="485.90" font-size="5.0" fill="#e0504a" text-anchor="start" textLength="58" lengthAdjust="spacingAndGlyphs" >‘na_pos’ (positively correlated)</text>
<line x1="245.50" y1="493.60" x2="346.30" y2="493.60" stroke="#b8b8b8" stroke-width="0.5" />
<path d="M245.00 493.60 L245.00 493.10 L264.50 493.50 L295.40 493.60 L324.30 494.00 L336.30 494.50 L342.30 495.40 L344.80 497.60 L346.00 499.60 L346.30 493.60 Z" fill="#d4d4d4" stroke="#999" stroke-width="0.4"/>
<text x="297.03" y="499.42" font-size="5.6" fill="#222" stroke="#222" stroke-width="0.1" text-anchor="middle" textLength="35.6" lengthAdjust="spacingAndGlyphs" >Zero cross at 6137</text>
<text x="345.80" y="509.90" font-size="5.0" fill="#4a4aa8" text-anchor="end" textLength="60.4" lengthAdjust="spacingAndGlyphs" >‘na_neg’ (negatively correlated)</text>
<line x1="241.10" y1="482.50" x2="244.50" y2="482.50" stroke="#222" stroke-width="0.8" />
<text transform="translate(237.30,482.50) rotate(-90)" font-size="3.6" fill="#333" text-anchor="middle" dominant-baseline="central">15</text>
<line x1="241.10" y1="486.50" x2="244.50" y2="486.50" stroke="#222" stroke-width="0.8" />
<text transform="translate(237.30,486.50) rotate(-90)" font-size="3.6" fill="#333" text-anchor="middle" dominant-baseline="central">10</text>
<line x1="241.10" y1="490.50" x2="244.50" y2="490.50" stroke="#222" stroke-width="0.8" />
<text transform="translate(237.30,490.50) rotate(-90)" font-size="3.6" fill="#333" text-anchor="middle" dominant-baseline="central">5</text>
<line x1="241.10" y1="494.50" x2="244.50" y2="494.50" stroke="#222" stroke-width="0.8" />
<text transform="translate(237.30,494.50) rotate(-90)" font-size="3.6" fill="#333" text-anchor="middle" dominant-baseline="central">0</text>
<line x1="241.10" y1="498.50" x2="244.50" y2="498.50" stroke="#222" stroke-width="0.8" />
<text transform="translate(237.30,498.50) rotate(-90)" font-size="3.6" fill="#333" text-anchor="middle" dominant-baseline="central">−5</text>
<line x1="241.10" y1="502.50" x2="244.50" y2="502.50" stroke="#222" stroke-width="0.8" />
<text transform="translate(237.30,502.50) rotate(-90)" font-size="3.6" fill="#333" text-anchor="middle" dominant-baseline="central">−10</text>
<line x1="241.10" y1="506.50" x2="244.50" y2="506.50" stroke="#222" stroke-width="0.8" />
<text transform="translate(237.30,506.50) rotate(-90)" font-size="3.6" fill="#333" text-anchor="middle" dominant-baseline="central">−15</text>
<line x1="241.10" y1="510.50" x2="244.50" y2="510.50" stroke="#222" stroke-width="0.8" />
<text transform="translate(237.30,510.50) rotate(-90)" font-size="3.6" fill="#333" text-anchor="middle" dominant-baseline="central">−20</text>
<path d="M244.50 416.50H351.50V511.50H244.50Z" fill="none" stroke="#222" stroke-width="1"/>
<line x1="244.50" y1="462.60" x2="351.50" y2="462.60" stroke="#ddd" stroke-width="0.4" />
<line x1="244.50" y1="511.50" x2="244.50" y2="514.30" stroke="#222" stroke-width="0.8" />
<text x="244.50" y="520.82" font-size="4.5" fill="#333" text-anchor="middle" textLength="2.4" lengthAdjust="spacingAndGlyphs" >0</text>
<line x1="265.90" y1="511.50" x2="265.90" y2="514.30" stroke="#222" stroke-width="0.8" />
<text x="265.90" y="520.82" font-size="4.5" fill="#333" text-anchor="middle" textLength="9.3" lengthAdjust="spacingAndGlyphs" >2,500</text>
<line x1="287.30" y1="511.50" x2="287.30" y2="514.30" stroke="#222" stroke-width="0.8" />
<text x="287.30" y="520.82" font-size="4.5" fill="#333" text-anchor="middle" textLength="9.3" lengthAdjust="spacingAndGlyphs" >5,000</text>
<line x1="308.70" y1="511.50" x2="308.70" y2="514.30" stroke="#222" stroke-width="0.8" />
<text x="308.70" y="520.82" font-size="4.5" fill="#333" text-anchor="middle" textLength="9.3" lengthAdjust="spacingAndGlyphs" >7,500</text>
<line x1="330.10" y1="511.50" x2="330.10" y2="514.30" stroke="#222" stroke-width="0.8" />
<text x="330.10" y="520.82" font-size="4.5" fill="#333" text-anchor="middle" textLength="11.5" lengthAdjust="spacingAndGlyphs" >10,000</text>
<line x1="351.50" y1="511.50" x2="351.50" y2="514.30" stroke="#222" stroke-width="0.8" />
<text x="351.50" y="520.82" font-size="4.5" fill="#333" text-anchor="middle" textLength="11.5" lengthAdjust="spacingAndGlyphs" >12,500</text>
<text x="299.20" y="530.49" font-size="7.2" fill="#333" stroke="#333" stroke-width="0.16" text-anchor="middle" textLength="55.3" lengthAdjust="spacingAndGlyphs" >Rank in ordered dataset</text>
<text transform="translate(225.30,439.55) rotate(-90)" font-size="7.2" fill="#333" stroke="#333" stroke-width="0.12" text-anchor="middle" textLength="47" lengthAdjust="spacingAndGlyphs">Enrichment score (ES)</text>
<text transform="translate(218.50,498.15) rotate(-90)" font-size="7.4" fill="#333" stroke="#333" stroke-width="0.12" text-anchor="middle" textLength="38" lengthAdjust="spacingAndGlyphs">Ranked list metric</text>
<text transform="translate(225.30,498.15) rotate(-90)" font-size="7.4" fill="#333" stroke="#333" stroke-width="0.12" text-anchor="middle" textLength="28" lengthAdjust="spacingAndGlyphs">(PreRanked)</text>
<text x="453.50" y="404.70" font-size="7.5" fill="#333" stroke="#333" stroke-width="0.16" text-anchor="middle" textLength="85" lengthAdjust="spacingAndGlyphs" >Enrichment plot: HALLMARK_</text>
<text x="454.00" y="412.10" font-size="7.5" fill="#333" stroke="#333" stroke-width="0.16" text-anchor="middle" textLength="38" lengthAdjust="spacingAndGlyphs" >E2F_TARGETS</text>
<line x1="400.50" y1="420.10" x2="507.50" y2="420.10" stroke="#c8d8c0" stroke-width="0.6" />
<path d="M400.50 420.47 C402.64 421.24 409.17 423.30 413.35 425.08 C417.53 426.87 421.75 428.99 425.59 431.17 C429.43 433.35 432.55 435.85 436.40 438.18 C440.26 440.51 444.39 442.58 448.75 445.13 C453.10 447.68 458.42 451.20 462.52 453.49 C466.61 455.79 471.08 457.95 473.33 458.91 C475.57 459.86 474.86 459.33 475.98 459.21 C477.10 459.10 478.67 458.78 480.06 458.23 C481.45 457.68 483.17 457.42 484.34 455.89 C485.52 454.37 485.98 451.78 487.10 449.07 C488.22 446.35 489.95 442.98 491.08 439.60 C492.20 436.21 492.93 432.13 493.83 428.77 C494.73 425.41 495.58 421.10 496.48 419.42 C497.38 417.74 498.28 418.57 499.24 418.69 C500.19 418.80 501.70 419.86 502.19 420.10" fill="none" stroke="#5eae45" stroke-width="1.15"/>
<text x="403.10" y="446.40" font-size="5.0" fill="#222" text-anchor="start" textLength="21" lengthAdjust="spacingAndGlyphs" >NES = −1.5</text>
<text x="403.10" y="451.40" font-size="5.0" fill="#222" text-anchor="start" textLength="28" lengthAdjust="spacingAndGlyphs" ><tspan font-style="italic">P</tspan> value = .001</text>
<text x="403.10" y="456.40" font-size="5.0" fill="#222" text-anchor="start" textLength="20" lengthAdjust="spacingAndGlyphs" >FDR = 0.05</text>
<line x1="396.90" y1="420.10" x2="400.50" y2="420.10" stroke="#222" stroke-width="0.8" />
<text x="394.10" y="421.79" font-size="4.7" fill="#333" text-anchor="end" textLength="5.6" lengthAdjust="spacingAndGlyphs" >0.0</text>
<line x1="396.90" y1="426.25" x2="400.50" y2="426.25" stroke="#222" stroke-width="0.8" />
<text x="394.10" y="427.94" font-size="4.7" fill="#333" text-anchor="end" textLength="7.4" lengthAdjust="spacingAndGlyphs" >−0.1</text>
<line x1="396.90" y1="432.40" x2="400.50" y2="432.40" stroke="#222" stroke-width="0.8" />
<text x="394.10" y="434.09" font-size="4.7" fill="#333" text-anchor="end" textLength="7.4" lengthAdjust="spacingAndGlyphs" >−0.2</text>
<line x1="396.90" y1="438.55" x2="400.50" y2="438.55" stroke="#222" stroke-width="0.8" />
<text x="394.10" y="440.24" font-size="4.7" fill="#333" text-anchor="end" textLength="7.4" lengthAdjust="spacingAndGlyphs" >−0.3</text>
<line x1="396.90" y1="444.70" x2="400.50" y2="444.70" stroke="#222" stroke-width="0.8" />
<text x="394.10" y="446.39" font-size="4.7" fill="#333" text-anchor="end" textLength="7.4" lengthAdjust="spacingAndGlyphs" >−0.4</text>
<line x1="396.90" y1="450.85" x2="400.50" y2="450.85" stroke="#222" stroke-width="0.8" />
<text x="394.10" y="452.54" font-size="4.7" fill="#333" text-anchor="end" textLength="7.4" lengthAdjust="spacingAndGlyphs" >−0.5</text>
<line x1="396.90" y1="457.00" x2="400.50" y2="457.00" stroke="#222" stroke-width="0.8" />
<text x="394.10" y="458.69" font-size="4.7" fill="#333" text-anchor="end" textLength="7.4" lengthAdjust="spacingAndGlyphs" >−0.6</text>
<g filter="url(#bb)">
<rect x="403.42" y="462.60" width="0.60" height="14.90" fill="#000" fill-opacity="1.00"/>
<rect x="409.06" y="462.60" width="0.90" height="14.90" fill="#000" fill-opacity="0.88"/>
<rect x="411.99" y="462.60" width="0.70" height="14.90" fill="#000" fill-opacity="0.77"/>
<rect x="415.86" y="462.60" width="0.50" height="14.90" fill="#000" fill-opacity="1.00"/>
<rect x="419.31" y="462.60" width="0.50" height="14.90" fill="#000" fill-opacity="0.81"/>
<rect x="421.15" y="462.60" width="0.60" height="14.90" fill="#000" fill-opacity="1.00"/>
<rect x="425.47" y="462.60" width="0.70" height="14.90" fill="#000" fill-opacity="0.93"/>
<rect x="435.40" y="462.60" width="0.50" height="14.90" fill="#000" fill-opacity="0.49"/>
<rect x="437.57" y="462.60" width="0.90" height="14.90" fill="#000" fill-opacity="0.91"/>
<rect x="440.39" y="462.60" width="0.60" height="14.90" fill="#000" fill-opacity="0.46"/>
<rect x="441.56" y="462.60" width="0.90" height="14.90" fill="#000" fill-opacity="0.49"/>
<rect x="444.51" y="462.60" width="0.50" height="14.90" fill="#000" fill-opacity="0.48"/>
<rect x="445.57" y="462.60" width="0.60" height="14.90" fill="#000" fill-opacity="0.45"/>
<rect x="448.22" y="462.60" width="0.50" height="14.90" fill="#000" fill-opacity="0.76"/>
<rect x="450.16" y="462.60" width="0.50" height="14.90" fill="#000" fill-opacity="0.59"/>
<rect x="452.58" y="462.60" width="0.50" height="14.90" fill="#000" fill-opacity="0.53"/>
<rect x="457.03" y="462.60" width="0.90" height="14.90" fill="#000" fill-opacity="1.00"/>
<rect x="457.91" y="462.60" width="0.50" height="14.90" fill="#000" fill-opacity="0.64"/>
<rect x="459.82" y="462.60" width="0.90" height="14.90" fill="#000" fill-opacity="0.80"/>
<rect x="461.82" y="462.60" width="0.50" height="14.90" fill="#000" fill-opacity="1.00"/>
<rect x="463.24" y="462.60" width="0.70" height="14.90" fill="#000" fill-opacity="0.66"/>
<rect x="465.03" y="462.60" width="0.50" height="14.90" fill="#000" fill-opacity="0.96"/>
<rect x="466.39" y="462.60" width="0.50" height="14.90" fill="#000" fill-opacity="1.00"/>
<rect x="467.99" y="462.60" width="0.90" height="14.90" fill="#000" fill-opacity="0.93"/>
<rect x="469.61" y="462.60" width="0.90" height="14.90" fill="#000" fill-opacity="0.90"/>
<rect x="470.30" y="462.60" width="0.60" height="14.90" fill="#000" fill-opacity="0.62"/>
<rect x="473.32" y="462.60" width="0.90" height="14.90" fill="#000" fill-opacity="1.00"/>
<rect x="474.23" y="462.60" width="0.90" height="14.90" fill="#000" fill-opacity="1.00"/>
<rect x="475.33" y="462.60" width="0.60" height="14.90" fill="#000" fill-opacity="1.00"/>
<rect x="475.84" y="462.60" width="0.90" height="14.90" fill="#000" fill-opacity="1.00"/>
<rect x="476.79" y="462.60" width="0.90" height="14.90" fill="#000" fill-opacity="1.00"/>
<rect x="477.63" y="462.60" width="0.90" height="14.90" fill="#000" fill-opacity="1.00"/>
<rect x="478.44" y="462.60" width="0.60" height="14.90" fill="#000" fill-opacity="1.00"/>
<rect x="479.32" y="462.60" width="0.90" height="14.90" fill="#000" fill-opacity="1.00"/>
<rect x="480.06" y="462.60" width="0.60" height="14.90" fill="#000" fill-opacity="1.00"/>
<rect x="481.42" y="462.60" width="0.90" height="14.90" fill="#000" fill-opacity="1.00"/>
<rect x="481.95" y="462.60" width="0.50" height="14.90" fill="#000" fill-opacity="1.00"/>
<rect x="483.02" y="462.60" width="0.60" height="14.90" fill="#000" fill-opacity="1.00"/>
<rect x="483.94" y="462.60" width="0.70" height="14.90" fill="#000" fill-opacity="1.00"/>
<rect x="485.09" y="462.60" width="0.50" height="14.90" fill="#000" fill-opacity="1.00"/>
<rect x="485.87" y="462.60" width="0.60" height="14.90" fill="#000" fill-opacity="1.00"/>
<rect x="486.57" y="462.60" width="0.60" height="14.90" fill="#000" fill-opacity="1.00"/>
<rect x="487.85" y="462.60" width="0.50" height="14.90" fill="#000" fill-opacity="1.00"/>
<rect x="488.46" y="462.60" width="0.70" height="14.90" fill="#000" fill-opacity="1.00"/>
<rect x="489.10" y="462.60" width="0.70" height="14.90" fill="#000" fill-opacity="1.00"/>
<rect x="489.85" y="462.60" width="0.90" height="14.90" fill="#000" fill-opacity="1.00"/>
<rect x="491.23" y="462.60" width="0.70" height="14.90" fill="#000" fill-opacity="1.00"/>
<rect x="491.74" y="462.60" width="0.90" height="14.90" fill="#000" fill-opacity="1.00"/>
<rect x="492.86" y="462.60" width="0.60" height="14.90" fill="#000" fill-opacity="1.00"/>
<rect x="493.54" y="462.60" width="0.90" height="14.90" fill="#000" fill-opacity="1.00"/>
<rect x="494.55" y="462.60" width="0.90" height="14.90" fill="#000" fill-opacity="0.72"/>
<rect x="497.74" y="462.60" width="0.90" height="14.90" fill="#000" fill-opacity="1.00"/>
<rect x="502.48" y="462.60" width="0.50" height="14.90" fill="#000" fill-opacity="0.90"/>
</g>
<defs><linearGradient id="g4" x1="0" x2="1" y1="0" y2="0"><stop offset="0" stop-color="#e4474a"/><stop offset="0.26" stop-color="#e85a5e"/><stop offset="0.28" stop-color="#ec9ec8"/><stop offset="0.45" stop-color="#eab8e0"/><stop offset="0.55" stop-color="#c8c4ec"/><stop offset="0.8" stop-color="#9a98dc"/><stop offset="0.86" stop-color="#5a56b4"/><stop offset="1" stop-color="#2a2288"/></linearGradient></defs>
<rect x="400.50" y="477.50" width="102.00" height="3.30" fill="url(#g4)"/>
<text x="402.30" y="485.90" font-size="5.0" fill="#e0504a" text-anchor="start" textLength="58" lengthAdjust="spacingAndGlyphs" >‘na_pos’ (positively correlated)</text>
<line x1="401.50" y1="493.60" x2="502.50" y2="493.60" stroke="#b8b8b8" stroke-width="0.5" />
<path d="M401.00 493.60 L401.00 493.10 L420.50 493.50 L451.50 493.60 L480.50 494.00 L492.50 494.50 L498.50 495.40 L501.00 497.60 L502.20 499.60 L502.50 493.60 Z" fill="#d4d4d4" stroke="#999" stroke-width="0.4"/>
<text x="453.03" y="499.42" font-size="5.6" fill="#222" stroke="#222" stroke-width="0.1" text-anchor="middle" textLength="35.6" lengthAdjust="spacingAndGlyphs" >Zero cross at 6137</text>
<text x="502.00" y="509.90" font-size="5.0" fill="#4a4aa8" text-anchor="end" textLength="60.4" lengthAdjust="spacingAndGlyphs" >‘na_neg’ (negatively correlated)</text>
<line x1="397.10" y1="482.50" x2="400.50" y2="482.50" stroke="#222" stroke-width="0.8" />
<text transform="translate(393.30,482.50) rotate(-90)" font-size="3.6" fill="#333" text-anchor="middle" dominant-baseline="central">15</text>
<line x1="397.10" y1="486.50" x2="400.50" y2="486.50" stroke="#222" stroke-width="0.8" />
<text transform="translate(393.30,486.50) rotate(-90)" font-size="3.6" fill="#333" text-anchor="middle" dominant-baseline="central">10</text>
<line x1="397.10" y1="490.50" x2="400.50" y2="490.50" stroke="#222" stroke-width="0.8" />
<text transform="translate(393.30,490.50) rotate(-90)" font-size="3.6" fill="#333" text-anchor="middle" dominant-baseline="central">5</text>
<line x1="397.10" y1="494.50" x2="400.50" y2="494.50" stroke="#222" stroke-width="0.8" />
<text transform="translate(393.30,494.50) rotate(-90)" font-size="3.6" fill="#333" text-anchor="middle" dominant-baseline="central">0</text>
<line x1="397.10" y1="498.50" x2="400.50" y2="498.50" stroke="#222" stroke-width="0.8" />
<text transform="translate(393.30,498.50) rotate(-90)" font-size="3.6" fill="#333" text-anchor="middle" dominant-baseline="central">−5</text>
<line x1="397.10" y1="502.50" x2="400.50" y2="502.50" stroke="#222" stroke-width="0.8" />
<text transform="translate(393.30,502.50) rotate(-90)" font-size="3.6" fill="#333" text-anchor="middle" dominant-baseline="central">−10</text>
<line x1="397.10" y1="506.50" x2="400.50" y2="506.50" stroke="#222" stroke-width="0.8" />
<text transform="translate(393.30,506.50) rotate(-90)" font-size="3.6" fill="#333" text-anchor="middle" dominant-baseline="central">−15</text>
<line x1="397.10" y1="510.50" x2="400.50" y2="510.50" stroke="#222" stroke-width="0.8" />
<text transform="translate(393.30,510.50) rotate(-90)" font-size="3.6" fill="#333" text-anchor="middle" dominant-baseline="central">−20</text>
<path d="M400.50 416.50H507.50V511.50H400.50Z" fill="none" stroke="#222" stroke-width="1"/>
<line x1="400.50" y1="462.60" x2="507.50" y2="462.60" stroke="#ddd" stroke-width="0.4" />
<line x1="400.50" y1="511.50" x2="400.50" y2="514.30" stroke="#222" stroke-width="0.8" />
<text x="400.50" y="520.82" font-size="4.5" fill="#333" text-anchor="middle" textLength="2.4" lengthAdjust="spacingAndGlyphs" >0</text>
<line x1="421.90" y1="511.50" x2="421.90" y2="514.30" stroke="#222" stroke-width="0.8" />
<text x="421.90" y="520.82" font-size="4.5" fill="#333" text-anchor="middle" textLength="9.3" lengthAdjust="spacingAndGlyphs" >2,500</text>
<line x1="443.30" y1="511.50" x2="443.30" y2="514.30" stroke="#222" stroke-width="0.8" />
<text x="443.30" y="520.82" font-size="4.5" fill="#333" text-anchor="middle" textLength="9.3" lengthAdjust="spacingAndGlyphs" >5,000</text>
<line x1="464.70" y1="511.50" x2="464.70" y2="514.30" stroke="#222" stroke-width="0.8" />
<text x="464.70" y="520.82" font-size="4.5" fill="#333" text-anchor="middle" textLength="9.3" lengthAdjust="spacingAndGlyphs" >7,500</text>
<line x1="486.10" y1="511.50" x2="486.10" y2="514.30" stroke="#222" stroke-width="0.8" />
<text x="486.10" y="520.82" font-size="4.5" fill="#333" text-anchor="middle" textLength="11.5" lengthAdjust="spacingAndGlyphs" >10,000</text>
<line x1="507.50" y1="511.50" x2="507.50" y2="514.30" stroke="#222" stroke-width="0.8" />
<text x="507.50" y="520.82" font-size="4.5" fill="#333" text-anchor="middle" textLength="11.5" lengthAdjust="spacingAndGlyphs" >12,500</text>
<text x="455.20" y="530.49" font-size="7.2" fill="#333" stroke="#333" stroke-width="0.16" text-anchor="middle" textLength="55.3" lengthAdjust="spacingAndGlyphs" >Rank in ordered dataset</text>
<text transform="translate(381.30,439.55) rotate(-90)" font-size="7.2" fill="#333" stroke="#333" stroke-width="0.12" text-anchor="middle" textLength="47" lengthAdjust="spacingAndGlyphs">Enrichment score (ES)</text>
<text transform="translate(374.50,498.15) rotate(-90)" font-size="7.4" fill="#333" stroke="#333" stroke-width="0.12" text-anchor="middle" textLength="38" lengthAdjust="spacingAndGlyphs">Ranked list metric</text>
<text transform="translate(381.30,498.15) rotate(-90)" font-size="7.4" fill="#333" stroke="#333" stroke-width="0.12" text-anchor="middle" textLength="28" lengthAdjust="spacingAndGlyphs">(PreRanked)</text>
<text x="297.50" y="554.00" font-size="7.5" fill="#333" stroke="#333" stroke-width="0.16" text-anchor="middle" textLength="85" lengthAdjust="spacingAndGlyphs" >Enrichment plot: HALLMARK_</text>
<text x="298.00" y="561.40" font-size="7.5" fill="#333" stroke="#333" stroke-width="0.16" text-anchor="middle" textLength="80" lengthAdjust="spacingAndGlyphs" >IL6_JAK_STAT3_SIGNALING</text>
<path d="M244.50 569.40 C244.98 569.05 245.99 567.55 247.35 567.30 C248.71 567.05 250.71 567.37 252.64 567.90 C254.58 568.43 255.43 568.83 258.96 570.50 C262.48 572.17 267.81 575.08 273.82 577.90 C279.82 580.72 287.95 584.23 294.99 587.40 C302.03 590.57 310.08 594.15 316.07 596.90 C322.05 599.65 327.06 602.13 330.93 603.90 C334.80 605.67 337.34 606.80 339.28 607.50 C341.21 608.20 341.65 608.63 342.53 608.10 C343.42 607.57 344.04 606.70 344.57 604.30 C345.10 601.90 345.40 599.33 345.69 593.70 C345.98 588.07 346.20 574.37 346.30 570.50" fill="none" stroke="#5eae45" stroke-width="1.15"/>
<text x="247.10" y="596.40" font-size="5.0" fill="#222" text-anchor="start" textLength="21" lengthAdjust="spacingAndGlyphs" >NES = −1.8</text>
<text x="247.10" y="601.40" font-size="5.0" fill="#222" text-anchor="start" textLength="28" lengthAdjust="spacingAndGlyphs" ><tspan font-style="italic">P</tspan> value = .001</text>
<text x="247.10" y="606.40" font-size="5.0" fill="#222" text-anchor="start" textLength="23" lengthAdjust="spacingAndGlyphs" >FDR = 0.001</text>
<line x1="240.90" y1="569.80" x2="244.50" y2="569.80" stroke="#222" stroke-width="0.8" />
<text x="238.10" y="571.49" font-size="4.7" fill="#333" text-anchor="end" textLength="5.6" lengthAdjust="spacingAndGlyphs" >0.0</text>
<line x1="240.90" y1="574.80" x2="244.50" y2="574.80" stroke="#222" stroke-width="0.8" />
<text x="238.10" y="576.49" font-size="4.7" fill="#333" text-anchor="end" textLength="7.4" lengthAdjust="spacingAndGlyphs" >−0.1</text>
<line x1="240.90" y1="579.80" x2="244.50" y2="579.80" stroke="#222" stroke-width="0.8" />
<text x="238.10" y="581.49" font-size="4.7" fill="#333" text-anchor="end" textLength="7.4" lengthAdjust="spacingAndGlyphs" >−0.2</text>
<line x1="240.90" y1="584.80" x2="244.50" y2="584.80" stroke="#222" stroke-width="0.8" />
<text x="238.10" y="586.49" font-size="4.7" fill="#333" text-anchor="end" textLength="7.4" lengthAdjust="spacingAndGlyphs" >−0.3</text>
<line x1="240.90" y1="589.80" x2="244.50" y2="589.80" stroke="#222" stroke-width="0.8" />
<text x="238.10" y="591.49" font-size="4.7" fill="#333" text-anchor="end" textLength="7.4" lengthAdjust="spacingAndGlyphs" >−0.4</text>
<line x1="240.90" y1="594.80" x2="244.50" y2="594.80" stroke="#222" stroke-width="0.8" />
<text x="238.10" y="596.49" font-size="4.7" fill="#333" text-anchor="end" textLength="7.4" lengthAdjust="spacingAndGlyphs" >−0.5</text>
<line x1="240.90" y1="599.80" x2="244.50" y2="599.80" stroke="#222" stroke-width="0.8" />
<text x="238.10" y="601.49" font-size="4.7" fill="#333" text-anchor="end" textLength="7.4" lengthAdjust="spacingAndGlyphs" >−0.6</text>
<line x1="240.90" y1="604.80" x2="244.50" y2="604.80" stroke="#222" stroke-width="0.8" />
<text x="238.10" y="606.49" font-size="4.7" fill="#333" text-anchor="end" textLength="7.4" lengthAdjust="spacingAndGlyphs" >−0.7</text>
<line x1="240.90" y1="609.80" x2="244.50" y2="609.80" stroke="#222" stroke-width="0.8" />
<text x="238.10" y="611.49" font-size="4.7" fill="#333" text-anchor="end" textLength="7.4" lengthAdjust="spacingAndGlyphs" >−0.8</text>
<g filter="url(#bb)">
<rect x="245.45" y="611.70" width="0.60" height="14.50" fill="#000" fill-opacity="0.70"/>
<rect x="248.70" y="611.70" width="0.70" height="14.50" fill="#000" fill-opacity="1.00"/>
<rect x="249.45" y="611.70" width="0.90" height="14.50" fill="#000" fill-opacity="0.97"/>
<rect x="251.59" y="611.70" width="0.70" height="14.50" fill="#000" fill-opacity="0.89"/>
<rect x="253.10" y="611.70" width="0.70" height="14.50" fill="#000" fill-opacity="0.79"/>
<rect x="256.11" y="611.70" width="0.50" height="14.50" fill="#000" fill-opacity="0.58"/>
<rect x="256.62" y="611.70" width="0.90" height="14.50" fill="#000" fill-opacity="0.94"/>
<rect x="259.89" y="611.70" width="0.70" height="14.50" fill="#000" fill-opacity="0.76"/>
<rect x="260.73" y="611.70" width="0.60" height="14.50" fill="#000" fill-opacity="0.85"/>
<rect x="262.06" y="611.70" width="0.60" height="14.50" fill="#000" fill-opacity="0.68"/>
<rect x="265.81" y="611.70" width="0.50" height="14.50" fill="#000" fill-opacity="0.88"/>
<rect x="267.65" y="611.70" width="0.50" height="14.50" fill="#000" fill-opacity="0.52"/>
<rect x="269.97" y="611.70" width="0.90" height="14.50" fill="#000" fill-opacity="0.94"/>
<rect x="271.66" y="611.70" width="0.90" height="14.50" fill="#000" fill-opacity="1.00"/>
<rect x="274.80" y="611.70" width="0.70" height="14.50" fill="#000" fill-opacity="0.50"/>
<rect x="277.05" y="611.70" width="0.60" height="14.50" fill="#000" fill-opacity="0.83"/>
<rect x="279.69" y="611.70" width="0.90" height="14.50" fill="#000" fill-opacity="0.50"/>
<rect x="281.57" y="611.70" width="0.50" height="14.50" fill="#000" fill-opacity="1.00"/>
<rect x="284.16" y="611.70" width="0.50" height="14.50" fill="#000" fill-opacity="1.00"/>
<rect x="286.83" y="611.70" width="0.50" height="14.50" fill="#000" fill-opacity="0.79"/>
<rect x="298.63" y="611.70" width="0.90" height="14.50" fill="#000" fill-opacity="0.91"/>
<rect x="299.05" y="611.70" width="0.90" height="14.50" fill="#000" fill-opacity="0.78"/>
<rect x="302.76" y="611.70" width="0.90" height="14.50" fill="#000" fill-opacity="0.80"/>
<rect x="310.82" y="611.70" width="0.60" height="14.50" fill="#000" fill-opacity="1.00"/>
<rect x="312.12" y="611.70" width="0.90" height="14.50" fill="#000" fill-opacity="0.68"/>
<rect x="315.33" y="611.70" width="0.50" height="14.50" fill="#000" fill-opacity="0.74"/>
<rect x="316.03" y="611.70" width="0.90" height="14.50" fill="#000" fill-opacity="1.00"/>
<rect x="318.67" y="611.70" width="0.70" height="14.50" fill="#000" fill-opacity="0.70"/>
<rect x="321.28" y="611.70" width="0.90" height="14.50" fill="#000" fill-opacity="1.00"/>
<rect x="322.13" y="611.70" width="0.70" height="14.50" fill="#000" fill-opacity="0.82"/>
<rect x="325.91" y="611.70" width="0.50" height="14.50" fill="#000" fill-opacity="0.93"/>
<rect x="326.63" y="611.70" width="0.90" height="14.50" fill="#000" fill-opacity="0.72"/>
<rect x="332.23" y="611.70" width="0.70" height="14.50" fill="#000" fill-opacity="0.66"/>
<rect x="336.37" y="611.70" width="0.90" height="14.50" fill="#000" fill-opacity="0.73"/>
<rect x="338.96" y="611.70" width="0.50" height="14.50" fill="#000" fill-opacity="1.00"/>
<rect x="341.38" y="611.70" width="0.60" height="14.50" fill="#000" fill-opacity="1.00"/>
<rect x="343.97" y="611.70" width="0.90" height="14.50" fill="#000" fill-opacity="1.00"/>
<rect x="345.71" y="611.70" width="0.90" height="14.50" fill="#000" fill-opacity="1.00"/>
</g>
<defs><linearGradient id="g5" x1="0" x2="1" y1="0" y2="0"><stop offset="0" stop-color="#e4474a"/><stop offset="0.26" stop-color="#e85a5e"/><stop offset="0.28" stop-color="#ec9ec8"/><stop offset="0.45" stop-color="#eab8e0"/><stop offset="0.55" stop-color="#c8c4ec"/><stop offset="0.8" stop-color="#9a98dc"/><stop offset="0.86" stop-color="#5a56b4"/><stop offset="1" stop-color="#2a2288"/></linearGradient></defs>
<rect x="244.50" y="626.20" width="101.80" height="4.00" fill="url(#g5)"/>
<text x="246.30" y="635.30" font-size="5.0" fill="#e0504a" text-anchor="start" textLength="58" lengthAdjust="spacingAndGlyphs" >‘na_pos’ (positively correlated)</text>
<line x1="245.50" y1="639.40" x2="346.30" y2="639.40" stroke="#b8b8b8" stroke-width="0.5" />
<path d="M245.00 639.40 L245.00 638.90 L264.50 639.30 L295.40 639.40 L324.30 639.80 L336.30 640.30 L342.30 641.20 L344.80 643.40 L346.00 648.40 L346.30 639.40 Z" fill="#d4d4d4" stroke="#999" stroke-width="0.4"/>
<text x="296.35" y="645.22" font-size="5.6" fill="#222" stroke="#222" stroke-width="0.1" text-anchor="middle" textLength="35.6" lengthAdjust="spacingAndGlyphs" >Zero cross at 6057</text>
<text x="345.80" y="658.90" font-size="5.0" fill="#4a4aa8" text-anchor="end" textLength="60.4" lengthAdjust="spacingAndGlyphs" >‘na_neg’ (negatively correlated)</text>
<line x1="241.10" y1="633.25" x2="244.50" y2="633.25" stroke="#222" stroke-width="0.8" />
<text x="238.50" y="634.94" font-size="4.7" fill="#333" text-anchor="end" textLength="5.0" lengthAdjust="spacingAndGlyphs" >10</text>
<line x1="241.10" y1="639.40" x2="244.50" y2="639.40" stroke="#222" stroke-width="0.8" />
<text x="238.50" y="641.09" font-size="4.7" fill="#333" text-anchor="end" textLength="2.6" lengthAdjust="spacingAndGlyphs" >0</text>
<line x1="241.10" y1="645.55" x2="244.50" y2="645.55" stroke="#222" stroke-width="0.8" />
<text x="238.50" y="647.24" font-size="4.7" fill="#333" text-anchor="end" textLength="6.999999999999999" lengthAdjust="spacingAndGlyphs" >−10</text>
<line x1="241.10" y1="651.70" x2="244.50" y2="651.70" stroke="#222" stroke-width="0.8" />
<text x="238.50" y="653.39" font-size="4.7" fill="#333" text-anchor="end" textLength="6.999999999999999" lengthAdjust="spacingAndGlyphs" >−20</text>
<line x1="241.10" y1="657.85" x2="244.50" y2="657.85" stroke="#222" stroke-width="0.8" />
<text x="238.50" y="659.54" font-size="4.7" fill="#333" text-anchor="end" textLength="6.999999999999999" lengthAdjust="spacingAndGlyphs" >−30</text>
<path d="M244.50 565.50H351.50V660.50H244.50Z" fill="none" stroke="#222" stroke-width="1"/>
<line x1="244.50" y1="611.70" x2="351.50" y2="611.70" stroke="#ddd" stroke-width="0.4" />
<line x1="244.50" y1="660.50" x2="244.50" y2="663.30" stroke="#222" stroke-width="0.8" />
<text x="244.50" y="669.92" font-size="4.5" fill="#333" text-anchor="middle" textLength="2.4" lengthAdjust="spacingAndGlyphs" >0</text>
<line x1="265.90" y1="660.50" x2="265.90" y2="663.30" stroke="#222" stroke-width="0.8" />
<text x="265.90" y="669.92" font-size="4.5" fill="#333" text-anchor="middle" textLength="9.3" lengthAdjust="spacingAndGlyphs" >2,500</text>
<line x1="287.30" y1="660.50" x2="287.30" y2="663.30" stroke="#222" stroke-width="0.8" />
<text x="287.30" y="669.92" font-size="4.5" fill="#333" text-anchor="middle" textLength="9.3" lengthAdjust="spacingAndGlyphs" >5,000</text>
<line x1="308.70" y1="660.50" x2="308.70" y2="663.30" stroke="#222" stroke-width="0.8" />
<text x="308.70" y="669.92" font-size="4.5" fill="#333" text-anchor="middle" textLength="9.3" lengthAdjust="spacingAndGlyphs" >7,500</text>
<line x1="330.10" y1="660.50" x2="330.10" y2="663.30" stroke="#222" stroke-width="0.8" />
<text x="330.10" y="669.92" font-size="4.5" fill="#333" text-anchor="middle" textLength="11.5" lengthAdjust="spacingAndGlyphs" >10,000</text>
<line x1="351.50" y1="660.50" x2="351.50" y2="663.30" stroke="#222" stroke-width="0.8" />
<text x="351.50" y="669.92" font-size="4.5" fill="#333" text-anchor="middle" textLength="11.5" lengthAdjust="spacingAndGlyphs" >12,500</text>
<text x="299.20" y="679.49" font-size="7.2" fill="#333" stroke="#333" stroke-width="0.16" text-anchor="middle" textLength="55.3" lengthAdjust="spacingAndGlyphs" >Rank in ordered dataset</text>
<text transform="translate(225.30,588.60) rotate(-90)" font-size="7.2" fill="#333" stroke="#333" stroke-width="0.12" text-anchor="middle" textLength="47" lengthAdjust="spacingAndGlyphs">Enrichment score (ES)</text>
<text transform="translate(218.50,647.35) rotate(-90)" font-size="7.4" fill="#333" stroke="#333" stroke-width="0.12" text-anchor="middle" textLength="38" lengthAdjust="spacingAndGlyphs">Ranked list metric</text>
<text transform="translate(225.30,647.35) rotate(-90)" font-size="7.4" fill="#333" stroke="#333" stroke-width="0.12" text-anchor="middle" textLength="28" lengthAdjust="spacingAndGlyphs">(PreRanked)</text>
<text x="453.50" y="554.00" font-size="7.5" fill="#333" stroke="#333" stroke-width="0.16" text-anchor="middle" textLength="85" lengthAdjust="spacingAndGlyphs" >Enrichment plot: HALLMARK_</text>
<text x="454.00" y="561.40" font-size="7.5" fill="#333" stroke="#333" stroke-width="0.16" text-anchor="middle" textLength="101" lengthAdjust="spacingAndGlyphs" >INTERFERON_ALPHA_RESPONSE</text>
<path d="M400.50 570.51 C400.86 570.68 401.94 571.96 402.64 571.52 C403.34 571.08 403.88 568.24 404.68 567.88 C405.48 567.53 405.75 568.96 407.44 569.39 C409.12 569.83 412.82 570.05 414.78 570.51 C416.73 570.98 414.92 570.26 419.17 572.19 C423.42 574.12 433.22 578.66 440.28 582.08 C447.33 585.50 455.15 589.35 461.50 592.70 C467.84 596.06 473.74 599.74 478.33 602.21 C482.92 604.68 486.37 606.54 489.04 607.52 C491.70 608.50 492.76 608.43 494.34 608.08 C495.92 607.72 497.38 607.44 498.52 605.39 C499.66 603.34 500.51 601.59 501.17 595.78 C501.84 589.97 502.28 574.72 502.50 570.51" fill="none" stroke="#5eae45" stroke-width="1.15"/>
<text x="403.10" y="596.40" font-size="5.0" fill="#222" text-anchor="start" textLength="21" lengthAdjust="spacingAndGlyphs" >NES = −1.6</text>
<text x="403.10" y="601.40" font-size="5.0" fill="#222" text-anchor="start" textLength="26" lengthAdjust="spacingAndGlyphs" ><tspan font-style="italic">P</tspan> value = .01</text>
<text x="403.10" y="606.40" font-size="5.0" fill="#222" text-anchor="start" textLength="20" lengthAdjust="spacingAndGlyphs" >FDR = 0.01</text>
<line x1="396.90" y1="570.40" x2="400.50" y2="570.40" stroke="#222" stroke-width="0.8" />
<text x="394.10" y="572.09" font-size="4.7" fill="#333" text-anchor="end" textLength="5.6" lengthAdjust="spacingAndGlyphs" >0.0</text>
<line x1="396.90" y1="575.99" x2="400.50" y2="575.99" stroke="#222" stroke-width="0.8" />
<text x="394.10" y="577.68" font-size="4.7" fill="#333" text-anchor="end" textLength="7.4" lengthAdjust="spacingAndGlyphs" >−0.1</text>
<line x1="396.90" y1="581.58" x2="400.50" y2="581.58" stroke="#222" stroke-width="0.8" />
<text x="394.10" y="583.27" font-size="4.7" fill="#333" text-anchor="end" textLength="7.4" lengthAdjust="spacingAndGlyphs" >−0.2</text>
<line x1="396.90" y1="587.17" x2="400.50" y2="587.17" stroke="#222" stroke-width="0.8" />
<text x="394.10" y="588.86" font-size="4.7" fill="#333" text-anchor="end" textLength="7.4" lengthAdjust="spacingAndGlyphs" >−0.3</text>
<line x1="396.90" y1="592.76" x2="400.50" y2="592.76" stroke="#222" stroke-width="0.8" />
<text x="394.10" y="594.45" font-size="4.7" fill="#333" text-anchor="end" textLength="7.4" lengthAdjust="spacingAndGlyphs" >−0.4</text>
<line x1="396.90" y1="598.35" x2="400.50" y2="598.35" stroke="#222" stroke-width="0.8" />
<text x="394.10" y="600.04" font-size="4.7" fill="#333" text-anchor="end" textLength="7.4" lengthAdjust="spacingAndGlyphs" >−0.5</text>
<line x1="396.90" y1="603.94" x2="400.50" y2="603.94" stroke="#222" stroke-width="0.8" />
<text x="394.10" y="605.63" font-size="4.7" fill="#333" text-anchor="end" textLength="7.4" lengthAdjust="spacingAndGlyphs" >−0.6</text>
<line x1="396.90" y1="609.53" x2="400.50" y2="609.53" stroke="#222" stroke-width="0.8" />
<text x="394.10" y="611.22" font-size="4.7" fill="#333" text-anchor="end" textLength="7.4" lengthAdjust="spacingAndGlyphs" >−0.7</text>
<g filter="url(#bb)">
<rect x="402.99" y="611.70" width="0.60" height="14.50" fill="#000" fill-opacity="0.99"/>
<rect x="404.64" y="611.70" width="0.70" height="14.50" fill="#000" fill-opacity="0.98"/>
<rect x="406.06" y="611.70" width="0.70" height="14.50" fill="#000" fill-opacity="0.67"/>
<rect x="408.81" y="611.70" width="0.70" height="14.50" fill="#000" fill-opacity="1.00"/>
<rect x="410.67" y="611.70" width="0.50" height="14.50" fill="#000" fill-opacity="1.00"/>
<rect x="413.38" y="611.70" width="0.60" height="14.50" fill="#000" fill-opacity="0.66"/>
<rect x="414.87" y="611.70" width="0.60" height="14.50" fill="#000" fill-opacity="0.51"/>
<rect x="416.81" y="611.70" width="0.70" height="14.50" fill="#000" fill-opacity="0.94"/>
<rect x="419.69" y="611.70" width="0.90" height="14.50" fill="#000" fill-opacity="1.00"/>
<rect x="421.24" y="611.70" width="0.60" height="14.50" fill="#000" fill-opacity="0.97"/>
<rect x="423.23" y="611.70" width="0.90" height="14.50" fill="#000" fill-opacity="0.71"/>
<rect x="424.26" y="611.70" width="0.50" height="14.50" fill="#000" fill-opacity="0.80"/>
<rect x="426.97" y="611.70" width="0.90" height="14.50" fill="#000" fill-opacity="0.48"/>
<rect x="428.62" y="611.70" width="0.50" height="14.50" fill="#000" fill-opacity="0.72"/>
<rect x="430.22" y="611.70" width="0.70" height="14.50" fill="#000" fill-opacity="0.92"/>
<rect x="432.79" y="611.70" width="0.50" height="14.50" fill="#000" fill-opacity="0.85"/>
<rect x="435.23" y="611.70" width="0.50" height="14.50" fill="#000" fill-opacity="1.00"/>
<rect x="436.54" y="611.70" width="0.90" height="14.50" fill="#000" fill-opacity="0.56"/>
<rect x="438.14" y="611.70" width="0.90" height="14.50" fill="#000" fill-opacity="0.49"/>
<rect x="441.37" y="611.70" width="0.90" height="14.50" fill="#000" fill-opacity="0.86"/>
<rect x="442.81" y="611.70" width="0.70" height="14.50" fill="#000" fill-opacity="0.94"/>
<rect x="445.44" y="611.70" width="0.60" height="14.50" fill="#000" fill-opacity="1.00"/>
<rect x="447.92" y="611.70" width="0.90" height="14.50" fill="#000" fill-opacity="1.00"/>
<rect x="448.15" y="611.70" width="0.50" height="14.50" fill="#000" fill-opacity="0.92"/>
<rect x="451.61" y="611.70" width="0.60" height="14.50" fill="#000" fill-opacity="0.51"/>
<rect x="452.05" y="611.70" width="0.90" height="14.50" fill="#000" fill-opacity="0.59"/>
<rect x="454.41" y="611.70" width="0.90" height="14.50" fill="#000" fill-opacity="0.71"/>
<rect x="456.97" y="611.70" width="0.70" height="14.50" fill="#000" fill-opacity="1.00"/>
<rect x="458.36" y="611.70" width="0.60" height="14.50" fill="#000" fill-opacity="0.70"/>
<rect x="460.29" y="611.70" width="0.60" height="14.50" fill="#000" fill-opacity="0.83"/>
<rect x="462.90" y="611.70" width="0.60" height="14.50" fill="#000" fill-opacity="0.46"/>
<rect x="472.19" y="611.70" width="0.60" height="14.50" fill="#000" fill-opacity="0.98"/>
<rect x="473.85" y="611.70" width="0.70" height="14.50" fill="#000" fill-opacity="0.94"/>
<rect x="476.20" y="611.70" width="0.90" height="14.50" fill="#000" fill-opacity="1.00"/>
<rect x="478.42" y="611.70" width="0.50" height="14.50" fill="#000" fill-opacity="1.00"/>
<rect x="480.28" y="611.70" width="0.70" height="14.50" fill="#000" fill-opacity="1.00"/>
<rect x="481.45" y="611.70" width="0.60" height="14.50" fill="#000" fill-opacity="1.00"/>
<rect x="483.33" y="611.70" width="0.50" height="14.50" fill="#000" fill-opacity="0.73"/>
<rect x="484.65" y="611.70" width="0.90" height="14.50" fill="#000" fill-opacity="1.00"/>
<rect x="486.33" y="611.70" width="0.70" height="14.50" fill="#000" fill-opacity="1.00"/>
<rect x="488.31" y="611.70" width="0.70" height="14.50" fill="#000" fill-opacity="1.00"/>
<rect x="490.19" y="611.70" width="0.70" height="14.50" fill="#000" fill-opacity="1.00"/>
<rect x="492.01" y="611.70" width="0.60" height="14.50" fill="#000" fill-opacity="1.00"/>
<rect x="493.20" y="611.70" width="0.60" height="14.50" fill="#000" fill-opacity="0.84"/>
<rect x="495.39" y="611.70" width="0.50" height="14.50" fill="#000" fill-opacity="0.78"/>
<rect x="497.67" y="611.70" width="0.60" height="14.50" fill="#000" fill-opacity="0.98"/>
<rect x="498.30" y="611.70" width="0.90" height="14.50" fill="#000" fill-opacity="0.76"/>
<rect x="500.71" y="611.70" width="0.70" height="14.50" fill="#000" fill-opacity="0.76"/>
<rect x="501.93" y="611.70" width="0.90" height="14.50" fill="#000" fill-opacity="0.86"/>
</g>
<defs><linearGradient id="g6" x1="0" x2="1" y1="0" y2="0"><stop offset="0" stop-color="#e4474a"/><stop offset="0.26" stop-color="#e85a5e"/><stop offset="0.28" stop-color="#ec9ec8"/><stop offset="0.45" stop-color="#eab8e0"/><stop offset="0.55" stop-color="#c8c4ec"/><stop offset="0.8" stop-color="#9a98dc"/><stop offset="0.86" stop-color="#5a56b4"/><stop offset="1" stop-color="#2a2288"/></linearGradient></defs>
<rect x="400.50" y="626.20" width="102.00" height="4.00" fill="url(#g6)"/>
<text x="402.30" y="635.30" font-size="5.0" fill="#e0504a" text-anchor="start" textLength="58" lengthAdjust="spacingAndGlyphs" >‘na_pos’ (positively correlated)</text>
<line x1="401.50" y1="639.40" x2="502.50" y2="639.40" stroke="#b8b8b8" stroke-width="0.5" />
<path d="M401.00 639.40 L401.00 638.90 L420.50 639.30 L451.50 639.40 L480.50 639.80 L492.50 640.30 L498.50 641.20 L501.00 643.40 L502.20 648.40 L502.50 639.40 Z" fill="#d4d4d4" stroke="#999" stroke-width="0.4"/>
<text x="452.35" y="645.22" font-size="5.6" fill="#222" stroke="#222" stroke-width="0.1" text-anchor="middle" textLength="35.6" lengthAdjust="spacingAndGlyphs" >Zero cross at 6057</text>
<text x="502.00" y="658.90" font-size="5.0" fill="#4a4aa8" text-anchor="end" textLength="60.4" lengthAdjust="spacingAndGlyphs" >‘na_neg’ (negatively correlated)</text>
<line x1="397.10" y1="633.25" x2="400.50" y2="633.25" stroke="#222" stroke-width="0.8" />
<text x="394.50" y="634.94" font-size="4.7" fill="#333" text-anchor="end" textLength="5.0" lengthAdjust="spacingAndGlyphs" >10</text>
<line x1="397.10" y1="639.40" x2="400.50" y2="639.40" stroke="#222" stroke-width="0.8" />
<text x="394.50" y="641.09" font-size="4.7" fill="#333" text-anchor="end" textLength="2.6" lengthAdjust="spacingAndGlyphs" >0</text>
<line x1="397.10" y1="645.55" x2="400.50" y2="645.55" stroke="#222" stroke-width="0.8" />
<text x="394.50" y="647.24" font-size="4.7" fill="#333" text-anchor="end" textLength="6.999999999999999" lengthAdjust="spacingAndGlyphs" >−10</text>
<line x1="397.10" y1="651.70" x2="400.50" y2="651.70" stroke="#222" stroke-width="0.8" />
<text x="394.50" y="653.39" font-size="4.7" fill="#333" text-anchor="end" textLength="6.999999999999999" lengthAdjust="spacingAndGlyphs" >−20</text>
<line x1="397.10" y1="657.85" x2="400.50" y2="657.85" stroke="#222" stroke-width="0.8" />
<text x="394.50" y="659.54" font-size="4.7" fill="#333" text-anchor="end" textLength="6.999999999999999" lengthAdjust="spacingAndGlyphs" >−30</text>
<path d="M400.50 565.50H507.50V660.50H400.50Z" fill="none" stroke="#222" stroke-width="1"/>
<line x1="400.50" y1="611.70" x2="507.50" y2="611.70" stroke="#ddd" stroke-width="0.4" />
<line x1="400.50" y1="660.50" x2="400.50" y2="663.30" stroke="#222" stroke-width="0.8" />
<text x="400.50" y="669.92" font-size="4.5" fill="#333" text-anchor="middle" textLength="2.4" lengthAdjust="spacingAndGlyphs" >0</text>
<line x1="421.90" y1="660.50" x2="421.90" y2="663.30" stroke="#222" stroke-width="0.8" />
<text x="421.90" y="669.92" font-size="4.5" fill="#333" text-anchor="middle" textLength="9.3" lengthAdjust="spacingAndGlyphs" >2,500</text>
<line x1="443.30" y1="660.50" x2="443.30" y2="663.30" stroke="#222" stroke-width="0.8" />
<text x="443.30" y="669.92" font-size="4.5" fill="#333" text-anchor="middle" textLength="9.3" lengthAdjust="spacingAndGlyphs" >5,000</text>
<line x1="464.70" y1="660.50" x2="464.70" y2="663.30" stroke="#222" stroke-width="0.8" />
<text x="464.70" y="669.92" font-size="4.5" fill="#333" text-anchor="middle" textLength="9.3" lengthAdjust="spacingAndGlyphs" >7,500</text>
<line x1="486.10" y1="660.50" x2="486.10" y2="663.30" stroke="#222" stroke-width="0.8" />
<text x="486.10" y="669.92" font-size="4.5" fill="#333" text-anchor="middle" textLength="11.5" lengthAdjust="spacingAndGlyphs" >10,000</text>
<line x1="507.50" y1="660.50" x2="507.50" y2="663.30" stroke="#222" stroke-width="0.8" />
<text x="507.50" y="669.92" font-size="4.5" fill="#333" text-anchor="middle" textLength="11.5" lengthAdjust="spacingAndGlyphs" >12,500</text>
<text x="455.20" y="679.49" font-size="7.2" fill="#333" stroke="#333" stroke-width="0.16" text-anchor="middle" textLength="55.3" lengthAdjust="spacingAndGlyphs" >Rank in ordered dataset</text>
<text transform="translate(381.30,588.60) rotate(-90)" font-size="7.2" fill="#333" stroke="#333" stroke-width="0.12" text-anchor="middle" textLength="47" lengthAdjust="spacingAndGlyphs">Enrichment score (ES)</text>
<text transform="translate(374.50,647.35) rotate(-90)" font-size="7.4" fill="#333" stroke="#333" stroke-width="0.12" text-anchor="middle" textLength="38" lengthAdjust="spacingAndGlyphs">Ranked list metric</text>
<text transform="translate(381.30,647.35) rotate(-90)" font-size="7.4" fill="#333" stroke="#333" stroke-width="0.12" text-anchor="middle" textLength="28" lengthAdjust="spacingAndGlyphs">(PreRanked)</text>
<text transform="translate(212.58,259.20) scale(0.803,1)" font-size="11.9" font-weight="bold" fill="#111" stroke="#111" stroke-width="0.3">E</text>
<text transform="translate(212.56,409.00) scale(0.824,1)" font-size="11.9" font-weight="bold" fill="#111" stroke="#111" stroke-width="0.3">F</text>
<text transform="translate(211.93,558.10) scale(0.984,1)" font-size="11.9" font-weight="bold" fill="#111" stroke="#111" stroke-width="0.3">G</text>
<rect x="0.5" y="0.5" width="519" height="692" fill="none" stroke="#505050" stroke-width="1.05"/>
</svg></body></html>
